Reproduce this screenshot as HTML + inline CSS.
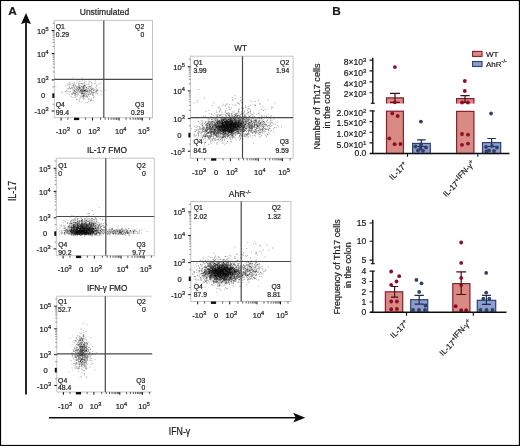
<!DOCTYPE html><html><head><meta charset="utf-8"><style>html,body{margin:0;padding:0;background:#fff}svg{display:block}text{stroke:#1a1a1a;stroke-width:.2px}</style></head><body>
<svg width="520" height="446" viewBox="0 0 520 446" font-family='"Liberation Sans", sans-serif' fill="#1a1a1a">
<defs><filter id="b" x="0" y="0" width="520" height="446" filterUnits="userSpaceOnUse"><feGaussianBlur stdDeviation="0.3"/></filter></defs>
<rect x="0" y="0" width="520" height="446" fill="#000"/><rect x="1.1" y="1.05" width="517.75" height="443.85" fill="#fff"/>
<g filter="url(#b)">
<path d="M83.5 87.1h.9M84.0 85.3h.9M84.4 91.6h.9M67.1 83.8h.9M84.8 97.2h.9M70.3 88.8h.9M83.2 86.8h.9M73.0 85.1h.9M78.0 87.0h.9M81.9 93.5h.9M85.2 89.8h.9M91.2 85.1h.9M79.5 89.9h.9M81.3 91.1h.9M81.8 93.2h.9M83.3 87.8h.9M72.4 92.7h.9M84.9 90.2h.9M82.0 96.5h.9M83.8 89.7h.9M84.3 95.4h.9M65.2 91.6h.9M84.6 90.6h.9M82.1 80.4h.9M78.1 94.0h.9M77.5 95.7h.9M71.6 94.3h.9M95.6 91.3h.9M83.3 95.6h.9M74.0 95.0h.9M79.7 95.6h.9M93.6 92.5h.9M91.8 89.2h.9M79.6 97.6h.9M99.7 84.1h.9M83.4 93.6h.9M81.4 95.9h.9M69.4 82.7h.9M74.9 93.6h.9M100.9 94.8h.9M79.5 81.3h.9M83.3 83.1h.9M95.0 80.8h.9M83.9 82.6h.9M74.5 91.9h.9M83.4 88.3h.9M86.8 97.0h.9M81.2 89.3h.9M78.7 101.0h.9M89.3 90.2h.9M96.5 91.9h.9M87.9 94.1h.9M80.1 87.6h.9M76.2 87.4h.9M78.3 87.1h.9M81.3 93.9h.9M94.5 97.0h.9M100.3 90.5h.9M91.8 83.4h.9M85.3 93.4h.9M87.8 88.9h.9M66.8 85.4h.9M80.3 91.3h.9M73.4 89.9h.9M93.1 97.9h.9M80.2 89.9h.9M85.4 96.4h.9M80.3 96.7h.9M87.5 94.6h.9M81.0 92.8h.9M84.9 90.3h.9M86.4 94.0h.9M76.4 99.7h.9M70.3 84.1h.9M96.4 92.8h.9M82.2 94.8h.9M91.7 88.0h.9M68.0 84.9h.9M73.8 95.7h.9" stroke="#000" stroke-width=".9" stroke-opacity="0.33" fill="none"/>
<path d="M86.1 87.6h.9M95.0 83.0h.9M75.5 90.6h.9M72.4 93.6h.9M81.9 77.8h.9M79.4 83.7h.9M91.1 82.5h.9M84.2 90.5h.9M100.7 91.4h.9M89.4 90.6h.9M79.5 88.1h.9M93.3 88.5h.9M82.7 88.8h.9M96.6 86.0h.9M73.9 82.7h.9M89.2 89.9h.9M86.5 96.3h.9M102.8 80.2h.9M81.7 89.0h.9M74.4 84.5h.9M78.4 87.0h.9M90.8 89.8h.9M70.3 91.5h.9M75.1 88.8h.9M72.5 77.6h.9M80.7 92.1h.9M76.6 99.4h.9M71.0 96.9h.9M84.1 83.9h.9M73.0 92.5h.9M79.1 86.4h.9M89.4 86.9h.9M82.3 96.3h.9M96.5 90.9h.9M96.3 84.9h.9M90.7 89.7h.9M83.8 90.7h.9M87.8 86.3h.9M75.9 99.8h.9M71.5 87.8h.9M89.9 94.1h.9M64.6 91.5h.9M83.9 96.4h.9M83.0 86.7h.9M87.9 84.1h.9M72.1 87.4h.9M61.0 92.8h.9M82.0 91.1h.9M80.2 90.3h.9M84.4 95.1h.9M88.3 88.7h.9M84.1 93.6h.9M81.5 93.2h.9M91.1 92.9h.9M85.1 86.7h.9M81.8 90.2h.9M75.7 92.3h.9M81.8 91.7h.9M75.4 89.1h.9M86.1 87.6h.9M99.6 87.8h.9M71.4 85.8h.9M77.7 89.6h.9M83.0 86.7h.9M92.6 92.3h.9M80.6 102.0h.9M92.1 89.0h.9M92.4 92.7h.9M67.2 91.1h.9M73.8 93.7h.9M69.1 84.8h.9M74.5 85.4h.9M80.9 89.7h.9M83.5 95.6h.9M76.8 93.8h.9M88.7 94.3h.9M75.7 89.5h.9M83.0 96.5h.9M86.8 89.0h.9" stroke="#000" stroke-width=".9" stroke-opacity="0.33" fill="none"/>
<path d="M81.1 93.3h.9M79.3 99.1h.9M83.2 99.5h.9M67.7 93.7h.9M61.9 92.1h.9M75.1 85.9h.9M78.5 88.7h.9M95.2 91.2h.9M90.1 88.4h.9M82.9 91.9h.9M84.6 91.9h.9M72.1 88.8h.9M94.3 89.7h.9M79.8 91.7h.9M83.4 92.9h.9M80.6 93.6h.9M69.0 94.6h.9M76.3 92.1h.9M89.5 92.4h.9M85.7 87.7h.9M82.5 90.5h.9M68.5 91.7h.9M94.2 83.6h.9M92.9 95.4h.9M94.3 90.8h.9M78.7 91.9h.9M97.7 90.8h.9M81.7 86.3h.9M77.0 86.3h.9M95.0 93.7h.9M88.9 87.2h.9M86.8 91.3h.9M88.2 101.3h.9M72.8 85.8h.9M73.7 93.3h.9M69.4 92.3h.9M76.1 87.0h.9M83.0 89.0h.9M85.2 89.8h.9M91.1 100.0h.9M82.8 89.9h.9M77.5 87.1h.9M73.4 91.4h.9M83.8 85.3h.9M77.6 91.8h.9M98.3 83.9h.9M85.7 87.8h.9M93.7 89.4h.9M67.9 88.9h.9M85.4 92.1h.9M83.0 97.6h.9M80.5 97.0h.9M81.6 86.5h.9M76.9 91.9h.9M83.5 85.2h.9M74.5 92.0h.9M92.8 93.1h.9M78.4 84.3h.9M76.1 90.0h.9M80.9 90.5h.9M88.6 94.7h.9M90.8 89.0h.9M89.0 83.0h.9M82.0 93.6h.9M92.8 96.6h.9M72.3 93.7h.9M68.6 82.0h.9M85.3 94.6h.9M95.1 92.1h.9M105.3 90.0h.9M80.2 90.5h.9M79.2 91.4h.9M74.7 93.7h.9M77.9 90.3h.9M86.8 91.1h.9M83.1 91.5h.9M83.2 96.2h.9M93.0 90.9h.9" stroke="#000" stroke-width=".9" stroke-opacity="0.33" fill="none"/>
<path d="M75.8 86.9h.9M78.2 89.0h.9M89.5 86.4h.9M81.5 86.3h.9M78.9 85.6h.9M76.5 96.8h.9M82.5 90.6h.9M70.2 96.0h.9M73.2 86.9h.9M89.2 90.3h.9M73.3 90.2h.9M76.7 80.9h.9M89.4 86.6h.9M80.9 91.3h.9M79.7 91.7h.9M92.5 93.3h.9M66.0 90.9h.9M78.1 83.7h.9M88.0 99.0h.9M76.1 92.4h.9M66.3 93.2h.9M90.0 86.6h.9M95.9 89.8h.9M78.8 92.3h.9M82.2 93.2h.9M83.6 94.4h.9M77.7 90.3h.9M78.1 89.7h.9M87.4 92.6h.9M79.1 88.4h.9M80.9 91.6h.9M78.7 88.9h.9M90.2 100.3h.9M90.9 91.7h.9M69.0 86.6h.9M65.4 85.8h.9M70.5 88.5h.9M87.0 102.6h.9M76.8 88.8h.9M82.7 98.6h.9M84.2 92.8h.9M66.6 88.4h.9M75.4 95.5h.9M90.4 88.9h.9M92.9 90.8h.9M96.1 91.3h.9M83.0 97.4h.9M86.4 90.6h.9M97.0 94.0h.9M81.3 91.2h.9M78.5 81.6h.9M74.0 83.1h.9M84.4 81.3h.9M88.5 98.3h.9M75.0 92.3h.9M86.2 91.4h.9M96.6 93.4h.9M71.9 97.7h.9M79.2 87.3h.9M83.2 95.3h.9M84.0 85.6h.9M89.6 81.5h.9M102.9 89.7h.9M73.6 87.6h.9M79.4 88.4h.9M71.1 87.8h.9M76.8 89.2h.9M73.1 85.2h.9M88.6 99.3h.9M82.0 92.1h.9M92.0 95.3h.9M79.6 85.7h.9M72.4 90.8h.9M75.1 96.8h.9M81.5 92.9h.9M74.2 90.6h.9M68.7 83.7h.9M70.4 84.1h.9" stroke="#000" stroke-width=".9" stroke-opacity="0.33" fill="none"/>
<path d="M79.6 92.6h.9M87.7 92.1h.9M71.9 83.1h.9M72.6 83.9h.9M83.1 95.5h.9M92.6 95.0h.9M84.4 90.5h.9M90.9 99.7h.9M84.1 90.6h.9M95.9 88.1h.9M78.5 84.3h.9M89.1 91.5h.9M80.7 89.4h.9M86.5 90.3h.9M93.5 92.6h.9M83.5 91.7h.9M80.9 83.5h.9M85.3 85.0h.9M74.6 97.6h.9M91.9 93.1h.9M73.8 93.0h.9M76.2 82.9h.9M82.9 88.0h.9M83.1 88.0h.9M91.8 94.4h.9M80.3 88.2h.9M74.4 91.2h.9M68.4 89.1h.9M78.9 87.5h.9M86.0 95.6h.9M82.2 87.5h.9M71.6 94.4h.9M90.6 91.5h.9M87.7 93.1h.9M90.5 90.5h.9M85.7 89.3h.9M82.1 89.7h.9M75.0 94.7h.9M86.6 96.5h.9M83.4 93.4h.9M81.0 93.8h.9M55.5 86.5h.9M93.2 100.4h.9M88.3 91.4h.9M72.6 88.8h.9M79.5 99.0h.9M84.2 90.6h.9M83.5 85.8h.9M91.8 94.5h.9M81.7 97.8h.9M78.0 87.4h.9M82.9 94.2h.9M69.8 88.4h.9M96.6 90.6h.9M87.5 88.1h.9M72.8 93.1h.9M85.7 84.3h.9M83.9 91.3h.9M86.0 91.4h.9M85.3 102.7h.9M69.0 87.8h.9M82.2 84.1h.9M85.4 94.6h.9M84.5 85.5h.9M87.9 95.3h.9M90.3 90.8h.9M85.0 91.0h.9M75.5 94.3h.9M95.1 87.2h.9M97.2 90.3h.9M72.7 85.8h.9M83.1 96.0h.9M83.1 91.2h.9M90.8 92.0h.9M77.0 88.1h.9M82.6 95.5h.9M89.1 96.6h.9M74.1 88.7h.9" stroke="#000" stroke-width=".9" stroke-opacity="0.33" fill="none"/>
<path d="M75.0 85.9h.9M86.6 90.8h.9M79.6 86.0h.9M85.8 89.3h.9M84.5 85.9h.9M76.6 88.6h.9M84.0 90.4h.9M84.5 90.2h.9M88.5 86.3h.9M77.7 86.2h.9M81.8 91.0h.9M66.4 90.6h.9M80.3 88.1h.9M82.5 88.7h.9M89.1 92.9h.9M88.5 84.1h.9M75.8 94.7h.9M87.7 88.1h.9M82.8 90.3h.9M85.2 91.4h.9M86.6 95.9h.9M90.2 93.8h.9M81.1 86.7h.9M76.7 90.4h.9M83.6 98.6h.9M80.9 90.5h.9M86.4 97.1h.9M89.8 94.7h.9M82.3 83.8h.9M83.2 89.7h.9M83.7 93.9h.9M91.7 88.3h.9M91.4 92.2h.9M91.0 87.4h.9M74.8 91.3h.9M83.9 86.1h.9M75.1 93.6h.9M77.8 90.0h.9M86.4 93.2h.9M71.0 93.3h.9M93.4 89.8h.9M78.9 89.0h.9M84.9 91.0h.9M85.4 81.7h.9M82.3 90.4h.9M90.1 100.2h.9M74.2 90.0h.9M96.6 89.8h.9M91.4 86.1h.9M84.0 87.7h.9M97.3 89.1h.9M91.0 89.9h.9M81.5 83.8h.9M80.8 83.6h.9M100.8 82.7h.9M74.0 90.5h.9M88.3 90.3h.9M96.2 85.9h.9M81.7 87.8h.9M82.8 86.1h.9M86.8 90.8h.9M68.8 88.1h.9M76.8 93.0h.9M73.6 86.6h.9M82.4 88.0h.9M81.9 92.2h.9M86.9 91.5h.9M90.4 100.8h.9M80.2 90.1h.9M77.9 91.1h.9M92.7 90.2h.9M78.9 101.1h.9M91.1 98.3h.9M79.0 87.5h.9M88.6 81.3h.9M83.9 88.7h.9M74.2 87.4h.9M77.1 94.7h.9" stroke="#000" stroke-width=".9" stroke-opacity="0.33" fill="none"/>
<rect x="54.3" y="20.4" width="98.2" height="97.3" fill="none" stroke="#c4c4c4" stroke-width="1"/>
<path d="M103.8 20.4V117.7M54.3 79.4H152.5" stroke="#4a4a4a" stroke-width="1.2" fill="none"/>
<path d="M51.7 111.0H54.3M61.1 117.7V120.5M51.7 79.9H54.3M92.5 117.7V120.5M51.7 53.5H54.3M119.1 117.7V120.5M51.7 30.5H54.3M142.3 117.7V120.5" stroke="#111" stroke-width="1" fill="none"/>
<path d="M52.7 104.2H54.3M52.7 86.8H54.3M52.7 71.9H54.3M52.7 67.3H54.3M52.7 64.0H54.3M52.7 61.4H54.3M52.7 59.3H54.3M52.7 57.6H54.3M52.7 56.0H54.3M52.7 54.7H54.3M52.7 46.6H54.3M52.7 42.5H54.3M52.7 39.7H54.3M52.7 37.4H54.3M52.7 35.6H54.3M52.7 34.1H54.3M52.7 32.7H54.3M52.7 31.6H54.3M52.7 23.2H54.3" stroke="#777" stroke-width=".8" fill="none"/>
<path d="M67.9 117.7V119.8M85.5 117.7V119.8M100.5 117.7V119.8M105.2 117.7V119.8M108.5 117.7V119.8M111.1 117.7V119.8M113.2 117.7V119.8M115.0 117.7V119.8M116.5 117.7V119.8M117.9 117.7V119.8M126.1 117.7V119.8M130.2 117.7V119.8M133.1 117.7V119.8M135.3 117.7V119.8M137.2 117.7V119.8M138.7 117.7V119.8M140.1 117.7V119.8M141.2 117.7V119.8M149.6 117.7V119.8" stroke="#333" stroke-width=".8" fill="none"/>
<rect x="52.3" y="93.3" width="2" height="4.6" fill="#111"/>
<rect x="74.0" y="117.7" width="5.2" height="2.4" fill="#111"/>
<text x="48.70" y="33.81" font-size="7.6" text-anchor="end">10<tspan font-size="5.60" dy="-2.8">5</tspan></text>
<text x="48.70" y="56.79" font-size="7.6" text-anchor="end">10<tspan font-size="5.60" dy="-2.8">4</tspan></text>
<text x="48.70" y="83.15" font-size="7.6" text-anchor="end">10<tspan font-size="5.60" dy="-2.8">3</tspan></text>
<text x="48.70" y="114.26" font-size="7.6" text-anchor="end">-10<tspan font-size="5.60" dy="-2.8">3</tspan></text>
<text x="45.3" y="98.3" font-size="7.6" text-anchor="end">0</text>
<text x="62.70" y="134.20" font-size="7.6" text-anchor="middle">-10<tspan font-size="5.60" dy="-2.8">3</tspan></text>
<text x="79.10" y="134.20" font-size="7.6" text-anchor="middle">0</text>
<text x="94.10" y="134.20" font-size="7.6" text-anchor="middle">10<tspan font-size="5.60" dy="-2.8">3</tspan></text>
<text x="120.70" y="134.20" font-size="7.6" text-anchor="middle">10<tspan font-size="5.60" dy="-2.8">4</tspan></text>
<text x="143.90" y="134.20" font-size="7.6" text-anchor="middle">10<tspan font-size="5.60" dy="-2.8">5</tspan></text>
<text x="104.5" y="15.3" font-size="8.5" text-anchor="middle" textLength="49.4" lengthAdjust="spacingAndGlyphs">Unstimulated</text>
<text x="55.8" y="28.7" font-size="6.8">Q1</text><text x="55.8" y="36.8" font-size="6.8">0.29</text>
<text x="144.2" y="28.7" font-size="6.8" text-anchor="end">Q2</text><text x="144.2" y="36.8" font-size="6.8" text-anchor="end">0</text>
<text x="144.2" y="107.4" font-size="6.8" text-anchor="end">Q3</text><text x="144.2" y="115.0" font-size="6.8" text-anchor="end">0.29</text>
<text x="55.8" y="107.4" font-size="6.8">Q4</text><text x="55.8" y="115.0" font-size="6.8">99.4</text>
<path d="M86.5 234.1h.9M78.8 234.3h.9M84.8 231.9h.9M89.9 234.4h.9M88.6 232.8h.9M82.3 230.8h.9M81.1 223.2h.9M82.8 229.8h.9M82.2 231.4h.9M83.7 217.0h.9M86.0 234.4h.9M91.2 231.8h.9M80.6 231.0h.9M76.9 231.2h.9M65.6 232.2h.9M85.5 224.0h.9M84.1 227.0h.9M97.8 222.4h.9M80.7 225.5h.9M75.6 230.5h.9M90.3 227.7h.9M89.4 222.9h.9M90.4 223.1h.9M95.5 231.8h.9M85.3 226.7h.9M84.1 229.8h.9M77.2 231.6h.9M89.7 233.6h.9M89.3 233.2h.9M81.5 234.4h.9M81.9 230.2h.9M76.6 233.4h.9M76.4 232.4h.9M88.5 223.6h.9M92.0 218.4h.9M77.8 230.6h.9M102.9 226.9h.9M78.8 230.6h.9M74.4 233.9h.9M67.5 231.8h.9M79.8 229.2h.9M81.7 234.9h.9M78.8 233.4h.9M81.5 221.0h.9M68.2 230.5h.9M81.4 231.8h.9M82.7 232.7h.9M84.9 234.3h.9M80.1 228.0h.9M94.6 228.1h.9M90.7 227.2h.9M90.9 220.5h.9M74.6 232.9h.9M79.2 228.7h.9M78.9 232.2h.9M82.2 234.8h.9M89.1 222.8h.9M87.3 230.2h.9M84.4 226.8h.9M93.5 228.5h.9M83.7 234.1h.9M85.2 232.2h.9M69.5 229.5h.9M76.6 232.4h.9M95.2 234.4h.9M106.0 224.7h.9M72.5 229.0h.9M76.5 230.8h.9M78.8 233.5h.9M100.1 227.6h.9M97.5 226.3h.9M71.3 231.2h.9M87.9 234.4h.9M80.6 231.0h.9M91.1 218.4h.9M76.9 229.7h.9M95.5 230.5h.9M64.3 230.8h.9M99.4 234.4h.9M90.7 229.8h.9M76.6 227.7h.9M103.1 225.4h.9M85.5 231.2h.9M79.2 230.9h.9M70.9 230.0h.9M80.0 225.0h.9M105.5 223.4h.9M70.4 223.4h.9M103.0 223.5h.9M75.0 232.5h.9M78.9 230.4h.9M82.1 226.9h.9M75.7 234.6h.9M79.6 234.9h.9M89.8 225.6h.9M93.0 229.8h.9M86.5 232.4h.9M86.9 228.5h.9M82.2 227.7h.9M66.9 232.2h.9M84.4 229.4h.9M96.5 229.5h.9M60.4 232.7h.9M73.7 227.7h.9M82.4 228.2h.9M77.9 231.1h.9M88.6 215.7h.9M90.0 229.5h.9M101.6 229.6h.9M83.6 228.1h.9M68.6 230.4h.9M72.4 233.4h.9M79.6 232.3h.9M74.2 234.3h.9M84.1 234.0h.9M77.4 229.8h.9M81.2 234.2h.9M78.6 230.9h.9M88.6 229.1h.9M88.1 227.3h.9M90.5 225.3h.9M72.2 233.8h.9M75.9 229.2h.9M79.1 230.7h.9M80.2 235.4h.9M77.4 223.8h.9M88.0 229.0h.9M65.7 233.9h.9M85.9 232.4h.9M95.2 223.2h.9M71.8 229.4h.9M88.5 227.9h.9M90.4 228.9h.9M77.7 228.1h.9M93.1 229.6h.9M90.0 231.9h.9M91.3 218.2h.9M98.3 228.5h.9M76.4 233.9h.9M85.5 229.6h.9M90.6 230.3h.9M73.9 231.2h.9M71.7 228.0h.9M73.0 230.6h.9M75.7 230.9h.9M76.7 233.1h.9M83.9 228.4h.9M92.6 232.7h.9M74.7 234.3h.9M85.6 232.3h.9M72.9 230.0h.9M96.3 218.8h.9M83.1 223.9h.9M85.0 233.6h.9M91.4 220.9h.9M76.9 232.8h.9M86.0 220.5h.9M74.3 226.8h.9M79.3 233.8h.9M78.6 230.0h.9M92.5 230.5h.9M78.7 232.0h.9M94.3 231.3h.9M85.6 230.6h.9M88.9 225.4h.9M93.7 221.6h.9M80.0 231.8h.9M66.6 230.5h.9M74.2 227.6h.9M69.8 230.3h.9M73.7 236.2h.9M77.6 227.5h.9M90.8 228.3h.9M83.4 231.7h.9M89.1 223.7h.9M72.1 233.3h.9M77.3 224.0h.9M81.6 227.3h.9M76.3 228.7h.9M85.0 228.6h.9M74.1 231.9h.9M81.4 231.9h.9M73.2 228.2h.9M84.3 230.3h.9M74.2 224.3h.9M90.3 226.5h.9M98.8 225.7h.9M95.3 230.5h.9M83.5 231.5h.9M71.2 226.0h.9M73.2 231.6h.9M85.9 231.1h.9M76.8 225.5h.9M82.9 233.4h.9M80.5 234.5h.9M93.0 228.3h.9M89.3 230.6h.9M89.5 225.6h.9M83.3 232.5h.9M80.9 232.1h.9M75.1 232.4h.9M79.1 229.0h.9M87.7 233.3h.9M98.2 226.8h.9M67.1 233.0h.9M85.3 232.1h.9M83.1 232.3h.9M98.8 228.6h.9M89.2 229.6h.9M77.2 229.5h.9M71.2 234.1h.9M85.1 232.7h.9M66.8 230.9h.9M84.3 230.8h.9M91.3 228.4h.9M91.2 231.0h.9M77.0 221.5h.9M93.2 231.6h.9M75.3 227.7h.9M96.2 234.1h.9M81.2 231.6h.9M88.5 229.3h.9M74.6 233.3h.9M91.7 225.3h.9M79.6 232.9h.9M79.5 225.3h.9M73.1 235.0h.9M92.6 226.8h.9M84.5 221.7h.9M92.6 227.4h.9M78.0 232.7h.9M83.6 231.1h.9M76.4 231.8h.9M87.5 228.2h.9M71.0 232.2h.9M70.7 231.2h.9M90.5 234.4h.9M88.2 226.8h.9M79.1 231.0h.9M84.5 230.0h.9M90.3 231.1h.9M80.7 226.5h.9M88.8 219.2h.9M73.0 226.7h.9M76.6 231.4h.9M84.4 231.5h.9M80.4 235.0h.9M94.8 223.1h.9M82.6 225.9h.9M85.3 233.0h.9M85.2 233.7h.9M77.3 226.7h.9M90.4 226.2h.9M86.7 228.3h.9M76.6 226.0h.9M86.3 231.9h.9M90.9 224.2h.9M92.5 225.3h.9M91.0 229.5h.9M65.4 230.8h.9M100.9 229.6h.9M74.1 228.9h.9M86.6 229.3h.9M86.7 233.1h.9M78.7 231.8h.9M69.7 231.0h.9M79.0 229.7h.9M92.0 226.2h.9M89.0 227.4h.9M92.9 230.9h.9M81.6 223.1h.9M86.2 232.5h.9M94.1 233.6h.9M89.8 231.6h.9M80.0 235.2h.9M76.0 232.6h.9M70.1 227.1h.9M84.2 228.8h.9M86.1 217.1h.9M84.0 225.3h.9M86.4 219.1h.9M72.8 232.1h.9M75.6 230.2h.9M89.1 233.9h.9M71.2 223.2h.9M77.2 226.2h.9M87.3 225.3h.9M81.9 230.5h.9M72.9 233.2h.9M89.6 224.7h.9M73.7 216.1h.9M86.9 233.1h.9M70.8 227.4h.9M67.1 233.0h.9M74.2 231.1h.9M99.2 233.3h.9M71.6 232.5h.9M84.1 232.8h.9M79.4 233.0h.9M73.4 228.3h.9M86.9 231.2h.9M81.1 229.9h.9M64.7 221.3h.9M73.6 227.4h.9M74.3 229.3h.9M95.7 233.5h.9M88.1 235.1h.9M89.7 231.3h.9M98.0 230.9h.9M92.6 222.2h.9M76.3 230.0h.9M96.3 231.2h.9M88.2 229.3h.9M77.5 231.6h.9M69.0 233.0h.9M71.6 227.7h.9M92.0 228.8h.9M94.9 231.0h.9M91.3 223.3h.9M75.9 229.8h.9M82.3 232.7h.9M66.9 229.9h.9M88.2 226.7h.9M84.3 224.0h.9M78.7 230.3h.9M60.0 225.7h.9M95.2 225.6h.9M89.9 233.3h.9M84.4 231.9h.9M76.4 228.4h.9M91.3 224.2h.9M87.9 229.9h.9M86.3 226.9h.9M94.6 226.2h.9M79.1 235.1h.9M89.2 228.3h.9M85.6 222.8h.9M84.2 234.2h.9M87.4 218.6h.9M85.1 227.5h.9M69.4 225.7h.9M65.1 231.7h.9M80.7 232.5h.9M85.3 231.6h.9M73.4 225.4h.9M90.9 225.2h.9M71.2 234.8h.9M61.5 233.4h.9M98.5 232.2h.9M88.6 223.0h.9M81.8 232.9h.9M76.6 229.9h.9M83.3 231.1h.9M71.4 228.6h.9M87.0 232.0h.9M94.5 233.2h.9M79.8 233.0h.9M100.6 233.5h.9M59.0 231.2h.9M80.9 223.9h.9M83.8 233.5h.9M92.4 229.5h.9M83.9 231.7h.9M101.4 224.0h.9M89.4 225.3h.9M86.2 232.2h.9M71.2 234.0h.9M119.2 232.5h.9M111.9 232.0h.9M118.7 231.5h.9M124.0 231.8h.9M123.6 234.7h.9M120.0 232.5h.9M112.0 229.5h.9M124.2 232.8h.9M136.5 229.0h.9M123.2 232.3h.9M96.3 233.2h.9M102.7 233.4h.9M125.2 228.2h.9M120.6 233.7h.9M135.4 233.3h.9M121.4 232.4h.9M111.6 230.5h.9M127.9 233.4h.9M112.9 230.8h.9M108.6 229.9h.9M125.6 231.3h.9M118.0 233.3h.9M133.2 232.7h.9M127.2 231.8h.9M118.9 232.1h.9M133.6 229.5h.9M113.9 233.1h.9M125.4 229.6h.9M115.5 232.2h.9M125.4 232.6h.9M121.5 232.4h.9M104.6 232.1h.9M137.6 232.1h.9M108.4 229.9h.9M107.2 234.0h.9M125.3 233.8h.9M122.3 234.1h.9M110.4 232.2h.9M111.2 228.6h.9M123.9 232.8h.9M109.7 231.0h.9M118.1 233.0h.9M110.1 231.6h.9" stroke="#000" stroke-width=".9" stroke-opacity="0.36" fill="none"/>
<path d="M89.1 232.7h.9M83.6 233.1h.9M90.5 224.9h.9M80.3 228.1h.9M89.7 226.9h.9M91.7 232.8h.9M75.4 229.9h.9M87.2 228.1h.9M87.9 231.4h.9M75.3 232.7h.9M86.3 230.7h.9M77.4 233.1h.9M67.6 225.5h.9M81.1 233.4h.9M74.8 220.2h.9M80.3 230.3h.9M74.7 233.3h.9M66.1 232.9h.9M71.3 228.6h.9M79.6 225.1h.9M79.8 225.4h.9M77.6 230.6h.9M92.8 229.6h.9M62.6 230.2h.9M81.2 226.2h.9M84.9 227.1h.9M100.3 233.2h.9M84.9 230.8h.9M79.6 229.5h.9M91.9 233.7h.9M80.4 233.4h.9M78.8 233.5h.9M63.7 228.4h.9M71.6 233.6h.9M103.8 226.6h.9M74.0 219.0h.9M75.8 230.6h.9M76.0 233.5h.9M79.8 230.0h.9M73.2 226.4h.9M76.1 228.7h.9M75.7 227.4h.9M90.9 226.4h.9M90.0 226.9h.9M75.4 223.1h.9M75.9 233.2h.9M70.3 230.8h.9M70.1 231.1h.9M85.4 230.5h.9M88.6 226.6h.9M79.9 233.0h.9M92.0 229.3h.9M84.7 233.7h.9M72.5 232.5h.9M75.2 231.8h.9M107.0 231.7h.9M90.6 232.0h.9M87.9 230.4h.9M70.4 222.7h.9M88.0 232.2h.9M84.5 233.2h.9M75.3 220.3h.9M92.4 228.8h.9M84.9 220.2h.9M98.4 232.4h.9M89.1 229.6h.9M81.2 226.9h.9M72.0 232.2h.9M67.3 233.2h.9M70.3 230.9h.9M80.1 231.9h.9M74.6 224.4h.9M67.8 231.9h.9M89.4 233.5h.9M93.5 230.9h.9M61.6 233.8h.9M96.5 232.1h.9M68.5 231.1h.9M94.0 225.9h.9M72.4 230.2h.9M84.9 230.3h.9M87.1 226.5h.9M85.4 224.6h.9M70.9 230.2h.9M76.1 217.0h.9M95.5 229.0h.9M96.4 228.2h.9M77.2 224.9h.9M76.9 230.9h.9M87.5 230.7h.9M89.4 234.4h.9M91.7 229.9h.9M75.3 227.2h.9M81.3 228.8h.9M95.7 233.6h.9M97.4 230.2h.9M75.5 232.8h.9M70.7 227.5h.9M87.8 224.8h.9M91.7 219.5h.9M95.8 226.4h.9M75.1 229.0h.9M82.9 227.3h.9M95.6 231.4h.9M93.7 226.4h.9M99.9 233.4h.9M81.8 229.9h.9M78.8 230.2h.9M88.8 222.9h.9M81.6 228.4h.9M79.9 225.4h.9M81.0 233.6h.9M80.4 230.2h.9M73.5 230.8h.9M86.5 229.5h.9M82.4 234.0h.9M92.7 223.6h.9M101.5 235.2h.9M84.6 227.6h.9M70.7 231.5h.9M79.7 231.0h.9M75.1 230.6h.9M82.5 226.4h.9M89.7 221.9h.9M78.6 226.5h.9M79.5 226.7h.9M87.8 233.6h.9M93.5 232.8h.9M91.9 231.7h.9M84.4 232.1h.9M88.5 229.2h.9M76.5 232.1h.9M67.3 222.9h.9M102.1 220.2h.9M97.7 229.5h.9M92.8 233.5h.9M77.3 228.7h.9M87.1 227.2h.9M91.6 230.8h.9M83.9 230.5h.9M86.9 231.2h.9M64.6 225.9h.9M73.2 224.8h.9M73.9 234.8h.9M85.1 226.8h.9M92.5 230.0h.9M102.1 230.9h.9M93.3 231.3h.9M87.8 228.3h.9M72.6 232.5h.9M86.1 226.1h.9M80.5 230.8h.9M93.2 226.8h.9M84.9 233.5h.9M82.2 226.1h.9M80.3 226.4h.9M88.7 233.5h.9M82.8 224.5h.9M71.6 227.3h.9M89.9 230.1h.9M84.1 229.4h.9M82.6 228.3h.9M86.8 225.7h.9M85.6 228.9h.9M74.5 222.5h.9M73.5 230.8h.9M77.2 234.3h.9M82.0 227.6h.9M88.9 231.4h.9M88.1 225.7h.9M76.4 234.1h.9M78.8 221.2h.9M77.2 234.6h.9M76.0 225.9h.9M87.1 229.4h.9M85.1 232.8h.9M84.0 229.6h.9M75.4 233.5h.9M88.5 232.5h.9M73.5 226.9h.9M91.3 232.7h.9M83.0 233.0h.9M71.5 215.6h.9M78.9 221.9h.9M76.5 227.6h.9M89.8 227.1h.9M74.9 231.9h.9M77.4 234.6h.9M68.3 231.2h.9M98.9 235.3h.9M91.9 223.3h.9M100.0 228.7h.9M64.2 234.6h.9M88.0 232.6h.9M83.7 232.3h.9M91.1 231.9h.9M85.4 233.8h.9M84.3 228.6h.9M70.6 231.4h.9M86.0 225.1h.9M85.4 229.9h.9M82.6 224.9h.9M87.0 230.2h.9M66.9 231.8h.9M79.8 233.4h.9M80.9 221.3h.9M81.5 227.2h.9M88.3 232.1h.9M76.5 229.5h.9M80.1 227.8h.9M71.0 230.6h.9M73.6 227.2h.9M86.2 230.9h.9M86.5 230.9h.9M91.6 229.6h.9M76.2 231.8h.9M76.9 229.9h.9M100.9 231.6h.9M95.4 233.3h.9M74.1 226.6h.9M74.6 226.2h.9M93.1 223.3h.9M83.8 234.9h.9M83.0 232.0h.9M89.4 234.8h.9M84.5 232.3h.9M94.3 223.1h.9M81.1 230.5h.9M83.3 231.3h.9M85.3 218.4h.9M75.1 222.7h.9M81.6 226.3h.9M97.1 224.6h.9M79.6 228.9h.9M71.7 231.4h.9M80.2 229.1h.9M78.0 228.2h.9M88.0 229.6h.9M71.2 223.8h.9M81.0 223.9h.9M85.1 230.7h.9M85.5 223.0h.9M86.6 228.3h.9M89.3 228.2h.9M82.8 230.6h.9M85.9 231.7h.9M85.9 222.6h.9M80.8 224.5h.9M71.5 232.2h.9M93.1 232.6h.9M84.5 223.5h.9M65.8 231.8h.9M83.8 234.1h.9M86.6 228.0h.9M82.2 227.6h.9M66.9 230.3h.9M82.5 233.1h.9M86.9 223.3h.9M86.2 231.2h.9M94.4 227.6h.9M87.2 224.9h.9M63.9 232.6h.9M97.2 230.4h.9M81.4 230.4h.9M67.8 226.5h.9M71.5 220.1h.9M87.2 228.4h.9M86.9 229.8h.9M82.0 228.5h.9M80.5 232.2h.9M96.0 230.8h.9M90.5 219.2h.9M79.5 230.7h.9M91.3 224.8h.9M92.0 228.2h.9M86.7 227.3h.9M84.9 225.4h.9M89.8 230.4h.9M77.8 230.4h.9M81.6 231.4h.9M70.9 226.3h.9M70.2 221.4h.9M89.9 231.1h.9M87.8 234.4h.9M95.1 228.7h.9M96.1 219.8h.9M89.3 233.7h.9M90.6 226.1h.9M76.0 231.2h.9M89.1 230.8h.9M77.4 232.3h.9M83.5 231.0h.9M102.4 229.9h.9M76.4 229.0h.9M85.4 233.5h.9M78.0 232.7h.9M84.4 234.4h.9M86.2 227.9h.9M74.3 234.1h.9M78.5 228.6h.9M83.4 231.3h.9M86.0 230.5h.9M78.6 220.5h.9M82.1 224.9h.9M83.3 230.7h.9M76.0 230.5h.9M83.4 229.3h.9M89.0 228.1h.9M72.4 230.6h.9M79.0 233.0h.9M82.5 231.8h.9M73.2 232.1h.9M81.8 232.9h.9M105.8 224.3h.9M76.8 234.1h.9M73.0 226.8h.9M85.2 227.9h.9M84.8 233.1h.9M85.9 226.4h.9M97.6 227.6h.9M87.6 223.8h.9M88.8 231.6h.9M98.1 230.2h.9M79.1 228.5h.9M76.7 229.9h.9M77.1 219.3h.9M96.2 229.3h.9M73.5 225.0h.9M71.6 230.4h.9M77.4 234.6h.9M82.6 228.2h.9M91.0 231.9h.9M82.8 230.1h.9M85.6 225.8h.9M66.3 230.2h.9M82.4 229.9h.9M86.1 232.9h.9M81.4 228.8h.9M91.2 224.3h.9M71.0 229.4h.9M85.3 232.1h.9M80.4 231.5h.9M70.6 220.5h.9M88.1 230.1h.9M77.8 223.8h.9M83.7 231.5h.9M80.4 235.0h.9M90.5 227.8h.9M72.9 235.2h.9M79.4 233.1h.9M73.0 234.1h.9M87.3 214.0h.9M100.3 235.0h.9M101.4 232.5h.9M88.4 221.7h.9M89.9 233.7h.9M74.9 232.4h.9M82.4 231.2h.9M81.7 234.2h.9M89.2 222.4h.9M73.3 222.8h.9M82.8 232.4h.9M79.3 231.3h.9M84.9 229.7h.9M81.1 223.3h.9M104.0 229.5h.9M74.9 222.7h.9M113.6 231.0h.9M127.0 230.5h.9M114.4 229.8h.9M114.8 231.1h.9M120.3 232.1h.9M118.9 234.1h.9M125.1 232.5h.9M113.0 231.0h.9M121.6 229.3h.9M114.6 230.8h.9M115.0 232.8h.9M138.6 233.7h.9M120.2 230.6h.9M110.4 232.6h.9M121.6 231.4h.9M102.8 231.1h.9M120.4 230.3h.9M119.1 230.2h.9M132.7 231.6h.9M132.9 231.5h.9M121.6 228.4h.9M116.2 230.3h.9M114.7 229.8h.9M119.9 230.9h.9M113.4 233.1h.9M126.8 233.0h.9M117.3 234.4h.9M104.7 232.7h.9M102.5 232.8h.9M134.2 230.9h.9M141.4 230.0h.9M127.1 230.7h.9M115.8 230.9h.9M118.6 231.6h.9M110.7 229.5h.9M112.8 232.0h.9M119.7 231.2h.9M130.0 230.9h.9M116.9 230.6h.9M133.3 232.9h.9M120.9 229.2h.9M95.0 233.2h.9M119.5 231.3h.9" stroke="#000" stroke-width=".9" stroke-opacity="0.36" fill="none"/>
<path d="M77.5 233.5h.9M83.3 230.7h.9M93.2 228.6h.9M98.8 225.0h.9M89.3 231.2h.9M63.8 232.8h.9M86.2 229.2h.9M91.7 235.5h.9M92.0 230.3h.9M91.7 233.5h.9M79.4 223.0h.9M79.8 232.8h.9M81.1 226.8h.9M85.3 228.4h.9M96.5 235.3h.9M82.5 225.1h.9M88.0 226.7h.9M80.5 229.8h.9M84.0 225.7h.9M91.5 231.8h.9M73.5 232.5h.9M87.1 230.0h.9M76.7 229.9h.9M73.6 224.8h.9M92.7 231.3h.9M75.2 235.1h.9M102.6 219.6h.9M81.2 233.0h.9M79.3 231.5h.9M86.1 233.5h.9M89.5 234.7h.9M77.2 235.8h.9M76.8 227.9h.9M76.5 234.0h.9M94.0 235.0h.9M83.4 229.2h.9M82.0 234.1h.9M69.1 228.2h.9M83.3 222.3h.9M96.8 230.5h.9M82.5 229.0h.9M78.3 228.0h.9M93.0 223.1h.9M71.4 223.1h.9M82.8 231.7h.9M86.4 230.2h.9M75.7 229.1h.9M88.6 221.2h.9M88.4 232.2h.9M70.0 232.1h.9M75.1 230.1h.9M85.9 224.3h.9M93.1 229.3h.9M85.0 232.7h.9M84.5 227.6h.9M77.0 227.7h.9M93.8 228.9h.9M94.9 231.0h.9M73.0 229.5h.9M97.6 231.8h.9M78.5 233.8h.9M84.6 233.7h.9M77.9 232.7h.9M96.2 234.5h.9M83.2 229.1h.9M93.7 224.6h.9M85.4 235.0h.9M83.5 227.2h.9M71.5 230.9h.9M77.2 233.5h.9M73.2 225.3h.9M87.5 232.1h.9M80.3 230.4h.9M96.4 230.3h.9M91.4 225.8h.9M107.0 231.7h.9M96.2 233.5h.9M83.8 232.5h.9M82.6 233.6h.9M80.6 217.2h.9M75.4 233.7h.9M76.9 226.2h.9M88.2 230.9h.9M81.8 228.1h.9M75.0 229.9h.9M70.1 230.7h.9M74.2 219.2h.9M87.0 226.1h.9M85.2 227.8h.9M82.5 232.2h.9M88.5 218.6h.9M105.6 220.6h.9M74.5 233.4h.9M72.6 229.7h.9M80.9 229.4h.9M86.6 230.2h.9M77.1 227.9h.9M100.2 231.0h.9M86.6 231.5h.9M86.2 232.4h.9M81.3 233.9h.9M90.6 221.4h.9M73.7 231.7h.9M84.0 233.2h.9M91.2 231.2h.9M83.1 232.8h.9M77.2 234.2h.9M86.3 231.1h.9M79.9 230.2h.9M65.8 229.8h.9M82.7 234.1h.9M94.4 229.9h.9M84.9 223.7h.9M75.5 234.7h.9M76.6 227.9h.9M75.0 219.2h.9M78.7 234.0h.9M79.5 230.8h.9M100.5 223.5h.9M81.9 232.5h.9M79.3 234.3h.9M85.5 232.0h.9M93.0 232.8h.9M70.5 232.7h.9M83.8 230.8h.9M73.2 224.6h.9M74.5 224.7h.9M78.9 226.8h.9M84.1 229.2h.9M83.7 225.2h.9M86.0 225.0h.9M83.8 226.1h.9M88.9 221.0h.9M75.9 232.6h.9M77.0 233.7h.9M75.6 235.2h.9M102.4 229.5h.9M72.7 232.8h.9M84.2 223.9h.9M92.8 228.6h.9M91.8 228.2h.9M91.7 232.4h.9M79.9 232.9h.9M88.8 229.7h.9M84.7 235.0h.9M76.5 232.1h.9M86.1 234.3h.9M78.1 232.2h.9M65.6 229.1h.9M88.0 229.6h.9M74.8 233.2h.9M73.8 231.5h.9M90.2 229.5h.9M91.4 233.2h.9M80.9 218.5h.9M101.3 231.4h.9M98.3 229.9h.9M80.8 225.9h.9M95.6 230.7h.9M81.0 222.9h.9M81.7 232.6h.9M78.2 229.6h.9M82.5 225.8h.9M95.0 228.7h.9M98.4 232.3h.9M80.1 226.3h.9M79.7 231.8h.9M79.4 231.0h.9M83.8 233.8h.9M85.5 220.8h.9M96.2 232.9h.9M69.5 217.7h.9M82.4 228.1h.9M97.9 225.4h.9M98.5 232.2h.9M84.3 232.7h.9M72.3 231.0h.9M89.7 231.2h.9M69.2 226.7h.9M94.1 230.2h.9M97.6 232.2h.9M86.6 231.0h.9M86.0 231.6h.9M101.0 229.3h.9M86.3 224.6h.9M87.5 234.0h.9M80.8 233.8h.9M83.0 224.8h.9M83.9 233.4h.9M71.6 233.0h.9M97.7 235.5h.9M78.2 227.9h.9M81.9 223.0h.9M96.5 230.6h.9M83.2 232.8h.9M82.2 225.7h.9M91.4 228.7h.9M79.5 232.5h.9M92.1 234.2h.9M88.5 227.0h.9M92.8 231.3h.9M92.7 223.6h.9M95.9 233.3h.9M93.9 231.7h.9M77.2 227.0h.9M77.0 229.3h.9M71.0 229.4h.9M80.3 231.4h.9M83.5 224.3h.9M76.1 233.7h.9M87.0 232.9h.9M80.6 225.7h.9M85.8 231.7h.9M88.9 223.2h.9M71.0 220.6h.9M81.9 223.7h.9M99.0 224.8h.9M85.8 233.2h.9M95.0 231.0h.9M93.0 219.7h.9M69.4 227.0h.9M78.6 233.7h.9M80.3 228.8h.9M80.4 229.2h.9M88.5 229.2h.9M79.2 231.1h.9M91.5 228.6h.9M76.2 227.1h.9M78.3 224.0h.9M79.7 228.7h.9M93.1 224.3h.9M86.9 230.0h.9M80.6 231.4h.9M103.0 233.7h.9M86.5 230.7h.9M70.6 225.3h.9M75.6 233.9h.9M84.8 229.8h.9M96.8 229.9h.9M83.7 225.5h.9M80.5 231.6h.9M79.7 228.5h.9M68.9 223.2h.9M81.0 231.3h.9M87.9 227.1h.9M80.8 234.6h.9M86.2 224.4h.9M76.4 231.0h.9M81.1 230.8h.9M91.7 230.6h.9M85.6 230.0h.9M83.6 229.3h.9M97.2 228.3h.9M90.9 222.3h.9M70.7 230.6h.9M76.3 232.0h.9M83.1 224.9h.9M84.3 224.4h.9M90.5 232.8h.9M83.9 228.5h.9M69.7 225.0h.9M83.6 225.5h.9M66.8 229.6h.9M92.4 229.9h.9M100.3 226.2h.9M78.8 226.9h.9M88.1 230.3h.9M83.1 230.4h.9M76.1 223.9h.9M80.4 227.1h.9M95.7 227.8h.9M85.5 221.3h.9M80.4 234.2h.9M97.4 232.3h.9M86.3 228.7h.9M79.6 227.2h.9M88.2 226.3h.9M77.5 229.9h.9M86.5 233.0h.9M73.6 229.0h.9M82.5 232.9h.9M85.0 233.7h.9M75.8 233.7h.9M98.4 227.6h.9M95.5 225.7h.9M88.6 233.1h.9M73.1 231.1h.9M91.1 223.1h.9M87.7 234.0h.9M75.4 228.0h.9M81.2 231.8h.9M91.7 229.4h.9M93.2 214.5h.9M89.4 230.9h.9M78.8 222.4h.9M99.9 227.1h.9M88.8 232.7h.9M88.1 226.0h.9M68.6 234.0h.9M96.3 221.6h.9M77.8 227.5h.9M87.7 227.9h.9M74.9 223.5h.9M84.0 233.4h.9M99.0 233.6h.9M100.1 230.5h.9M81.5 229.5h.9M92.3 233.2h.9M84.9 230.5h.9M76.9 227.2h.9M91.8 230.4h.9M60.9 233.4h.9M77.0 233.4h.9M89.9 232.7h.9M76.7 232.5h.9M82.4 228.5h.9M83.0 232.3h.9M89.5 228.5h.9M81.0 231.7h.9M85.2 232.3h.9M73.9 227.8h.9M75.9 232.4h.9M86.0 231.0h.9M82.2 231.7h.9M89.4 232.0h.9M88.8 228.8h.9M90.8 232.8h.9M80.7 231.3h.9M92.9 224.9h.9M83.7 232.2h.9M90.3 219.3h.9M101.0 228.6h.9M95.4 226.7h.9M81.0 224.7h.9M90.3 224.0h.9M83.1 228.6h.9M82.9 233.1h.9M91.2 232.7h.9M87.0 225.7h.9M86.0 228.6h.9M82.6 228.3h.9M76.0 233.8h.9M78.9 231.2h.9M86.9 232.7h.9M82.1 232.1h.9M90.6 234.2h.9M82.2 223.3h.9M102.5 233.4h.9M83.7 229.5h.9M83.4 229.1h.9M96.3 221.1h.9M82.9 231.2h.9M64.0 227.0h.9M79.8 228.5h.9M93.0 228.6h.9M74.5 230.7h.9M80.8 218.2h.9M110.1 232.9h.9M84.5 232.0h.9M61.4 226.4h.9M91.0 228.7h.9M71.5 231.1h.9M83.3 225.8h.9M77.9 231.7h.9M83.4 224.1h.9M76.6 218.5h.9M117.4 232.4h.9M112.1 228.3h.9M121.6 231.3h.9M111.8 229.0h.9M130.7 232.0h.9M117.9 234.2h.9M115.4 233.3h.9M115.6 233.9h.9M117.6 227.8h.9M115.5 233.3h.9M122.6 231.2h.9M129.8 230.4h.9M121.8 228.2h.9M109.0 231.5h.9M103.1 229.4h.9M117.9 233.2h.9M139.5 230.1h.9M123.7 234.8h.9M141.0 233.2h.9M121.2 230.9h.9M126.4 231.1h.9M137.3 233.5h.9M106.0 232.5h.9M119.5 233.8h.9M132.5 233.4h.9M132.8 232.2h.9M113.5 231.8h.9M104.4 230.9h.9M128.7 231.9h.9M133.1 233.9h.9M108.0 233.0h.9M118.8 232.3h.9M122.3 234.7h.9M125.0 230.3h.9M119.2 230.7h.9M126.1 231.9h.9M114.0 230.9h.9M130.6 232.0h.9M128.7 230.7h.9M127.3 232.0h.9M146.9 231.6h.9M120.9 232.4h.9M129.4 234.3h.9M130.0 231.1h.9" stroke="#000" stroke-width=".9" stroke-opacity="0.36" fill="none"/>
<path d="M86.0 227.5h.9M78.2 228.0h.9M88.0 229.8h.9M97.5 227.1h.9M82.4 227.2h.9M88.4 229.8h.9M75.3 233.1h.9M81.8 223.8h.9M80.1 229.1h.9M79.6 230.1h.9M100.2 218.1h.9M86.7 233.1h.9M64.1 233.0h.9M70.8 232.6h.9M74.0 229.9h.9M87.8 228.3h.9M80.9 229.0h.9M90.5 234.1h.9M103.7 227.3h.9M76.0 231.2h.9M69.8 234.6h.9M98.9 224.8h.9M74.9 234.3h.9M80.7 234.6h.9M64.8 228.7h.9M77.6 228.2h.9M70.6 229.3h.9M78.4 224.6h.9M72.8 233.6h.9M87.3 233.0h.9M73.8 233.2h.9M84.4 229.2h.9M65.9 233.0h.9M98.1 228.1h.9M84.2 230.4h.9M74.9 232.7h.9M81.6 230.1h.9M75.1 232.8h.9M87.3 221.2h.9M64.4 232.9h.9M83.0 230.5h.9M84.9 230.4h.9M92.7 233.1h.9M84.8 223.4h.9M90.6 230.0h.9M80.9 232.4h.9M70.6 223.4h.9M93.7 219.7h.9M93.0 224.5h.9M81.9 219.7h.9M95.3 231.6h.9M62.1 232.2h.9M78.9 232.4h.9M86.6 225.4h.9M89.6 230.1h.9M94.8 231.9h.9M85.8 229.5h.9M86.6 228.6h.9M70.8 233.0h.9M91.5 230.2h.9M82.7 229.0h.9M90.1 230.5h.9M88.3 227.7h.9M85.4 232.1h.9M81.1 231.8h.9M87.6 226.5h.9M90.5 234.1h.9M77.0 220.2h.9M69.1 230.6h.9M90.8 227.6h.9M71.8 233.4h.9M87.9 228.1h.9M86.5 232.7h.9M64.4 228.3h.9M84.3 236.3h.9M89.0 213.5h.9M82.8 230.2h.9M74.6 222.7h.9M93.3 232.3h.9M71.8 231.8h.9M73.2 229.2h.9M89.0 227.1h.9M78.1 234.4h.9M74.9 228.1h.9M89.3 230.7h.9M95.7 224.4h.9M84.4 233.2h.9M84.9 232.9h.9M66.7 219.9h.9M74.1 230.2h.9M78.1 231.2h.9M90.2 224.4h.9M79.6 230.8h.9M97.0 227.1h.9M89.1 222.6h.9M89.5 223.9h.9M77.6 234.9h.9M93.1 225.5h.9M68.4 227.7h.9M82.0 231.6h.9M79.4 230.0h.9M72.1 223.1h.9M79.1 226.4h.9M96.5 223.9h.9M83.0 231.1h.9M73.1 231.9h.9M83.2 226.6h.9M93.6 229.7h.9M89.4 228.8h.9M81.5 233.4h.9M83.9 219.7h.9M77.0 231.8h.9M92.2 228.5h.9M75.7 226.6h.9M84.1 229.1h.9M85.4 234.3h.9M84.6 226.3h.9M78.5 233.1h.9M84.8 228.9h.9M82.4 226.5h.9M80.8 231.6h.9M84.2 233.6h.9M74.0 231.4h.9M68.3 227.0h.9M64.9 230.7h.9M71.3 227.0h.9M76.3 230.3h.9M76.3 231.9h.9M93.5 232.6h.9M75.2 231.7h.9M85.4 225.4h.9M62.8 225.1h.9M81.0 233.9h.9M77.0 219.3h.9M68.3 227.1h.9M81.6 223.9h.9M83.6 227.2h.9M86.2 232.1h.9M73.6 227.4h.9M89.0 227.9h.9M78.3 232.2h.9M76.8 228.0h.9M86.1 226.1h.9M82.4 227.6h.9M95.0 223.1h.9M79.9 233.9h.9M76.1 232.1h.9M77.7 227.6h.9M79.3 230.8h.9M81.5 231.5h.9M83.5 231.7h.9M91.7 231.4h.9M89.1 230.6h.9M78.6 228.5h.9M100.3 224.6h.9M84.8 232.4h.9M77.1 225.6h.9M63.2 220.6h.9M85.3 232.9h.9M82.5 226.3h.9M80.6 222.2h.9M82.0 227.4h.9M101.6 230.3h.9M82.8 232.7h.9M80.2 224.4h.9M71.1 223.2h.9M76.7 224.8h.9M87.2 230.5h.9M81.6 224.5h.9M81.7 220.9h.9M95.1 230.2h.9M83.3 231.6h.9M88.3 224.7h.9M88.5 231.3h.9M94.7 216.9h.9M106.0 224.7h.9M75.6 232.3h.9M78.4 231.3h.9M82.4 221.6h.9M92.4 233.1h.9M85.5 220.0h.9M70.0 231.2h.9M77.4 222.2h.9M84.2 231.3h.9M78.3 227.4h.9M87.1 232.3h.9M71.3 227.8h.9M79.9 229.2h.9M83.2 233.3h.9M96.2 230.7h.9M75.1 229.3h.9M87.6 229.0h.9M81.8 231.1h.9M82.5 232.8h.9M75.2 231.4h.9M76.5 235.1h.9M78.3 231.6h.9M92.9 226.2h.9M104.2 232.3h.9M93.9 224.1h.9M89.1 228.6h.9M72.0 226.9h.9M87.1 230.6h.9M80.8 233.9h.9M87.2 220.0h.9M76.3 224.3h.9M80.7 225.1h.9M69.2 225.4h.9M77.7 232.8h.9M90.4 227.5h.9M104.8 222.3h.9M81.0 231.8h.9M78.1 233.6h.9M65.7 228.9h.9M82.0 232.3h.9M66.8 223.4h.9M72.7 222.3h.9M76.9 221.6h.9M83.6 220.9h.9M79.8 227.9h.9M75.0 234.7h.9M82.3 225.0h.9M74.0 224.4h.9M84.1 232.6h.9M93.9 221.9h.9M78.6 230.7h.9M78.1 225.7h.9M79.8 228.4h.9M83.8 233.8h.9M81.5 230.1h.9M82.9 230.8h.9M90.0 233.8h.9M80.5 229.9h.9M86.3 228.1h.9M86.3 228.3h.9M90.6 220.8h.9M77.9 222.3h.9M88.6 234.6h.9M94.0 230.6h.9M81.4 231.6h.9M82.0 221.7h.9M70.4 231.9h.9M75.0 224.7h.9M86.3 234.4h.9M83.4 234.4h.9M76.5 231.2h.9M61.2 232.0h.9M81.1 227.0h.9M89.6 226.8h.9M97.1 231.1h.9M84.7 229.1h.9M83.0 230.3h.9M98.9 207.4h.9M76.9 228.2h.9M74.1 229.4h.9M78.3 233.1h.9M83.1 227.2h.9M83.4 230.5h.9M84.0 218.8h.9M73.0 226.6h.9M87.6 229.3h.9M80.0 228.9h.9M93.0 232.5h.9M87.5 225.5h.9M80.0 229.6h.9M78.6 231.2h.9M73.8 230.2h.9M71.6 234.7h.9M90.9 229.0h.9M84.1 231.0h.9M80.8 233.3h.9M103.5 227.4h.9M57.6 229.3h.9M82.6 225.8h.9M71.7 229.5h.9M69.7 232.0h.9M88.4 228.6h.9M73.1 232.6h.9M83.9 232.1h.9M84.8 232.8h.9M86.7 231.8h.9M86.9 233.1h.9M70.4 229.6h.9M85.4 232.9h.9M87.3 233.8h.9M87.3 233.1h.9M87.3 231.2h.9M88.3 230.5h.9M80.5 229.5h.9M77.5 231.0h.9M74.5 228.1h.9M91.9 230.2h.9M81.2 227.3h.9M83.6 232.1h.9M75.8 232.0h.9M73.7 230.3h.9M72.2 230.7h.9M67.7 226.6h.9M71.4 234.5h.9M80.2 228.4h.9M69.8 233.6h.9M84.9 228.5h.9M77.5 232.7h.9M77.4 222.9h.9M77.3 222.9h.9M84.0 229.8h.9M93.9 233.0h.9M73.9 230.9h.9M80.6 230.9h.9M90.4 231.5h.9M77.4 232.7h.9M70.7 231.1h.9M84.3 232.0h.9M75.9 227.6h.9M90.5 233.9h.9M81.2 221.6h.9M65.9 229.8h.9M79.5 227.0h.9M80.2 227.7h.9M83.1 227.5h.9M77.6 231.3h.9M74.7 234.0h.9M90.5 222.6h.9M82.5 234.2h.9M68.6 233.0h.9M69.0 230.2h.9M81.1 227.7h.9M91.5 227.1h.9M85.9 224.1h.9M77.0 232.3h.9M78.4 228.3h.9M94.0 219.8h.9M91.0 229.6h.9M93.1 229.2h.9M72.7 230.8h.9M68.7 229.7h.9M100.4 225.3h.9M92.4 223.9h.9M72.4 232.3h.9M79.9 231.9h.9M80.9 225.9h.9M72.5 228.1h.9M100.1 226.8h.9M73.5 227.8h.9M89.1 229.8h.9M71.1 230.7h.9M78.9 233.4h.9M83.2 228.3h.9M81.4 229.8h.9M77.3 233.1h.9M81.9 230.5h.9M85.1 225.1h.9M83.6 231.6h.9M100.7 230.4h.9M86.7 231.9h.9M77.6 230.4h.9M86.6 226.6h.9M91.5 229.0h.9M99.3 234.2h.9M84.2 227.7h.9M88.9 229.7h.9M71.2 227.1h.9M83.2 227.0h.9M71.9 226.0h.9M80.4 231.2h.9M81.8 220.2h.9M121.5 231.3h.9M122.8 230.4h.9M125.5 235.7h.9M138.7 232.0h.9M120.8 233.3h.9M118.7 232.1h.9M126.9 231.0h.9M120.4 233.0h.9M118.9 233.3h.9M115.3 233.0h.9M122.4 230.3h.9M122.0 234.6h.9M108.8 233.3h.9M126.2 231.0h.9M135.1 230.1h.9M119.2 229.2h.9M128.2 232.4h.9M122.2 231.6h.9M112.5 233.1h.9M111.7 232.9h.9M117.4 231.5h.9M134.0 230.7h.9M128.4 233.6h.9M122.6 233.6h.9M113.0 233.7h.9M127.0 233.5h.9M106.4 229.9h.9M134.0 233.2h.9M128.8 232.9h.9M120.5 232.0h.9M114.6 233.7h.9M115.9 233.8h.9M115.2 231.7h.9M136.5 231.7h.9M116.0 229.6h.9M115.2 235.3h.9M126.3 231.7h.9M111.7 233.6h.9M107.4 231.1h.9M125.6 233.7h.9M121.8 231.7h.9M108.2 231.3h.9M120.3 229.7h.9M130.4 231.2h.9" stroke="#000" stroke-width=".9" stroke-opacity="0.36" fill="none"/>
<path d="M82.7 228.2h.9M79.4 233.1h.9M102.3 232.2h.9M66.4 231.4h.9M86.9 232.7h.9M74.2 232.3h.9M75.2 225.9h.9M91.9 228.6h.9M80.9 231.4h.9M86.9 224.3h.9M86.2 228.2h.9M83.5 223.4h.9M86.2 233.1h.9M68.1 226.9h.9M88.5 233.7h.9M97.9 232.8h.9M90.1 229.3h.9M80.0 230.7h.9M92.7 230.8h.9M77.1 227.9h.9M77.1 233.4h.9M93.0 225.7h.9M82.1 224.1h.9M81.1 228.3h.9M83.0 226.5h.9M89.7 224.4h.9M85.6 227.8h.9M81.2 225.7h.9M82.6 222.8h.9M86.0 232.8h.9M94.4 234.2h.9M76.9 228.9h.9M82.7 231.4h.9M85.7 233.8h.9M86.0 227.6h.9M82.5 230.5h.9M86.7 228.3h.9M87.6 234.9h.9M78.0 231.7h.9M80.1 232.4h.9M82.3 233.5h.9M88.4 233.6h.9M94.8 224.8h.9M78.5 225.4h.9M91.4 231.2h.9M88.2 221.2h.9M72.8 227.0h.9M79.9 233.0h.9M93.3 228.7h.9M85.7 224.5h.9M88.7 223.3h.9M77.3 225.0h.9M73.4 231.3h.9M77.0 230.3h.9M77.6 223.9h.9M82.6 233.7h.9M77.9 225.6h.9M92.0 230.5h.9M96.5 227.9h.9M82.1 231.5h.9M96.7 222.8h.9M82.5 221.1h.9M84.6 229.4h.9M85.2 234.1h.9M69.2 227.8h.9M74.6 231.4h.9M86.5 228.1h.9M71.9 232.1h.9M84.5 235.0h.9M81.2 225.7h.9M85.9 232.4h.9M77.5 227.7h.9M78.1 230.7h.9M105.2 220.0h.9M73.1 225.4h.9M98.5 232.8h.9M72.8 235.0h.9M81.6 230.3h.9M76.4 226.6h.9M84.0 223.4h.9M72.5 220.6h.9M80.2 232.7h.9M79.6 231.4h.9M83.9 228.9h.9M97.5 233.6h.9M77.4 230.1h.9M81.2 228.3h.9M93.2 223.6h.9M72.3 224.6h.9M80.0 233.0h.9M75.3 231.2h.9M82.7 231.4h.9M79.4 228.7h.9M87.3 226.8h.9M106.0 229.8h.9M93.9 223.9h.9M81.8 234.3h.9M89.3 225.7h.9M89.5 229.1h.9M95.0 228.0h.9M84.0 221.1h.9M88.8 230.8h.9M96.4 216.8h.9M85.8 221.1h.9M83.4 231.5h.9M78.8 226.6h.9M68.4 233.7h.9M88.7 230.0h.9M86.6 233.2h.9M80.5 227.0h.9M73.1 224.9h.9M78.5 224.6h.9M63.8 233.2h.9M85.6 231.2h.9M97.3 233.2h.9M90.5 228.4h.9M74.1 220.6h.9M78.2 228.9h.9M95.3 223.6h.9M80.9 226.7h.9M81.1 226.0h.9M79.8 229.5h.9M95.9 232.6h.9M72.0 231.8h.9M87.2 228.9h.9M74.4 233.1h.9M75.2 226.4h.9M85.9 226.1h.9M93.6 225.7h.9M80.5 227.2h.9M64.2 233.0h.9M88.7 228.4h.9M89.9 233.0h.9M80.6 232.1h.9M93.0 234.7h.9M71.2 232.1h.9M77.6 221.4h.9M94.7 227.3h.9M79.8 233.0h.9M69.7 231.4h.9M74.9 217.9h.9M80.4 226.3h.9M63.5 228.0h.9M69.9 227.8h.9M79.1 234.5h.9M99.1 224.0h.9M89.2 224.0h.9M84.5 225.1h.9M79.6 232.6h.9M77.5 230.8h.9M92.0 232.6h.9M85.6 226.7h.9M87.3 234.1h.9M97.8 232.9h.9M80.4 231.7h.9M90.9 229.0h.9M88.1 229.6h.9M88.1 230.8h.9M91.6 227.3h.9M82.3 225.9h.9M85.9 224.6h.9M77.8 231.2h.9M85.7 233.4h.9M100.8 227.1h.9M82.5 232.1h.9M84.2 228.7h.9M87.5 224.2h.9M74.9 233.1h.9M86.1 232.9h.9M91.4 224.7h.9M76.7 229.2h.9M72.1 225.5h.9M89.9 229.1h.9M73.6 225.4h.9M78.4 226.5h.9M83.8 228.6h.9M79.9 228.7h.9M78.8 231.3h.9M89.1 223.8h.9M85.0 232.6h.9M93.6 231.2h.9M91.0 226.5h.9M62.8 222.5h.9M76.6 228.5h.9M79.2 229.8h.9M95.4 228.2h.9M80.1 233.1h.9M76.7 228.9h.9M77.4 225.5h.9M88.1 233.3h.9M80.5 232.0h.9M72.4 230.8h.9M99.3 231.1h.9M91.8 230.6h.9M93.3 231.9h.9M81.1 232.5h.9M85.0 234.2h.9M88.9 231.1h.9M78.6 232.1h.9M74.6 228.3h.9M75.0 225.8h.9M87.0 226.3h.9M90.3 233.8h.9M80.6 231.9h.9M70.5 228.5h.9M73.4 228.2h.9M75.4 230.6h.9M71.0 229.1h.9M83.8 226.7h.9M74.3 233.8h.9M74.5 232.6h.9M77.1 229.7h.9M84.3 225.1h.9M95.6 234.4h.9M76.1 231.7h.9M81.7 231.6h.9M74.1 226.6h.9M79.4 231.6h.9M88.5 228.8h.9M76.5 229.8h.9M95.3 219.8h.9M85.4 228.6h.9M86.3 229.9h.9M81.5 228.6h.9M68.6 234.2h.9M89.7 230.9h.9M90.1 235.5h.9M76.5 232.5h.9M66.9 222.9h.9M81.9 219.7h.9M91.1 232.3h.9M85.0 233.0h.9M95.5 229.7h.9M87.6 232.8h.9M81.0 228.6h.9M92.8 231.3h.9M81.5 232.6h.9M95.3 218.2h.9M89.4 233.1h.9M87.4 233.6h.9M79.3 233.5h.9M90.7 230.9h.9M78.6 231.4h.9M79.3 221.2h.9M79.1 231.9h.9M87.6 228.7h.9M84.1 223.1h.9M84.4 228.6h.9M99.7 232.1h.9M92.2 225.7h.9M76.3 229.1h.9M68.8 232.2h.9M72.7 228.7h.9M78.0 232.5h.9M87.9 224.6h.9M83.3 230.5h.9M89.0 230.5h.9M87.4 232.8h.9M93.6 231.4h.9M81.3 232.5h.9M79.6 226.9h.9M79.5 220.5h.9M78.2 225.6h.9M78.0 225.8h.9M77.8 231.4h.9M83.6 228.9h.9M84.9 233.3h.9M84.0 232.5h.9M89.1 231.4h.9M76.6 231.6h.9M96.7 228.3h.9M85.1 231.6h.9M91.5 224.4h.9M91.0 231.8h.9M86.1 221.0h.9M73.6 221.6h.9M72.6 230.4h.9M91.5 222.1h.9M90.1 233.2h.9M83.3 228.2h.9M85.4 227.9h.9M101.0 226.4h.9M105.2 230.7h.9M93.4 228.7h.9M84.9 228.8h.9M86.2 234.7h.9M101.6 226.0h.9M69.3 226.9h.9M89.9 227.3h.9M74.0 228.0h.9M70.9 230.4h.9M80.1 232.5h.9M73.1 229.3h.9M78.8 233.9h.9M86.9 221.6h.9M88.2 233.3h.9M93.1 231.5h.9M96.8 233.0h.9M87.6 228.9h.9M78.0 227.9h.9M73.1 220.1h.9M84.9 222.4h.9M80.7 230.3h.9M87.2 233.0h.9M92.9 232.6h.9M80.8 225.8h.9M76.9 227.0h.9M92.2 228.3h.9M69.5 223.7h.9M91.4 226.1h.9M76.6 232.6h.9M74.4 222.9h.9M74.8 229.2h.9M74.5 222.3h.9M79.4 223.7h.9M92.6 229.6h.9M72.0 219.8h.9M79.8 229.6h.9M87.7 232.6h.9M95.6 229.7h.9M63.8 230.7h.9M81.3 233.6h.9M77.9 233.2h.9M84.6 228.3h.9M77.7 231.7h.9M105.1 226.4h.9M86.0 229.4h.9M73.5 229.7h.9M70.1 231.8h.9M91.2 234.2h.9M78.7 231.2h.9M85.1 230.9h.9M75.9 230.3h.9M79.7 228.2h.9M78.2 234.1h.9M82.3 231.6h.9M87.5 229.2h.9M71.9 230.7h.9M73.0 227.4h.9M67.3 231.2h.9M85.4 223.2h.9M78.3 230.9h.9M74.0 230.2h.9M91.5 232.6h.9M88.3 228.6h.9M69.6 229.9h.9M79.1 224.0h.9M82.8 233.2h.9M87.8 213.6h.9M77.4 225.6h.9M71.2 233.0h.9M84.5 228.0h.9M86.7 230.3h.9M87.6 232.4h.9M84.2 229.2h.9M85.8 228.3h.9M91.5 233.4h.9M87.2 225.6h.9M71.3 228.9h.9M80.1 224.4h.9M88.1 232.6h.9M94.5 226.9h.9M80.1 232.5h.9M76.8 228.7h.9M73.6 225.9h.9M90.5 226.0h.9M110.7 230.4h.9M128.2 228.7h.9M130.9 233.6h.9M128.8 235.5h.9M118.3 229.4h.9M124.8 234.0h.9M107.9 233.1h.9M123.6 229.7h.9M127.5 233.1h.9M126.1 232.5h.9M120.3 232.1h.9M99.4 229.9h.9M127.5 233.6h.9M107.5 233.8h.9M133.6 231.0h.9M117.5 226.8h.9M109.8 234.8h.9M114.4 232.7h.9M127.4 232.5h.9M117.0 230.7h.9M132.7 231.9h.9M111.3 231.3h.9M120.8 234.3h.9M115.9 233.0h.9M121.9 230.0h.9M124.8 233.4h.9M119.7 232.8h.9M109.3 232.4h.9M117.1 231.7h.9M113.1 233.3h.9M103.4 231.6h.9M113.3 231.0h.9M111.5 231.7h.9M114.1 230.5h.9M113.0 234.4h.9M111.9 228.4h.9M123.5 230.2h.9M128.4 234.9h.9M138.9 230.8h.9M119.1 230.9h.9M95.4 234.7h.9M108.9 234.7h.9M119.9 234.2h.9" stroke="#000" stroke-width=".9" stroke-opacity="0.36" fill="none"/>
<path d="M78.4 233.3h.9M92.5 231.6h.9M76.0 222.5h.9M74.8 233.8h.9M88.6 220.2h.9M91.1 236.0h.9M69.7 233.5h.9M83.2 228.3h.9M81.6 231.1h.9M76.0 227.2h.9M98.1 227.1h.9M83.4 231.1h.9M76.8 223.3h.9M73.9 234.7h.9M71.3 227.7h.9M84.7 226.2h.9M82.6 231.8h.9M76.3 228.7h.9M73.6 226.7h.9M90.5 229.3h.9M64.0 232.9h.9M73.2 231.0h.9M69.4 225.1h.9M84.4 231.2h.9M76.9 225.8h.9M86.0 232.5h.9M104.3 230.7h.9M78.3 228.2h.9M75.4 221.9h.9M83.5 228.0h.9M83.3 228.5h.9M92.7 228.3h.9M92.0 222.8h.9M83.0 231.1h.9M88.2 233.5h.9M83.8 234.2h.9M91.9 227.8h.9M83.4 230.8h.9M80.9 231.7h.9M84.9 232.4h.9M67.0 227.9h.9M90.6 233.7h.9M81.8 226.8h.9M79.9 232.2h.9M82.3 228.0h.9M97.9 232.4h.9M94.1 228.1h.9M77.3 230.4h.9M93.1 224.1h.9M79.7 233.0h.9M84.9 225.2h.9M79.1 233.2h.9M100.2 232.7h.9M89.7 233.7h.9M85.8 224.9h.9M81.9 224.9h.9M78.4 227.6h.9M95.9 221.9h.9M75.8 230.0h.9M81.3 229.8h.9M68.5 233.0h.9M89.6 232.6h.9M61.0 225.0h.9M71.0 228.1h.9M90.5 228.9h.9M94.4 230.0h.9M86.3 233.8h.9M72.2 233.5h.9M86.5 234.7h.9M80.2 231.7h.9M85.6 225.6h.9M88.3 232.5h.9M64.8 234.8h.9M73.4 233.4h.9M88.3 233.2h.9M75.3 229.5h.9M81.5 225.4h.9M82.1 231.1h.9M80.1 229.9h.9M96.9 231.2h.9M95.4 228.3h.9M89.8 232.1h.9M68.4 231.9h.9M86.9 231.3h.9M90.2 232.1h.9M59.4 228.0h.9M83.9 227.9h.9M83.7 231.3h.9M94.3 229.9h.9M78.6 218.8h.9M85.4 229.1h.9M81.5 227.8h.9M89.3 228.9h.9M98.2 228.4h.9M72.6 229.6h.9M77.3 218.7h.9M84.3 227.8h.9M79.9 228.8h.9M108.4 233.1h.9M72.7 231.4h.9M79.1 224.6h.9M82.1 229.9h.9M73.2 234.3h.9M75.3 226.9h.9M82.0 226.5h.9M89.3 230.2h.9M71.6 233.0h.9M83.2 230.3h.9M75.5 230.9h.9M79.2 223.3h.9M88.5 233.8h.9M92.4 226.4h.9M75.8 222.6h.9M75.2 225.6h.9M85.8 229.4h.9M75.9 231.8h.9M75.9 227.5h.9M81.6 229.8h.9M85.4 226.4h.9M64.7 230.3h.9M86.5 230.0h.9M78.1 223.0h.9M90.2 233.2h.9M79.5 221.7h.9M70.9 233.8h.9M82.9 231.0h.9M86.8 216.8h.9M91.8 228.2h.9M82.2 227.3h.9M89.6 228.3h.9M82.1 232.9h.9M77.4 226.6h.9M75.1 230.7h.9M74.3 232.0h.9M92.4 233.2h.9M70.9 231.9h.9M89.8 227.9h.9M78.8 234.0h.9M76.6 224.8h.9M86.5 232.4h.9M90.9 223.9h.9M71.1 229.8h.9M89.4 233.6h.9M98.7 226.2h.9M91.6 232.8h.9M85.7 234.0h.9M73.0 223.6h.9M83.1 230.3h.9M80.7 231.4h.9M71.4 232.8h.9M91.8 232.2h.9M92.6 232.8h.9M86.4 228.9h.9M82.1 229.6h.9M72.1 227.4h.9M74.5 225.2h.9M85.6 233.8h.9M87.6 230.3h.9M95.0 218.1h.9M83.0 231.2h.9M75.4 230.2h.9M100.0 230.9h.9M82.3 227.6h.9M75.5 233.7h.9M90.9 230.6h.9M82.1 232.0h.9M95.9 233.8h.9M81.8 229.6h.9M80.9 229.8h.9M93.4 232.2h.9M73.0 225.4h.9M72.7 231.1h.9M80.1 228.7h.9M83.0 231.4h.9M82.2 229.0h.9M65.2 230.2h.9M85.9 231.8h.9M71.3 224.4h.9M79.8 221.2h.9M68.1 228.8h.9M77.8 226.8h.9M94.2 233.9h.9M89.9 228.1h.9M83.9 228.6h.9M97.2 224.8h.9M82.8 228.2h.9M87.4 221.4h.9M72.9 227.0h.9M74.4 229.1h.9M79.9 229.9h.9M91.9 227.3h.9M100.8 231.8h.9M80.1 232.3h.9M87.4 228.3h.9M71.2 226.7h.9M87.0 227.0h.9M69.7 223.3h.9M59.1 234.2h.9M83.6 224.0h.9M96.4 231.7h.9M77.0 224.6h.9M88.2 232.3h.9M87.8 226.0h.9M74.8 227.2h.9M95.2 228.1h.9M78.4 232.3h.9M84.4 229.7h.9M68.7 234.1h.9M94.9 235.4h.9M73.4 225.2h.9M91.1 231.6h.9M99.4 233.8h.9M90.5 226.0h.9M102.4 225.7h.9M78.0 232.7h.9M83.8 227.3h.9M76.1 233.4h.9M92.1 235.0h.9M89.4 229.9h.9M83.9 230.1h.9M99.7 230.3h.9M73.8 233.3h.9M80.8 225.1h.9M77.3 234.4h.9M79.7 225.9h.9M84.5 219.1h.9M76.8 224.7h.9M84.6 233.5h.9M85.1 230.6h.9M78.3 231.9h.9M80.9 219.6h.9M77.3 228.1h.9M92.2 216.4h.9M81.5 220.5h.9M73.0 222.7h.9M107.0 234.4h.9M91.2 225.2h.9M73.9 234.0h.9M72.8 231.6h.9M79.6 225.3h.9M89.9 232.5h.9M74.0 228.7h.9M76.0 230.8h.9M85.6 226.6h.9M73.8 229.9h.9M104.1 227.6h.9M77.0 231.6h.9M78.2 228.2h.9M89.0 228.0h.9M82.0 225.7h.9M65.1 227.6h.9M88.8 231.5h.9M91.8 236.1h.9M76.0 225.3h.9M82.4 224.1h.9M78.0 233.5h.9M79.0 231.8h.9M91.6 227.5h.9M82.8 233.9h.9M75.5 224.2h.9M99.3 232.4h.9M64.8 221.1h.9M103.0 230.3h.9M89.0 228.9h.9M85.9 226.6h.9M92.5 225.1h.9M75.0 232.7h.9M76.5 223.7h.9M78.0 232.4h.9M79.2 233.2h.9M82.6 233.6h.9M72.8 229.0h.9M90.0 226.1h.9M76.7 228.8h.9M81.4 221.7h.9M98.0 226.1h.9M80.3 231.5h.9M92.4 231.7h.9M72.4 228.6h.9M79.5 225.3h.9M92.1 234.1h.9M88.2 228.9h.9M85.8 223.3h.9M74.3 227.9h.9M84.4 229.0h.9M91.9 210.5h.9M78.6 227.2h.9M87.3 224.5h.9M109.8 229.2h.9M78.5 231.4h.9M71.4 235.3h.9M88.7 231.2h.9M86.2 233.4h.9M91.1 223.3h.9M74.6 232.9h.9M72.8 227.3h.9M76.2 232.0h.9M87.8 234.4h.9M80.1 229.1h.9M94.5 234.1h.9M78.9 229.9h.9M74.4 231.7h.9M72.4 227.9h.9M81.1 220.6h.9M94.7 225.6h.9M81.0 227.8h.9M74.1 232.5h.9M87.1 231.0h.9M76.9 232.5h.9M91.4 230.5h.9M90.0 231.8h.9M81.8 230.3h.9M82.6 229.8h.9M79.3 231.7h.9M76.3 231.6h.9M77.7 228.3h.9M89.3 231.8h.9M77.4 225.9h.9M85.7 224.3h.9M91.7 231.3h.9M93.4 228.8h.9M85.3 222.1h.9M89.1 224.2h.9M86.4 228.1h.9M96.2 225.8h.9M61.0 230.7h.9M75.4 232.7h.9M79.9 226.8h.9M82.6 232.9h.9M77.0 221.2h.9M73.2 230.6h.9M81.2 220.6h.9M77.2 223.4h.9M80.6 224.8h.9M76.7 232.9h.9M70.5 221.6h.9M88.1 230.7h.9M92.0 220.9h.9M98.5 223.9h.9M63.5 226.2h.9M88.1 225.0h.9M82.0 226.5h.9M68.7 230.8h.9M76.3 233.8h.9M82.8 231.1h.9M89.6 232.6h.9M94.8 226.1h.9M89.2 228.0h.9M84.4 233.4h.9M81.8 223.5h.9M92.4 231.5h.9M78.1 232.0h.9M74.1 225.7h.9M83.6 233.1h.9M84.5 227.3h.9M77.7 227.6h.9M83.1 229.0h.9M78.8 234.5h.9M99.2 230.4h.9M88.8 229.8h.9M91.6 231.7h.9M89.0 224.6h.9M77.1 232.9h.9M89.1 224.2h.9M94.1 234.0h.9M80.9 228.1h.9M121.7 233.7h.9M123.1 233.6h.9M111.5 229.6h.9M103.4 234.1h.9M121.3 228.8h.9M109.4 230.7h.9M116.6 230.7h.9M105.1 233.1h.9M126.9 232.5h.9M135.0 231.3h.9M113.1 231.0h.9M120.0 232.4h.9M112.7 234.0h.9M132.5 230.6h.9M108.3 231.9h.9M133.4 231.2h.9M116.7 231.5h.9M112.5 233.7h.9M120.5 233.3h.9M129.5 232.3h.9M136.3 231.4h.9M118.1 230.4h.9M120.9 233.6h.9M119.0 233.0h.9M106.6 233.2h.9M137.3 233.1h.9M116.7 229.5h.9M113.7 232.8h.9M109.8 233.5h.9M111.4 232.1h.9M126.4 233.0h.9M128.1 228.9h.9M130.0 230.8h.9M117.6 233.8h.9M105.0 228.5h.9M126.2 229.6h.9M112.1 231.9h.9M124.1 230.8h.9M109.1 229.0h.9M133.0 231.5h.9M115.7 231.2h.9M117.5 231.2h.9M122.9 231.8h.9" stroke="#000" stroke-width=".9" stroke-opacity="0.36" fill="none"/>
<rect x="56.3" y="158.2" width="98.0" height="97.5" fill="none" stroke="#c4c4c4" stroke-width="1"/>
<path d="M105.8 158.2V255.7M56.3 216.5H154.3" stroke="#4a4a4a" stroke-width="1.2" fill="none"/>
<path d="M53.7 248.9H56.3M63.1 255.7V258.5M53.7 217.8H56.3M94.4 255.7V258.5M53.7 191.4H56.3M121.0 255.7V258.5M53.7 168.3H56.3M144.1 255.7V258.5" stroke="#111" stroke-width="1" fill="none"/>
<path d="M54.7 242.2H56.3M54.7 224.7H56.3M54.7 209.8H56.3M54.7 205.2H56.3M54.7 201.9H56.3M54.7 199.3H56.3M54.7 197.2H56.3M54.7 195.5H56.3M54.7 193.9H56.3M54.7 192.6H56.3M54.7 184.4H56.3M54.7 180.4H56.3M54.7 177.5H56.3M54.7 175.3H56.3M54.7 173.4H56.3M54.7 171.9H56.3M54.7 170.6H56.3M54.7 169.4H56.3M54.7 161.0H56.3" stroke="#777" stroke-width=".8" fill="none"/>
<path d="M69.9 255.7V257.8M87.4 255.7V257.8M102.4 255.7V257.8M107.1 255.7V257.8M110.4 255.7V257.8M113.0 255.7V257.8M115.1 255.7V257.8M116.9 255.7V257.8M118.4 255.7V257.8M119.8 255.7V257.8M127.9 255.7V257.8M132.0 255.7V257.8M134.9 255.7V257.8M137.2 255.7V257.8M139.0 255.7V257.8M140.5 255.7V257.8M141.9 255.7V257.8M143.1 255.7V257.8M151.4 255.7V257.8" stroke="#333" stroke-width=".8" fill="none"/>
<rect x="54.3" y="231.3" width="2" height="4.6" fill="#111"/>
<rect x="76.0" y="255.7" width="5.2" height="2.4" fill="#111"/>
<text x="50.70" y="171.63" font-size="7.6" text-anchor="end">10<tspan font-size="5.60" dy="-2.8">5</tspan></text>
<text x="50.70" y="194.66" font-size="7.6" text-anchor="end">10<tspan font-size="5.60" dy="-2.8">4</tspan></text>
<text x="50.70" y="221.07" font-size="7.6" text-anchor="end">10<tspan font-size="5.60" dy="-2.8">3</tspan></text>
<text x="50.70" y="252.25" font-size="7.6" text-anchor="end">-10<tspan font-size="5.60" dy="-2.8">3</tspan></text>
<text x="47.3" y="236.3" font-size="7.6" text-anchor="end">0</text>
<text x="64.69" y="272.20" font-size="7.6" text-anchor="middle">-10<tspan font-size="5.60" dy="-2.8">3</tspan></text>
<text x="81.05" y="272.20" font-size="7.6" text-anchor="middle">0</text>
<text x="96.02" y="272.20" font-size="7.6" text-anchor="middle">10<tspan font-size="5.60" dy="-2.8">3</tspan></text>
<text x="122.57" y="272.20" font-size="7.6" text-anchor="middle">10<tspan font-size="5.60" dy="-2.8">4</tspan></text>
<text x="145.72" y="272.20" font-size="7.6" text-anchor="middle">10<tspan font-size="5.60" dy="-2.8">5</tspan></text>
<text x="106.9" y="153.1" font-size="8.5" text-anchor="middle" textLength="40" lengthAdjust="spacingAndGlyphs">IL-17 FMO</text>
<text x="58.2" y="167.7" font-size="6.8">Q1</text><text x="58.2" y="175.7" font-size="6.8">0</text>
<text x="145.7" y="167.7" font-size="6.8" text-anchor="end">Q2</text><text x="145.7" y="175.7" font-size="6.8" text-anchor="end">0</text>
<text x="145.5" y="246.9" font-size="6.8" text-anchor="end">Q3</text><text x="145.5" y="254.8" font-size="6.8" text-anchor="end">9.77</text>
<text x="58.2" y="246.9" font-size="6.8">Q4</text><text x="58.2" y="254.8" font-size="6.8">90.2</text>
<path d="M72.3 335.8h.9M83.2 344.4h.9M80.7 328.9h.9M80.0 349.8h.9M83.3 349.6h.9M82.1 350.0h.9M85.4 365.0h.9M85.8 376.6h.9M86.6 349.4h.9M92.1 353.6h.9M78.5 353.7h.9M80.4 356.0h.9M76.9 336.1h.9M78.3 342.0h.9M83.3 323.6h.9M80.5 358.4h.9M84.3 351.5h.9M75.8 350.8h.9M84.4 364.0h.9M80.3 341.1h.9M79.1 365.7h.9M81.4 354.8h.9M84.1 353.3h.9M79.1 347.1h.9M80.2 353.6h.9M84.5 359.3h.9M85.4 351.7h.9M90.2 349.3h.9M81.9 340.3h.9M81.2 344.4h.9M78.8 338.6h.9M74.4 351.5h.9M79.1 353.7h.9M86.2 362.2h.9M86.6 377.6h.9M87.5 355.0h.9M77.7 348.9h.9M84.1 359.6h.9M79.9 353.5h.9M84.8 349.7h.9M77.2 350.3h.9M80.1 340.2h.9M77.1 345.1h.9M77.3 360.1h.9M79.0 362.8h.9M79.3 348.4h.9M84.4 360.8h.9M81.4 372.8h.9M81.2 347.7h.9M81.9 354.6h.9M78.4 343.8h.9M81.5 356.4h.9M79.8 342.3h.9M85.6 349.9h.9M86.1 350.7h.9M78.1 353.3h.9M78.3 368.7h.9M81.6 363.7h.9M82.4 361.5h.9M75.3 357.2h.9M84.9 343.7h.9M86.6 348.5h.9M88.7 354.3h.9M80.8 346.8h.9M80.2 339.4h.9M84.1 342.5h.9M82.3 349.7h.9M84.8 357.3h.9M76.1 349.3h.9M76.0 347.3h.9M85.7 357.8h.9M79.7 376.9h.9M81.1 354.9h.9M83.1 359.8h.9M71.7 344.8h.9M82.5 354.7h.9M80.9 346.6h.9M79.8 347.4h.9M79.5 352.0h.9M89.1 352.8h.9M83.6 349.8h.9M79.4 353.4h.9M85.2 347.5h.9M80.8 360.5h.9M71.8 353.2h.9M86.0 342.7h.9M90.5 344.1h.9M79.9 360.9h.9M78.8 353.2h.9M76.6 350.4h.9M79.7 345.3h.9M69.7 360.2h.9M89.5 357.5h.9M86.7 357.6h.9M77.5 366.2h.9M81.9 353.1h.9M86.0 363.8h.9M81.9 361.6h.9M76.7 356.5h.9M79.6 361.3h.9M82.9 357.1h.9M84.5 336.6h.9M82.7 350.7h.9M77.8 352.6h.9M78.9 346.8h.9M82.8 334.9h.9M85.4 360.0h.9M80.1 362.1h.9M83.7 348.2h.9M80.1 342.9h.9M82.3 359.3h.9M83.3 350.7h.9M80.7 363.4h.9M85.7 355.5h.9M77.6 352.5h.9M78.3 354.8h.9M78.4 367.3h.9M91.7 361.1h.9M76.7 350.3h.9M85.6 347.1h.9M81.1 350.7h.9M79.7 355.1h.9M81.5 351.5h.9M81.1 365.0h.9M79.6 347.3h.9M80.8 362.5h.9M82.6 361.9h.9M81.1 353.2h.9M86.2 343.2h.9M72.8 349.6h.9M80.9 343.2h.9M86.2 350.9h.9M80.0 361.5h.9M84.1 348.0h.9" stroke="#000" stroke-width=".9" stroke-opacity="0.33" fill="none"/>
<path d="M83.7 345.9h.9M80.1 361.2h.9M84.6 350.9h.9M81.5 356.0h.9M80.9 359.0h.9M80.8 351.0h.9M82.9 363.0h.9M80.1 350.2h.9M84.2 344.1h.9M82.8 352.6h.9M81.7 350.6h.9M81.1 355.3h.9M83.7 362.5h.9M78.9 340.3h.9M85.8 339.7h.9M82.2 359.6h.9M82.3 342.1h.9M80.0 352.4h.9M81.7 348.1h.9M83.7 353.0h.9M84.2 348.7h.9M81.2 348.4h.9M85.5 350.5h.9M85.7 350.3h.9M80.4 355.5h.9M79.5 361.4h.9M81.9 339.4h.9M84.4 355.7h.9M85.9 350.1h.9M78.9 359.5h.9M82.6 357.7h.9M84.4 360.8h.9M83.0 354.0h.9M79.6 346.8h.9M84.7 344.1h.9M90.6 360.5h.9M83.1 348.6h.9M85.3 352.0h.9M85.5 350.9h.9M85.7 357.4h.9M80.3 349.7h.9M79.0 351.2h.9M83.1 344.8h.9M79.0 350.9h.9M82.8 337.2h.9M80.7 334.0h.9M83.0 346.5h.9M81.2 359.7h.9M84.0 347.4h.9M82.2 348.0h.9M82.9 341.3h.9M81.0 352.4h.9M85.3 353.3h.9M80.2 360.1h.9M82.3 353.6h.9M82.0 350.2h.9M87.0 356.1h.9M74.9 357.4h.9M86.7 346.6h.9M86.1 346.7h.9M77.8 358.9h.9M74.6 348.9h.9M83.9 359.9h.9M76.1 366.6h.9M80.4 358.4h.9M85.3 347.7h.9M76.3 337.9h.9M82.2 359.2h.9M81.9 359.8h.9M82.1 346.2h.9M82.2 353.5h.9M78.4 361.5h.9M81.4 354.9h.9M80.1 352.8h.9M82.2 358.2h.9M78.2 358.1h.9M71.6 368.0h.9M77.2 356.7h.9M79.8 349.4h.9M85.6 345.9h.9M80.0 361.0h.9M83.7 344.2h.9M83.2 335.7h.9M87.9 356.4h.9M74.9 364.8h.9M84.2 359.6h.9M84.7 354.4h.9M81.0 360.0h.9M81.0 349.0h.9M79.8 338.2h.9M80.2 360.5h.9M82.5 360.8h.9M79.6 350.9h.9M80.8 352.4h.9M75.2 352.1h.9M83.5 348.0h.9M92.0 351.4h.9M86.4 358.2h.9M82.6 350.2h.9M83.8 345.0h.9M83.9 356.6h.9M77.9 349.4h.9M81.5 366.2h.9M83.4 344.9h.9M88.0 347.2h.9M72.9 363.8h.9M85.4 354.8h.9M85.3 347.9h.9M74.3 357.8h.9M85.6 366.7h.9M83.9 355.3h.9M84.2 373.5h.9M84.8 342.8h.9M71.1 353.7h.9M79.5 348.9h.9M84.3 345.4h.9M82.4 346.4h.9M74.6 350.1h.9M80.4 355.6h.9M79.1 364.0h.9M85.5 345.8h.9M79.9 338.2h.9M75.5 356.3h.9M67.8 372.0h.9M78.6 353.4h.9M82.1 364.5h.9M86.8 355.5h.9M83.0 344.1h.9M79.4 362.5h.9M86.8 343.1h.9M80.9 368.9h.9M77.3 368.1h.9M83.5 352.2h.9M76.5 349.2h.9" stroke="#000" stroke-width=".9" stroke-opacity="0.33" fill="none"/>
<path d="M81.9 364.8h.9M88.5 354.4h.9M84.0 350.5h.9M78.8 364.7h.9M77.9 345.2h.9M78.2 356.0h.9M80.6 359.3h.9M84.0 357.1h.9M87.9 342.2h.9M82.1 338.3h.9M80.1 347.7h.9M79.6 354.7h.9M76.5 354.7h.9M89.8 352.2h.9M76.8 354.0h.9M85.5 367.7h.9M79.5 363.8h.9M88.2 354.6h.9M79.6 347.4h.9M77.2 359.5h.9M75.0 363.9h.9M79.2 346.4h.9M86.3 351.1h.9M84.6 358.2h.9M85.2 356.4h.9M77.9 362.8h.9M80.7 345.7h.9M85.3 355.0h.9M75.3 350.5h.9M83.3 338.5h.9M83.8 346.9h.9M83.4 355.6h.9M86.3 351.5h.9M78.7 353.8h.9M87.2 344.8h.9M76.1 341.5h.9M78.5 340.4h.9M82.3 363.5h.9M84.1 351.7h.9M77.0 355.1h.9M78.5 353.3h.9M71.4 364.1h.9M75.7 348.4h.9M80.6 346.4h.9M84.1 357.0h.9M75.1 350.7h.9M83.4 354.6h.9M76.4 355.3h.9M85.1 361.7h.9M82.4 350.2h.9M79.3 344.9h.9M83.3 354.4h.9M88.7 350.2h.9M77.2 347.4h.9M92.1 346.6h.9M81.7 339.1h.9M86.0 360.8h.9M85.0 356.6h.9M72.8 342.2h.9M82.5 355.4h.9M85.0 368.9h.9M77.0 343.6h.9M84.2 354.6h.9M77.8 356.1h.9M82.6 350.8h.9M82.9 359.8h.9M77.4 350.9h.9M75.7 357.0h.9M80.8 346.7h.9M84.3 357.9h.9M80.8 376.8h.9M80.0 346.8h.9M82.1 352.4h.9M81.1 355.1h.9M86.1 348.4h.9M80.5 350.4h.9M84.0 346.1h.9M79.7 355.4h.9M82.7 359.3h.9M75.2 363.2h.9M75.0 340.4h.9M81.2 354.7h.9M77.4 360.5h.9M75.2 366.4h.9M79.2 356.8h.9M84.3 347.1h.9M84.3 374.9h.9M90.1 337.5h.9M80.0 358.3h.9M75.8 363.9h.9M86.1 368.8h.9M79.8 340.4h.9M89.2 353.2h.9M82.0 355.1h.9M80.2 355.1h.9M86.9 343.8h.9M78.8 336.1h.9M81.7 347.6h.9M76.2 367.8h.9M86.9 359.6h.9M83.9 366.4h.9M78.9 357.9h.9M79.6 355.5h.9M83.0 355.3h.9M77.9 341.0h.9M69.8 338.3h.9M72.8 359.0h.9M80.3 346.2h.9M85.5 353.8h.9M86.0 356.4h.9M79.8 351.4h.9M78.4 337.2h.9M76.2 344.5h.9M80.3 356.7h.9M82.3 355.4h.9M95.8 352.8h.9M87.6 357.4h.9M83.8 345.8h.9M81.8 354.0h.9M78.5 368.1h.9M90.8 362.9h.9M76.4 355.6h.9M74.3 354.6h.9M79.3 343.7h.9M92.5 363.5h.9M79.7 340.2h.9M82.3 359.1h.9M85.8 349.8h.9M82.7 371.0h.9M84.0 343.1h.9M85.8 362.6h.9M82.8 362.4h.9M75.6 354.4h.9" stroke="#000" stroke-width=".9" stroke-opacity="0.33" fill="none"/>
<path d="M77.8 344.5h.9M78.5 355.6h.9M78.7 358.0h.9M78.7 345.0h.9M79.2 343.0h.9M87.3 349.7h.9M82.0 350.5h.9M90.6 364.6h.9M82.5 348.0h.9M87.1 358.7h.9M83.8 344.2h.9M85.3 351.1h.9M82.3 352.9h.9M80.6 338.3h.9M77.3 353.6h.9M76.9 352.0h.9M78.2 371.5h.9M80.0 361.3h.9M86.9 364.7h.9M84.7 365.2h.9M80.0 354.1h.9M79.9 351.0h.9M74.5 349.7h.9M81.2 350.6h.9M83.5 338.8h.9M81.6 353.5h.9M85.9 347.8h.9M83.5 346.0h.9M80.6 350.7h.9M85.0 353.2h.9M87.1 359.4h.9M83.6 344.7h.9M81.2 351.2h.9M79.9 339.6h.9M87.4 360.8h.9M76.0 357.4h.9M72.7 370.0h.9M80.7 349.9h.9M89.6 367.1h.9M75.3 359.4h.9M77.0 335.4h.9M88.4 349.7h.9M81.9 363.1h.9M89.8 356.7h.9M82.1 339.7h.9M80.2 351.8h.9M85.9 343.2h.9M83.7 364.2h.9M88.7 355.0h.9M79.6 336.3h.9M80.6 363.8h.9M82.3 358.6h.9M79.1 353.0h.9M86.7 342.7h.9M88.2 351.5h.9M84.4 355.3h.9M80.9 343.2h.9M78.9 364.4h.9M87.4 356.7h.9M83.8 362.0h.9M75.0 340.7h.9M84.1 346.5h.9M74.3 342.3h.9M78.2 353.4h.9M78.8 344.7h.9M83.4 367.5h.9M84.3 339.9h.9M78.7 355.4h.9M73.8 348.4h.9M80.3 354.9h.9M83.5 364.1h.9M79.2 355.2h.9M87.6 349.5h.9M80.5 333.3h.9M77.9 349.1h.9M81.0 354.6h.9M81.3 363.0h.9M79.7 350.8h.9M83.6 352.3h.9M74.4 355.5h.9M82.3 356.0h.9M76.9 342.4h.9M82.2 346.6h.9M80.7 351.8h.9M81.9 354.3h.9M77.5 355.5h.9M85.3 355.1h.9M73.0 353.8h.9M82.1 357.0h.9M84.0 365.9h.9M81.8 359.7h.9M75.7 338.8h.9M87.0 352.6h.9M80.3 349.1h.9M88.6 347.3h.9M82.7 353.4h.9M73.0 350.9h.9M76.0 347.1h.9M79.9 344.0h.9M80.6 349.2h.9M87.3 360.4h.9M81.0 341.7h.9M74.8 356.7h.9M81.7 361.6h.9M80.0 353.8h.9M84.1 356.0h.9M80.7 353.4h.9M76.5 350.5h.9M74.7 355.4h.9M86.7 357.4h.9M85.9 339.8h.9M79.7 353.4h.9M94.7 359.7h.9M87.4 351.5h.9M73.7 340.5h.9M82.8 344.5h.9M82.2 351.1h.9M83.6 370.8h.9M76.4 362.8h.9M78.4 352.2h.9M86.2 358.0h.9M79.7 352.6h.9M79.4 341.2h.9M78.3 344.8h.9M84.2 342.6h.9M81.3 339.6h.9M77.3 355.6h.9M79.0 340.1h.9M87.0 357.0h.9M81.9 351.2h.9M76.4 360.2h.9M86.4 346.3h.9M75.4 354.3h.9" stroke="#000" stroke-width=".9" stroke-opacity="0.33" fill="none"/>
<path d="M81.4 352.1h.9M81.0 338.0h.9M81.1 364.6h.9M81.8 357.5h.9M79.7 357.6h.9M85.2 359.0h.9M92.2 354.3h.9M83.3 341.0h.9M83.6 363.3h.9M79.7 355.6h.9M81.1 346.5h.9M84.3 349.1h.9M81.8 348.0h.9M80.8 359.2h.9M94.8 354.6h.9M82.7 359.6h.9M72.0 355.8h.9M84.0 360.6h.9M80.6 350.0h.9M84.6 351.2h.9M82.0 354.3h.9M82.8 347.0h.9M79.5 366.7h.9M82.1 351.1h.9M87.2 343.9h.9M71.2 360.9h.9M81.4 360.0h.9M82.6 338.0h.9M84.2 351.2h.9M87.3 356.1h.9M73.2 357.9h.9M85.1 354.0h.9M81.7 344.5h.9M78.2 353.3h.9M78.1 361.4h.9M83.4 348.1h.9M81.5 348.5h.9M79.0 354.9h.9M81.0 346.5h.9M82.2 341.2h.9M76.4 354.0h.9M77.9 356.8h.9M80.8 359.0h.9M75.8 344.1h.9M82.6 352.1h.9M78.5 344.5h.9M72.2 354.5h.9M86.0 344.5h.9M86.3 363.8h.9M84.5 360.4h.9M73.4 350.7h.9M78.8 354.8h.9M81.9 352.1h.9M85.1 357.7h.9M79.3 361.3h.9M81.8 356.3h.9M81.0 362.3h.9M82.1 347.1h.9M83.4 353.7h.9M80.4 349.5h.9M77.9 358.5h.9M82.4 354.1h.9M78.0 364.1h.9M85.7 368.8h.9M80.5 364.9h.9M82.9 336.5h.9M85.7 348.8h.9M74.4 360.0h.9M84.4 362.9h.9M84.8 347.6h.9M84.6 359.8h.9M82.3 353.5h.9M86.2 360.1h.9M79.0 366.4h.9M83.4 334.7h.9M72.0 355.5h.9M82.2 353.5h.9M90.2 356.3h.9M78.7 341.1h.9M78.1 359.5h.9M83.8 353.8h.9M81.8 342.4h.9M86.4 324.4h.9M75.7 357.2h.9M82.9 336.7h.9M80.7 344.5h.9M79.8 345.5h.9M82.8 335.5h.9M78.3 342.8h.9M76.2 362.7h.9M73.7 365.4h.9M81.7 347.0h.9M78.9 353.4h.9M76.5 359.0h.9M88.0 350.7h.9M79.4 354.0h.9M84.7 337.9h.9M73.4 351.4h.9M75.4 360.7h.9M77.9 345.7h.9M85.5 331.4h.9M81.8 343.1h.9M84.8 367.9h.9M73.9 363.6h.9M76.9 363.9h.9M81.5 342.5h.9M85.9 358.2h.9M78.6 350.8h.9M81.6 353.1h.9M81.0 358.2h.9M82.7 355.0h.9M76.1 362.7h.9M80.9 350.6h.9M71.5 353.1h.9M82.2 340.7h.9M83.7 370.5h.9M85.0 350.4h.9M82.5 365.1h.9M77.0 344.7h.9M91.5 358.8h.9M75.5 350.9h.9M76.9 368.6h.9M84.0 354.5h.9M80.0 346.0h.9M80.5 340.3h.9M85.6 354.8h.9M74.1 347.9h.9M78.0 353.1h.9M82.7 343.7h.9M79.4 351.6h.9M87.3 348.4h.9M81.8 349.5h.9M82.3 346.9h.9" stroke="#000" stroke-width=".9" stroke-opacity="0.33" fill="none"/>
<path d="M90.9 355.2h.9M79.4 337.2h.9M82.0 350.1h.9M77.5 349.7h.9M81.0 351.9h.9M82.1 355.7h.9M85.6 347.6h.9M85.9 345.7h.9M79.1 358.1h.9M81.6 343.2h.9M79.2 344.1h.9M82.2 369.5h.9M79.3 350.2h.9M85.4 362.0h.9M81.4 355.8h.9M81.5 338.7h.9M85.5 341.8h.9M80.8 330.0h.9M76.3 340.3h.9M90.0 349.2h.9M83.2 350.5h.9M83.8 355.1h.9M81.0 352.2h.9M86.6 350.7h.9M83.1 330.4h.9M83.2 352.2h.9M85.5 366.6h.9M82.7 346.1h.9M78.3 356.0h.9M83.6 345.9h.9M83.1 352.4h.9M83.1 357.1h.9M76.9 339.8h.9M80.6 345.3h.9M83.5 334.9h.9M80.3 343.8h.9M82.1 346.1h.9M75.1 352.4h.9M74.6 347.0h.9M84.4 354.7h.9M82.1 353.5h.9M81.0 350.3h.9M85.2 346.8h.9M82.7 339.3h.9M82.6 350.7h.9M80.5 351.6h.9M83.2 357.8h.9M85.6 361.6h.9M82.1 340.4h.9M78.8 353.8h.9M84.6 349.9h.9M89.4 360.4h.9M78.3 346.8h.9M78.0 360.1h.9M80.5 358.9h.9M75.8 360.5h.9M80.8 359.5h.9M71.6 356.8h.9M78.6 357.2h.9M78.4 349.9h.9M75.8 359.4h.9M90.1 358.8h.9M80.2 362.2h.9M83.2 332.4h.9M74.7 356.0h.9M89.5 355.6h.9M84.5 366.3h.9M80.0 343.1h.9M84.5 365.6h.9M82.2 357.8h.9M82.5 361.3h.9M82.1 348.3h.9M79.2 339.5h.9M76.1 338.1h.9M79.9 349.1h.9M82.3 347.4h.9M82.8 365.1h.9M88.7 347.3h.9M77.4 349.4h.9M82.3 346.7h.9M81.4 348.8h.9M76.2 363.9h.9M72.8 351.5h.9M81.1 344.5h.9M83.1 349.9h.9M94.1 369.7h.9M89.2 358.8h.9M74.5 367.9h.9M81.0 366.3h.9M84.2 357.7h.9M83.4 346.7h.9M80.1 353.5h.9M78.1 357.4h.9M79.9 348.6h.9M81.1 354.3h.9M79.8 357.3h.9M81.1 342.2h.9M81.2 338.3h.9M79.9 347.1h.9M89.4 352.5h.9M84.2 349.9h.9M81.5 354.2h.9M83.8 349.0h.9M76.5 352.2h.9M79.4 332.9h.9M78.9 359.3h.9M78.7 368.0h.9M76.0 353.1h.9M75.4 357.6h.9M81.8 362.2h.9M86.1 351.0h.9M80.2 361.0h.9M86.5 368.0h.9M84.5 347.8h.9M78.7 356.8h.9M81.2 340.1h.9M80.5 361.0h.9M76.8 353.9h.9M83.7 353.6h.9M83.4 365.2h.9M81.0 365.5h.9M82.7 353.3h.9M83.4 350.7h.9M76.3 347.2h.9M81.1 337.8h.9M84.8 362.8h.9M78.5 369.0h.9M84.5 362.8h.9M81.1 346.1h.9M76.2 357.8h.9M81.5 367.9h.9M75.3 368.4h.9M77.4 351.2h.9" stroke="#000" stroke-width=".9" stroke-opacity="0.33" fill="none"/>
<path d="M152.3 296.2H56.8V392.0H152.3" fill="none" stroke="#c4c4c4" stroke-width="1"/>
<path d="M105.3 296.2V392.0M56.8 353.8H152.3" stroke="#4a4a4a" stroke-width="1.2" fill="none"/>
<path d="M54.2 385.4H56.8M63.4 392.0V394.8M54.2 354.7H56.8M93.9 392.0V394.8M54.2 328.8H56.8M119.8 392.0V394.8M54.2 306.2H56.8M142.4 392.0V394.8" stroke="#111" stroke-width="1" fill="none"/>
<path d="M55.2 378.7H56.8M55.2 361.6H56.8M55.2 346.9H56.8M55.2 342.4H56.8M55.2 339.1H56.8M55.2 336.6H56.8M55.2 334.5H56.8M55.2 332.8H56.8M55.2 331.3H56.8M55.2 330.0H56.8M55.2 322.0H56.8M55.2 318.0H56.8M55.2 315.2H56.8M55.2 313.0H56.8M55.2 311.2H56.8M55.2 309.7H56.8M55.2 308.3H56.8M55.2 307.2H56.8M55.2 299.0H56.8" stroke="#777" stroke-width=".8" fill="none"/>
<path d="M70.0 392.0V394.1M87.1 392.0V394.1M101.7 392.0V394.1M106.3 392.0V394.1M109.5 392.0V394.1M112.0 392.0V394.1M114.1 392.0V394.1M115.8 392.0V394.1M117.3 392.0V394.1M118.6 392.0V394.1M126.6 392.0V394.1M130.6 392.0V394.1M133.4 392.0V394.1M135.6 392.0V394.1M137.4 392.0V394.1M138.9 392.0V394.1M140.2 392.0V394.1M141.3 392.0V394.1M149.5 392.0V394.1" stroke="#333" stroke-width=".8" fill="none"/>
<rect x="54.8" y="367.9" width="2" height="4.6" fill="#111"/>
<rect x="75.9" y="392.0" width="5.2" height="2.4" fill="#111"/>
<text x="51.20" y="309.45" font-size="7.6" text-anchor="end">10<tspan font-size="5.60" dy="-2.8">5</tspan></text>
<text x="51.20" y="332.08" font-size="7.6" text-anchor="end">10<tspan font-size="5.60" dy="-2.8">4</tspan></text>
<text x="51.20" y="358.03" font-size="7.6" text-anchor="end">10<tspan font-size="5.60" dy="-2.8">3</tspan></text>
<text x="51.20" y="388.67" font-size="7.6" text-anchor="end">-10<tspan font-size="5.60" dy="-2.8">3</tspan></text>
<text x="47.8" y="372.9" font-size="7.6" text-anchor="end">0</text>
<text x="65.01" y="408.50" font-size="7.6" text-anchor="middle">-10<tspan font-size="5.60" dy="-2.8">3</tspan></text>
<text x="80.99" y="408.50" font-size="7.6" text-anchor="middle">0</text>
<text x="95.55" y="408.50" font-size="7.6" text-anchor="middle">10<tspan font-size="5.60" dy="-2.8">3</tspan></text>
<text x="121.42" y="408.50" font-size="7.6" text-anchor="middle">10<tspan font-size="5.60" dy="-2.8">4</tspan></text>
<text x="143.98" y="408.50" font-size="7.6" text-anchor="middle">10<tspan font-size="5.60" dy="-2.8">5</tspan></text>
<text x="107.1" y="291.0" font-size="8.5" text-anchor="middle" textLength="40.4" lengthAdjust="spacingAndGlyphs">IFN-γ FMO</text>
<text x="58.1" y="303.6" font-size="6.8">Q1</text><text x="58.1" y="311.7" font-size="6.8">52.7</text>
<text x="145.8" y="303.6" font-size="6.8" text-anchor="end">Q2</text><text x="145.8" y="311.7" font-size="6.8" text-anchor="end">0</text>
<text x="145.4" y="382.6" font-size="6.8" text-anchor="end">Q3</text><text x="145.4" y="390.1" font-size="6.8" text-anchor="end">0</text>
<text x="58.1" y="382.6" font-size="6.8">Q4</text><text x="58.1" y="390.1" font-size="6.8">48.4</text>
<path d="M235.0 122.9h.9M243.9 134.6h.9M226.8 124.1h.9M222.9 132.4h.9M207.7 120.8h.9M214.7 124.1h.9M236.2 124.5h.9M220.2 139.3h.9M217.0 125.2h.9M235.3 121.3h.9M250.3 110.9h.9M228.3 127.0h.9M246.5 127.1h.9M214.3 132.1h.9M225.2 133.5h.9M238.7 122.1h.9M230.0 118.9h.9M232.2 138.8h.9M219.2 128.1h.9M212.5 118.9h.9M239.7 119.8h.9M247.5 126.8h.9M245.0 119.1h.9M214.7 130.0h.9M238.6 126.3h.9M223.5 129.5h.9M217.4 130.2h.9M219.9 126.8h.9M245.7 122.2h.9M227.0 129.4h.9M215.2 128.6h.9M218.9 128.5h.9M235.3 124.4h.9M221.8 132.0h.9M236.5 129.4h.9M238.8 113.0h.9M198.7 123.2h.9M231.2 129.6h.9M230.1 125.2h.9M228.5 130.9h.9M203.9 142.5h.9M229.8 129.6h.9M213.9 134.2h.9M240.4 129.5h.9M229.1 121.2h.9M250.7 125.4h.9M226.3 127.8h.9M216.5 130.4h.9M233.6 112.9h.9M207.3 125.1h.9M225.0 121.5h.9M216.2 128.0h.9M221.0 122.2h.9M228.1 126.4h.9M227.3 129.0h.9M243.5 123.7h.9M221.7 126.8h.9M220.2 118.0h.9M236.5 121.3h.9M240.9 124.6h.9M234.3 118.9h.9M222.6 130.6h.9M214.0 124.5h.9M256.4 132.1h.9M221.6 126.4h.9M242.9 128.7h.9M234.4 120.0h.9M222.5 134.5h.9M219.8 122.9h.9M231.3 115.8h.9M231.9 131.7h.9M221.2 126.9h.9M238.6 123.2h.9M230.2 123.5h.9M208.3 123.4h.9M230.8 123.6h.9M224.2 122.3h.9M223.9 135.8h.9M252.8 130.2h.9M247.1 126.2h.9M237.1 124.7h.9M212.6 133.7h.9M220.6 130.9h.9M222.3 126.0h.9M212.4 122.1h.9M227.8 129.7h.9M231.8 121.0h.9M230.3 134.0h.9M219.1 122.7h.9M215.1 135.3h.9M205.2 134.3h.9M229.4 124.3h.9M233.4 126.7h.9M225.7 123.0h.9M221.5 120.9h.9M235.4 125.5h.9M224.1 128.2h.9M211.7 114.4h.9M226.8 130.3h.9M248.2 130.9h.9M226.1 125.0h.9M234.5 125.1h.9M230.6 128.6h.9M217.6 124.0h.9M223.2 120.7h.9M212.7 126.6h.9M234.7 121.6h.9M248.9 126.0h.9M227.9 121.2h.9M223.7 126.0h.9M229.9 127.6h.9M216.8 120.8h.9M222.3 132.2h.9M240.3 120.0h.9M229.0 125.9h.9M236.9 115.8h.9M243.9 131.0h.9M232.4 136.2h.9M209.6 130.9h.9M250.4 121.8h.9M231.2 135.5h.9M232.1 125.2h.9M249.1 130.1h.9M232.2 118.5h.9M212.0 131.3h.9M224.4 130.6h.9M245.9 136.1h.9M209.6 129.9h.9M231.9 129.1h.9M209.3 122.7h.9M243.7 130.4h.9M226.2 126.8h.9M242.2 128.9h.9M245.4 117.0h.9M225.5 128.2h.9M238.0 127.1h.9M239.1 132.8h.9M249.7 126.1h.9M210.4 130.4h.9M240.9 124.6h.9M249.9 122.3h.9M230.6 133.0h.9M232.8 129.0h.9M225.7 135.7h.9M227.4 124.2h.9M240.1 125.3h.9M221.7 119.3h.9M227.5 135.7h.9M248.9 119.3h.9M244.9 129.0h.9M232.7 130.5h.9M216.6 127.9h.9M252.8 122.3h.9M239.8 125.4h.9M221.0 129.6h.9M243.3 126.2h.9M221.6 120.2h.9M246.7 121.5h.9M215.1 131.0h.9M217.0 122.5h.9M245.7 124.7h.9M222.1 129.2h.9M214.6 119.2h.9M213.9 130.0h.9M218.6 125.8h.9M236.3 123.9h.9M225.5 123.2h.9M243.1 133.3h.9M258.6 120.9h.9M224.1 122.6h.9M238.3 118.9h.9M217.0 116.2h.9M232.5 115.4h.9M220.1 127.2h.9M230.6 132.3h.9M240.6 123.4h.9M216.7 135.5h.9M245.1 124.3h.9M222.6 130.5h.9M227.7 124.9h.9M244.9 121.7h.9M233.8 123.1h.9M224.9 126.5h.9M228.9 125.3h.9M218.9 123.7h.9M222.0 125.5h.9M240.7 130.1h.9M208.4 121.7h.9M225.4 131.5h.9M223.6 124.8h.9M226.1 122.7h.9M227.1 117.8h.9M238.8 128.5h.9M239.5 133.0h.9M216.6 129.5h.9M228.8 121.5h.9M220.6 124.0h.9M222.5 114.1h.9M245.5 116.2h.9M243.4 123.5h.9M243.7 127.0h.9M226.4 131.2h.9M247.8 129.8h.9M247.3 120.0h.9M248.1 112.3h.9M230.5 120.6h.9M213.9 113.3h.9M238.5 125.9h.9M232.3 130.4h.9M241.4 135.2h.9M240.5 123.7h.9M232.0 120.6h.9M230.3 123.3h.9M226.0 127.7h.9M230.4 125.8h.9M245.6 123.5h.9M204.4 135.2h.9M216.3 116.3h.9M231.5 127.0h.9M220.0 128.6h.9M216.0 125.0h.9M224.4 131.8h.9M236.0 121.9h.9M234.5 128.6h.9M225.0 128.0h.9M205.2 138.2h.9M219.3 129.0h.9M216.2 129.2h.9M237.4 127.1h.9M218.3 122.1h.9M238.7 125.1h.9M208.8 127.8h.9M221.6 123.5h.9M232.0 128.6h.9M242.0 121.4h.9M206.7 123.9h.9M220.6 123.6h.9M235.1 117.1h.9M245.5 120.9h.9M220.9 120.3h.9M214.7 125.0h.9M222.4 124.9h.9M232.1 122.8h.9M220.8 126.6h.9M221.8 123.9h.9M197.4 133.1h.9M226.1 113.5h.9M237.2 133.3h.9M229.2 125.5h.9M198.3 134.2h.9M235.3 113.6h.9M238.7 118.6h.9M223.1 132.2h.9M229.8 116.1h.9M211.9 126.1h.9M261.5 129.2h.9M220.4 141.5h.9M245.4 116.6h.9M221.8 121.8h.9M223.6 123.6h.9M238.1 125.1h.9M236.0 126.1h.9M255.9 121.2h.9M218.8 131.5h.9M233.6 120.9h.9M231.1 117.8h.9M235.2 132.2h.9M212.1 119.3h.9M225.1 127.5h.9M230.9 127.4h.9M212.1 132.3h.9M237.0 124.6h.9M235.0 120.5h.9M228.3 132.8h.9M207.1 125.7h.9M228.8 135.7h.9M221.4 126.5h.9M255.1 135.9h.9M255.1 120.7h.9M237.5 123.9h.9M218.6 126.8h.9M223.1 122.7h.9M229.6 125.6h.9M231.4 123.7h.9M223.8 131.7h.9M207.1 126.0h.9M221.4 130.3h.9M210.8 124.9h.9M228.6 116.9h.9M236.9 123.9h.9M214.9 130.4h.9M221.6 123.2h.9M242.5 116.2h.9M217.8 121.4h.9M237.7 122.6h.9M225.5 124.7h.9M221.6 124.4h.9M234.8 124.1h.9M245.7 134.1h.9M218.0 121.7h.9M231.5 134.6h.9M209.2 137.1h.9M226.8 124.6h.9M223.7 124.9h.9M224.5 121.8h.9M223.4 124.9h.9M231.0 122.4h.9M227.3 134.0h.9M215.7 126.1h.9M238.6 131.5h.9M235.4 105.2h.9M229.6 127.1h.9M260.4 122.7h.9M230.7 122.7h.9M226.0 121.3h.9M225.1 129.5h.9M207.7 132.5h.9M231.2 120.1h.9M234.0 121.8h.9M207.8 132.4h.9M216.2 120.3h.9M225.4 128.1h.9M208.0 132.1h.9M233.0 134.7h.9M249.1 126.2h.9M210.5 131.7h.9M236.9 117.1h.9M226.9 127.7h.9M219.7 125.0h.9M257.0 126.7h.9M214.7 133.4h.9M240.7 130.0h.9M222.9 130.5h.9M232.8 123.4h.9M236.4 120.2h.9M201.1 120.7h.9M224.9 115.0h.9M237.2 124.4h.9M235.9 124.4h.9M221.5 138.0h.9M227.9 133.3h.9M209.4 128.4h.9M209.6 124.8h.9M228.9 114.9h.9M215.9 135.5h.9M215.9 122.4h.9M225.7 128.2h.9M223.9 118.3h.9M223.3 131.4h.9M212.5 121.5h.9M226.0 127.5h.9M223.2 125.9h.9M225.0 130.8h.9M225.3 128.1h.9M210.0 136.3h.9M216.1 136.9h.9M238.0 120.4h.9M198.3 121.4h.9M240.9 125.4h.9M222.8 120.1h.9M247.5 120.4h.9M230.7 127.6h.9M238.0 126.2h.9M254.8 117.6h.9M225.6 116.8h.9M230.5 120.6h.9M237.1 130.0h.9M219.0 130.0h.9M225.5 124.9h.9M211.5 128.5h.9M232.3 123.8h.9M220.5 125.1h.9M203.3 134.8h.9M237.5 126.9h.9M239.2 120.5h.9M225.0 124.6h.9M238.8 122.6h.9M219.3 123.1h.9M214.4 129.2h.9M238.9 117.1h.9M241.6 120.1h.9M241.2 113.7h.9M238.3 129.0h.9M235.5 127.5h.9M228.1 124.5h.9M235.0 123.2h.9M220.4 130.5h.9M220.7 125.8h.9M237.7 122.7h.9M218.4 132.6h.9M228.4 129.6h.9M236.6 129.0h.9M230.3 127.0h.9M230.7 125.2h.9M232.9 126.5h.9M222.8 128.7h.9M221.0 123.3h.9M228.3 123.3h.9M228.4 124.9h.9M229.0 123.8h.9M225.0 122.0h.9M222.0 125.1h.9M229.2 125.3h.9M228.8 124.0h.9M230.7 118.0h.9M229.6 123.6h.9M228.4 129.8h.9M230.2 129.0h.9M226.4 127.4h.9M231.2 131.9h.9M228.9 124.1h.9M220.2 127.1h.9M224.3 121.5h.9M230.9 123.7h.9M229.4 127.3h.9M239.2 126.5h.9M216.7 126.5h.9M231.9 123.4h.9M225.0 129.7h.9M223.8 126.2h.9M211.7 127.8h.9M231.3 124.3h.9M238.8 126.3h.9M227.7 131.6h.9M221.8 123.5h.9M230.6 127.4h.9M224.7 125.0h.9M230.2 131.9h.9M221.8 121.6h.9M224.7 130.1h.9M234.0 123.2h.9M226.1 127.2h.9M225.0 131.9h.9M232.9 126.6h.9M212.2 126.5h.9M230.7 125.5h.9M234.0 124.3h.9M234.7 123.6h.9M217.1 127.1h.9M234.2 127.4h.9M219.0 125.2h.9M212.1 127.7h.9M231.2 121.6h.9M232.3 132.7h.9M223.3 123.2h.9M226.7 124.0h.9M229.9 127.4h.9M240.6 134.0h.9M231.6 125.5h.9M222.2 121.4h.9M216.2 122.4h.9M237.3 124.3h.9M221.9 126.0h.9M227.8 124.3h.9M232.4 122.5h.9M235.2 123.1h.9M237.7 129.5h.9M232.7 128.7h.9M229.0 119.6h.9M227.4 121.5h.9M241.0 123.3h.9M235.3 122.5h.9M243.4 128.7h.9M222.9 125.9h.9M230.2 125.5h.9M236.9 125.2h.9M225.7 128.1h.9M227.2 126.8h.9M233.2 131.6h.9M218.8 131.4h.9M223.9 125.4h.9M235.0 127.5h.9M223.6 122.4h.9M220.4 127.1h.9M230.7 130.7h.9M236.1 119.8h.9M223.4 126.2h.9M227.0 125.5h.9M235.0 126.5h.9M222.1 124.9h.9M227.3 123.8h.9M240.0 120.0h.9M228.0 127.7h.9M232.4 127.4h.9M226.3 127.6h.9M230.9 129.1h.9M236.3 122.0h.9M218.1 126.4h.9M232.2 129.1h.9M226.8 127.1h.9M230.7 122.2h.9M235.8 121.8h.9M230.9 124.6h.9M237.0 126.6h.9M221.9 126.2h.9M230.7 128.9h.9M227.3 132.2h.9M234.0 125.2h.9M227.0 129.1h.9M227.8 129.5h.9M209.1 136.7h.9M204.0 133.8h.9M209.0 135.8h.9M195.2 135.9h.9M203.0 128.9h.9M206.7 135.5h.9M218.5 135.3h.9M213.7 129.9h.9M218.0 125.7h.9M211.7 139.9h.9M210.6 143.3h.9M204.0 136.9h.9M225.4 128.3h.9M210.8 134.2h.9M211.7 128.7h.9M215.1 131.3h.9M221.9 137.4h.9M198.5 129.5h.9M209.9 137.3h.9M207.7 136.9h.9M213.6 134.6h.9M209.2 130.0h.9M216.5 136.9h.9M203.0 135.9h.9M212.8 136.5h.9M202.5 131.4h.9M221.3 136.9h.9M233.0 127.7h.9M197.9 131.1h.9M202.4 126.3h.9M205.1 142.6h.9M205.1 135.9h.9M197.8 133.0h.9M198.6 130.1h.9M217.4 128.5h.9M213.3 132.8h.9M215.9 139.6h.9M199.2 128.5h.9M218.2 136.5h.9M205.7 129.8h.9M208.2 138.2h.9M205.3 130.6h.9M197.2 126.4h.9M221.7 136.7h.9M218.1 139.0h.9M226.4 130.6h.9M222.1 137.2h.9M211.5 134.0h.9M216.7 132.5h.9M265.6 125.1h.9M255.9 126.0h.9M251.6 124.4h.9M238.9 118.1h.9M245.5 134.1h.9M269.5 124.5h.9M269.5 128.6h.9M247.7 122.9h.9M264.0 130.6h.9M260.2 123.2h.9M248.1 126.6h.9M261.0 121.2h.9M263.7 115.9h.9M267.9 118.1h.9M238.2 132.1h.9M248.1 131.6h.9M239.6 119.3h.9M254.7 129.4h.9M267.8 114.8h.9M272.8 117.2h.9M269.9 124.3h.9M262.5 128.8h.9M264.6 124.7h.9M247.1 128.2h.9M258.9 120.8h.9M255.2 133.1h.9M248.3 120.5h.9M262.8 127.3h.9M249.1 122.7h.9M267.8 129.3h.9M256.1 122.3h.9M270.0 120.9h.9M263.0 126.2h.9M257.1 125.1h.9M259.0 130.1h.9M252.2 114.7h.9M258.0 126.7h.9M258.0 113.5h.9M261.9 128.6h.9M253.0 131.6h.9M267.4 134.2h.9M258.7 126.0h.9M248.5 124.1h.9M252.4 135.7h.9M269.2 126.9h.9M265.9 124.7h.9M253.9 124.7h.9M245.9 129.1h.9M247.3 124.1h.9M256.9 119.0h.9M269.9 126.6h.9M258.8 113.0h.9M255.7 120.6h.9M262.6 124.0h.9M255.7 120.2h.9M254.7 119.2h.9M244.7 124.3h.9M249.6 123.2h.9M255.2 122.3h.9M257.6 131.1h.9M252.1 128.7h.9M247.7 119.5h.9M254.9 129.3h.9M263.3 123.8h.9M265.3 109.6h.9M248.4 116.7h.9M267.4 100.2h.9M218.6 108.9h.9M255.2 105.2h.9M247.3 108.8h.9M208.6 110.1h.9M226.3 104.5h.9M245.2 107.5h.9M258.9 103.9h.9M247.1 110.4h.9M235.3 98.4h.9M262.8 110.4h.9" stroke="#000" stroke-width=".9" stroke-opacity="0.4" fill="none"/>
<path d="M218.6 129.5h.9M236.8 112.9h.9M238.2 111.5h.9M234.2 132.1h.9M226.1 124.3h.9M233.2 124.5h.9M248.5 134.0h.9M226.6 122.4h.9M221.3 128.5h.9M204.8 116.0h.9M211.3 136.4h.9M223.6 126.2h.9M208.2 129.5h.9M231.4 125.8h.9M232.6 125.0h.9M213.8 131.3h.9M228.9 131.5h.9M221.5 123.9h.9M225.2 136.5h.9M227.7 128.9h.9M214.8 127.1h.9M239.2 133.4h.9M209.5 131.9h.9M229.8 124.7h.9M240.4 126.9h.9M243.1 122.1h.9M230.3 121.3h.9M223.9 134.8h.9M221.9 122.3h.9M243.0 118.4h.9M239.1 139.9h.9M255.1 129.5h.9M209.9 123.7h.9M222.2 121.3h.9M234.3 118.5h.9M225.4 120.9h.9M224.6 132.9h.9M237.9 121.8h.9M206.1 133.9h.9M241.1 108.0h.9M242.8 123.2h.9M228.1 119.9h.9M219.2 128.2h.9M230.7 121.4h.9M251.7 132.6h.9M225.5 123.6h.9M228.4 121.9h.9M220.7 133.1h.9M203.2 116.4h.9M231.4 123.5h.9M217.5 122.9h.9M238.5 119.8h.9M237.7 132.9h.9M206.1 124.3h.9M231.7 119.2h.9M239.8 126.0h.9M231.0 131.6h.9M254.3 131.4h.9M222.7 129.6h.9M235.8 124.7h.9M219.3 123.2h.9M233.6 124.3h.9M231.6 114.6h.9M226.2 123.8h.9M235.4 124.2h.9M221.9 127.3h.9M237.6 115.4h.9M252.7 132.5h.9M205.8 127.8h.9M236.4 129.2h.9M213.2 115.7h.9M243.6 127.5h.9M236.7 123.0h.9M221.3 118.9h.9M234.9 121.8h.9M244.1 126.6h.9M231.2 118.6h.9M241.6 126.4h.9M226.0 120.2h.9M249.7 128.4h.9M235.8 123.0h.9M209.8 125.9h.9M228.4 122.0h.9M228.9 116.2h.9M246.4 118.6h.9M233.4 117.7h.9M238.9 129.8h.9M242.7 121.8h.9M241.5 126.2h.9M233.8 127.8h.9M205.1 124.9h.9M231.5 125.7h.9M233.0 120.7h.9M223.4 129.9h.9M237.5 124.4h.9M206.2 131.6h.9M224.1 140.0h.9M244.6 119.6h.9M236.5 129.7h.9M220.3 129.4h.9M248.4 118.3h.9M216.8 128.9h.9M230.6 130.2h.9M249.4 126.3h.9M226.9 127.9h.9M223.4 117.3h.9M226.4 130.6h.9M228.3 115.2h.9M220.0 136.4h.9M223.2 137.5h.9M224.9 121.8h.9M247.3 114.0h.9M235.9 130.2h.9M228.0 120.1h.9M222.8 123.0h.9M213.3 128.3h.9M222.3 129.7h.9M220.8 128.9h.9M235.0 127.4h.9M211.4 131.1h.9M240.9 131.5h.9M243.9 116.9h.9M243.6 129.5h.9M225.6 123.9h.9M224.2 125.9h.9M221.6 131.6h.9M209.3 127.1h.9M234.6 115.7h.9M241.8 126.9h.9M229.2 127.1h.9M216.9 119.1h.9M214.2 130.4h.9M231.2 130.2h.9M228.2 127.7h.9M210.7 124.9h.9M224.2 136.2h.9M225.9 123.4h.9M240.1 123.6h.9M233.5 124.8h.9M222.4 127.6h.9M237.9 117.7h.9M226.9 127.1h.9M227.1 124.9h.9M241.9 117.4h.9M258.8 127.6h.9M221.6 128.8h.9M242.5 136.3h.9M225.5 123.1h.9M224.2 126.8h.9M209.6 126.5h.9M244.9 124.4h.9M208.2 132.8h.9M222.3 129.8h.9M220.2 129.9h.9M230.9 133.1h.9M220.6 124.4h.9M224.9 112.4h.9M235.9 116.6h.9M248.6 119.5h.9M226.4 120.7h.9M229.4 128.2h.9M216.7 122.4h.9M231.3 131.4h.9M238.9 120.3h.9M234.0 125.7h.9M235.3 126.0h.9M210.4 131.6h.9M226.6 121.3h.9M227.1 141.5h.9M228.7 123.5h.9M223.7 126.5h.9M232.0 122.9h.9M238.3 117.9h.9M238.7 126.6h.9M242.9 125.8h.9M231.6 115.9h.9M221.7 119.4h.9M223.5 114.9h.9M219.3 120.5h.9M234.8 124.9h.9M227.6 122.3h.9M225.8 122.3h.9M224.8 124.1h.9M223.2 125.6h.9M233.2 130.9h.9M237.2 126.6h.9M231.8 119.1h.9M206.0 126.2h.9M227.3 123.3h.9M219.8 123.8h.9M244.8 124.4h.9M252.6 121.6h.9M233.7 124.4h.9M220.2 120.2h.9M221.2 122.7h.9M214.0 128.1h.9M231.2 123.4h.9M231.3 124.5h.9M208.8 113.3h.9M215.9 134.0h.9M220.6 129.7h.9M233.1 136.9h.9M223.6 119.7h.9M220.1 126.2h.9M236.9 122.7h.9M223.4 126.2h.9M230.4 131.1h.9M249.7 130.4h.9M228.3 128.5h.9M228.9 126.9h.9M236.3 122.4h.9M238.6 120.8h.9M242.5 128.9h.9M203.6 127.5h.9M241.9 127.4h.9M212.5 130.9h.9M225.3 132.7h.9M232.6 122.3h.9M224.9 111.9h.9M230.7 136.8h.9M251.7 128.6h.9M222.9 119.9h.9M224.3 130.4h.9M225.5 126.7h.9M239.1 120.3h.9M230.0 125.7h.9M221.4 128.0h.9M214.7 132.0h.9M226.6 129.5h.9M228.5 126.8h.9M223.1 123.0h.9M228.4 132.3h.9M200.4 133.6h.9M235.2 138.0h.9M231.3 133.8h.9M230.3 139.3h.9M235.2 124.9h.9M245.1 121.4h.9M220.9 120.8h.9M246.2 121.5h.9M221.9 121.5h.9M238.6 117.4h.9M220.0 129.0h.9M242.2 110.0h.9M237.4 127.7h.9M230.5 128.0h.9M238.9 115.2h.9M220.4 115.8h.9M225.4 118.5h.9M203.9 127.4h.9M225.0 119.5h.9M220.6 122.4h.9M236.7 120.7h.9M239.6 133.5h.9M251.0 129.8h.9M215.6 127.3h.9M224.5 128.2h.9M238.8 127.7h.9M243.2 131.5h.9M222.7 124.8h.9M218.9 127.0h.9M222.8 131.5h.9M228.9 115.4h.9M233.2 126.4h.9M228.1 135.4h.9M237.3 132.3h.9M223.4 133.2h.9M230.8 124.7h.9M224.1 124.2h.9M223.7 130.6h.9M221.4 128.5h.9M227.3 136.8h.9M224.6 128.0h.9M226.4 128.8h.9M244.7 121.0h.9M241.5 117.7h.9M208.8 128.2h.9M248.2 123.8h.9M216.3 126.2h.9M223.9 131.8h.9M219.4 126.6h.9M234.0 124.7h.9M240.7 135.4h.9M223.9 117.1h.9M217.8 122.0h.9M242.8 119.1h.9M226.7 126.4h.9M249.4 116.5h.9M247.4 130.3h.9M226.0 131.1h.9M228.8 130.2h.9M233.7 124.0h.9M217.2 124.1h.9M220.1 137.2h.9M244.6 124.1h.9M238.3 110.1h.9M230.1 126.6h.9M229.5 127.2h.9M228.8 131.8h.9M236.0 126.8h.9M209.9 129.3h.9M231.3 118.3h.9M215.6 119.3h.9M228.8 126.6h.9M238.0 130.0h.9M220.2 118.1h.9M227.1 125.6h.9M229.6 125.1h.9M206.7 131.4h.9M225.0 127.6h.9M229.9 130.5h.9M245.6 117.3h.9M246.1 117.4h.9M232.1 122.4h.9M208.1 123.0h.9M225.7 120.6h.9M232.7 133.9h.9M211.3 124.7h.9M230.1 128.9h.9M226.7 129.2h.9M228.2 133.0h.9M237.0 123.8h.9M259.1 118.9h.9M222.5 130.5h.9M213.0 125.2h.9M229.8 132.4h.9M227.8 131.7h.9M231.0 141.7h.9M235.8 125.2h.9M218.8 128.4h.9M238.0 115.1h.9M221.2 119.2h.9M224.6 122.2h.9M210.9 114.0h.9M241.0 122.7h.9M218.8 124.3h.9M231.4 131.8h.9M231.1 120.1h.9M218.9 130.4h.9M236.3 113.7h.9M213.2 138.2h.9M221.5 131.4h.9M223.5 120.5h.9M240.0 121.4h.9M242.8 129.0h.9M248.4 127.7h.9M234.8 124.5h.9M234.0 129.1h.9M228.0 129.2h.9M231.1 116.9h.9M240.9 130.4h.9M218.0 129.4h.9M249.5 136.1h.9M229.7 127.2h.9M196.4 118.2h.9M240.4 139.1h.9M250.7 119.7h.9M242.3 129.0h.9M223.6 125.6h.9M225.9 125.2h.9M225.5 127.4h.9M225.5 124.9h.9M233.3 130.0h.9M229.0 126.5h.9M243.2 122.5h.9M220.6 129.4h.9M240.1 114.9h.9M207.1 133.0h.9M258.3 122.3h.9M216.5 133.3h.9M254.2 135.2h.9M217.0 121.7h.9M213.8 121.7h.9M229.7 126.6h.9M209.3 124.9h.9M229.2 123.0h.9M205.2 117.1h.9M212.6 123.1h.9M241.4 123.8h.9M228.2 135.3h.9M221.8 122.9h.9M234.8 125.3h.9M224.2 130.1h.9M251.5 123.2h.9M235.5 127.4h.9M223.7 127.8h.9M244.0 126.9h.9M227.0 125.9h.9M223.4 126.6h.9M234.5 127.1h.9M225.1 124.7h.9M227.1 128.3h.9M226.7 128.4h.9M236.3 124.0h.9M231.6 123.0h.9M221.4 126.0h.9M237.4 123.5h.9M235.4 129.0h.9M235.7 123.9h.9M233.5 126.4h.9M217.8 127.7h.9M235.0 127.4h.9M222.7 126.4h.9M231.0 124.6h.9M224.5 124.0h.9M234.9 125.4h.9M223.4 129.6h.9M223.6 129.8h.9M238.4 126.3h.9M230.5 122.8h.9M231.0 128.3h.9M237.7 126.3h.9M226.6 119.6h.9M220.7 129.3h.9M222.3 130.0h.9M238.5 125.0h.9M225.3 126.1h.9M228.6 128.8h.9M229.2 132.9h.9M210.7 127.9h.9M228.3 122.3h.9M221.7 135.2h.9M231.2 126.2h.9M231.5 124.0h.9M240.4 123.8h.9M235.1 129.5h.9M233.5 123.5h.9M231.8 122.3h.9M224.4 128.8h.9M226.3 128.3h.9M238.3 123.5h.9M230.7 121.5h.9M229.5 129.7h.9M220.7 127.4h.9M229.5 123.0h.9M227.5 126.7h.9M215.4 125.5h.9M222.8 125.9h.9M228.2 123.2h.9M237.5 125.9h.9M242.3 127.8h.9M242.4 119.2h.9M228.5 126.4h.9M231.2 118.9h.9M233.5 124.9h.9M229.3 131.2h.9M229.6 126.9h.9M224.6 126.2h.9M233.5 123.2h.9M225.2 121.9h.9M224.1 127.1h.9M236.0 131.8h.9M218.3 123.6h.9M225.2 127.4h.9M234.2 126.5h.9M231.5 126.5h.9M222.3 124.0h.9M230.9 127.1h.9M221.8 129.2h.9M231.3 123.9h.9M211.2 128.4h.9M223.1 129.5h.9M227.1 126.5h.9M231.7 126.6h.9M227.7 125.2h.9M228.5 123.1h.9M219.9 130.4h.9M231.8 127.2h.9M223.3 120.1h.9M223.8 122.4h.9M225.9 129.8h.9M237.2 125.4h.9M221.1 120.4h.9M224.8 124.8h.9M228.4 124.4h.9M224.7 124.9h.9M227.6 128.9h.9M238.4 127.1h.9M233.3 124.3h.9M228.8 121.7h.9M224.8 125.2h.9M225.9 130.3h.9M217.2 131.1h.9M236.5 128.6h.9M225.4 128.1h.9M227.8 125.5h.9M238.0 125.0h.9M231.1 120.4h.9M228.8 122.2h.9M229.3 124.6h.9M234.6 126.5h.9M231.5 126.7h.9M224.0 127.8h.9M218.1 129.6h.9M215.8 125.5h.9M231.7 127.7h.9M226.5 124.9h.9M229.4 120.5h.9M222.5 128.6h.9M225.5 121.7h.9M211.4 125.3h.9M210.3 140.7h.9M214.2 132.7h.9M224.4 132.1h.9M199.7 131.9h.9M209.0 125.0h.9M213.6 138.0h.9M213.2 135.2h.9M221.0 133.9h.9M235.0 126.2h.9M210.6 128.3h.9M218.2 131.4h.9M202.0 137.8h.9M231.2 132.4h.9M216.4 121.4h.9M240.7 127.7h.9M214.0 126.1h.9M218.6 132.2h.9M208.2 126.5h.9M217.5 136.1h.9M207.6 139.3h.9M214.6 131.2h.9M222.6 129.4h.9M204.9 142.2h.9M209.3 128.2h.9M210.1 136.9h.9M221.2 131.2h.9M214.6 140.1h.9M207.0 136.4h.9M221.4 131.7h.9M222.7 136.0h.9M210.5 128.4h.9M209.9 142.2h.9M216.1 132.3h.9M222.6 125.8h.9M216.0 143.0h.9M207.6 132.7h.9M210.7 132.8h.9M194.8 129.9h.9M203.6 127.1h.9M205.8 124.0h.9M210.8 136.4h.9M217.2 134.0h.9M206.4 126.9h.9M212.0 130.8h.9M205.3 130.8h.9M231.6 130.3h.9M218.6 125.7h.9M229.7 138.1h.9M267.2 122.7h.9M251.1 131.7h.9M240.8 125.1h.9M261.9 126.7h.9M243.1 125.5h.9M261.9 116.2h.9M267.3 119.8h.9M253.8 123.5h.9M268.5 130.7h.9M250.2 124.0h.9M233.1 122.3h.9M281.0 126.8h.9M251.0 117.6h.9M260.6 122.3h.9M271.2 115.3h.9M242.8 131.8h.9M254.3 121.0h.9M257.2 125.9h.9M276.7 122.2h.9M258.8 132.4h.9M273.1 128.6h.9M261.8 121.3h.9M271.5 120.9h.9M269.3 125.5h.9M263.9 122.2h.9M254.6 125.8h.9M259.8 137.1h.9M248.6 130.0h.9M264.7 131.6h.9M251.3 121.1h.9M243.2 125.8h.9M274.2 127.4h.9M250.9 124.0h.9M250.8 126.6h.9M260.0 132.4h.9M248.4 134.0h.9M258.4 124.9h.9M255.6 121.5h.9M237.8 124.3h.9M247.8 125.9h.9M256.9 126.9h.9M259.0 118.6h.9M249.1 125.9h.9M270.1 123.1h.9M259.2 125.6h.9M245.1 130.5h.9M262.5 122.8h.9M254.2 126.0h.9M266.7 134.9h.9M245.8 128.8h.9M264.5 128.6h.9M244.0 130.6h.9M247.6 127.6h.9M259.2 136.3h.9M251.7 127.4h.9M260.5 123.1h.9M251.8 116.9h.9M258.5 128.2h.9M239.6 117.9h.9M259.8 128.8h.9M252.3 116.8h.9M254.2 125.4h.9M256.1 130.0h.9M251.3 121.9h.9M251.5 114.2h.9M238.4 103.8h.9M226.8 103.8h.9M234.6 95.7h.9M232.4 99.7h.9M245.0 106.2h.9M229.2 107.1h.9M236.7 113.6h.9M217.7 107.4h.9M227.1 122.2h.9M198.5 89.5h.9M249.8 100.2h.9M228.1 112.6h.9" stroke="#000" stroke-width=".9" stroke-opacity="0.4" fill="none"/>
<path d="M238.0 122.3h.9M237.7 137.7h.9M229.0 126.2h.9M229.3 137.8h.9M215.8 126.6h.9M243.8 119.4h.9M236.7 128.0h.9M223.5 143.1h.9M230.0 119.5h.9M234.0 128.2h.9M222.4 123.4h.9M227.3 127.7h.9M225.3 130.1h.9M222.3 122.9h.9M230.2 122.6h.9M239.7 117.2h.9M232.1 135.4h.9M230.7 120.1h.9M226.8 113.4h.9M240.1 125.2h.9M236.2 123.9h.9M213.5 128.6h.9M233.2 117.3h.9M230.4 126.3h.9M236.4 128.1h.9M245.1 117.5h.9M215.0 129.4h.9M234.7 115.8h.9M241.2 121.9h.9M223.7 119.5h.9M194.4 131.5h.9M241.6 129.4h.9M236.3 129.3h.9M231.6 116.4h.9M242.9 125.2h.9M225.2 110.5h.9M218.8 124.5h.9M220.4 120.0h.9M238.7 124.4h.9M222.6 134.3h.9M215.7 125.9h.9M223.4 130.5h.9M230.6 137.2h.9M242.3 128.0h.9M215.0 127.7h.9M196.2 135.4h.9M201.7 124.9h.9M221.6 123.3h.9M249.2 127.7h.9M199.8 127.8h.9M240.2 119.8h.9M203.8 138.9h.9M237.9 133.4h.9M201.4 135.3h.9M226.1 123.7h.9M212.7 134.5h.9M242.8 130.8h.9M239.3 127.5h.9M223.7 118.4h.9M238.8 126.2h.9M234.9 123.6h.9M249.2 128.2h.9M225.2 122.0h.9M218.8 131.9h.9M229.6 120.7h.9M219.2 125.2h.9M228.9 121.0h.9M239.3 128.3h.9M238.3 121.0h.9M216.3 131.9h.9M221.4 129.7h.9M227.9 124.0h.9M212.9 127.1h.9M221.8 134.0h.9M222.4 117.3h.9M224.7 127.1h.9M223.7 121.5h.9M220.5 114.6h.9M206.3 131.1h.9M220.7 126.4h.9M213.9 126.5h.9M226.4 134.1h.9M235.3 128.9h.9M215.3 126.9h.9M238.8 130.2h.9M258.8 123.2h.9M234.9 125.3h.9M211.1 129.6h.9M253.9 131.5h.9M243.5 135.1h.9M227.3 131.2h.9M241.1 111.9h.9M213.5 118.2h.9M235.2 120.1h.9M213.5 122.0h.9M229.9 126.4h.9M214.9 134.8h.9M216.4 124.1h.9M228.5 127.8h.9M243.9 136.2h.9M222.7 129.3h.9M245.1 129.8h.9M237.0 130.0h.9M220.2 122.9h.9M222.7 127.5h.9M237.3 131.7h.9M226.8 129.4h.9M225.9 123.1h.9M217.6 130.1h.9M236.7 119.2h.9M234.5 130.4h.9M238.5 121.8h.9M244.4 136.8h.9M213.5 122.5h.9M231.8 125.4h.9M203.1 135.7h.9M242.7 123.5h.9M214.7 120.9h.9M196.6 138.1h.9M216.1 127.3h.9M244.1 115.8h.9M230.1 130.5h.9M232.4 130.7h.9M211.4 125.3h.9M208.8 121.4h.9M214.3 123.2h.9M233.6 126.8h.9M245.9 131.3h.9M226.4 108.8h.9M220.4 126.3h.9M223.7 132.8h.9M227.6 130.6h.9M206.7 129.7h.9M233.7 128.6h.9M229.6 125.6h.9M229.8 132.1h.9M221.0 124.1h.9M231.0 125.9h.9M235.1 126.2h.9M232.3 137.5h.9M236.8 129.3h.9M212.5 127.7h.9M216.6 112.6h.9M216.0 110.9h.9M246.0 118.2h.9M220.4 121.6h.9M227.0 127.0h.9M228.6 127.5h.9M207.4 123.6h.9M225.1 137.5h.9M248.4 115.3h.9M250.3 115.6h.9M242.9 131.0h.9M223.5 122.0h.9M232.3 119.7h.9M212.0 129.3h.9M230.9 113.7h.9M218.8 117.6h.9M229.5 129.1h.9M206.0 125.2h.9M221.2 123.8h.9M239.9 121.0h.9M208.0 122.4h.9M238.3 122.8h.9M206.9 130.4h.9M251.9 125.1h.9M226.9 129.8h.9M231.7 113.2h.9M216.6 124.0h.9M228.8 127.4h.9M243.4 118.0h.9M243.5 117.4h.9M198.8 127.0h.9M242.0 123.8h.9M246.7 125.0h.9M232.5 126.3h.9M230.4 120.0h.9M231.6 129.2h.9M239.0 124.2h.9M238.8 120.0h.9M234.8 126.1h.9M243.7 124.8h.9M224.7 127.8h.9M229.4 135.8h.9M237.0 129.3h.9M245.9 128.3h.9M234.1 116.5h.9M219.3 127.6h.9M226.2 122.7h.9M222.9 133.9h.9M215.1 126.1h.9M229.7 126.9h.9M209.9 126.3h.9M231.4 128.8h.9M214.2 139.3h.9M190.9 128.8h.9M224.4 122.3h.9M226.2 128.8h.9M227.9 129.0h.9M228.0 119.1h.9M223.3 126.8h.9M230.4 128.5h.9M236.4 130.0h.9M219.7 124.6h.9M231.7 122.3h.9M231.7 121.9h.9M246.5 119.8h.9M216.3 126.6h.9M220.9 126.2h.9M226.4 124.7h.9M226.7 125.4h.9M230.3 130.2h.9M228.8 132.4h.9M210.6 130.6h.9M216.8 132.8h.9M215.9 135.0h.9M227.7 123.7h.9M215.4 125.2h.9M222.2 143.0h.9M235.1 135.1h.9M241.9 117.7h.9M242.2 117.9h.9M250.0 125.3h.9M219.2 122.0h.9M223.6 125.0h.9M235.7 129.2h.9M248.1 125.0h.9M248.1 106.2h.9M237.8 122.6h.9M224.6 118.7h.9M229.8 120.4h.9M228.0 122.9h.9M215.9 133.1h.9M234.1 124.3h.9M225.1 131.3h.9M223.4 119.7h.9M211.5 121.4h.9M223.3 136.3h.9M232.9 128.2h.9M232.4 134.7h.9M223.1 134.9h.9M213.0 132.0h.9M224.0 126.6h.9M204.2 128.5h.9M205.1 125.2h.9M237.8 129.6h.9M219.1 126.7h.9M261.3 115.7h.9M211.8 129.0h.9M225.0 135.8h.9M222.7 127.1h.9M225.2 131.4h.9M233.4 126.5h.9M234.3 136.4h.9M233.0 127.6h.9M227.8 131.3h.9M222.9 125.1h.9M215.4 128.2h.9M223.8 124.2h.9M240.9 129.1h.9M224.0 124.9h.9M252.4 126.0h.9M226.3 125.0h.9M244.3 125.4h.9M234.8 125.6h.9M242.5 124.0h.9M231.2 123.7h.9M227.2 114.2h.9M212.4 124.6h.9M220.2 130.6h.9M249.2 124.4h.9M210.4 116.4h.9M227.0 125.8h.9M220.9 125.7h.9M238.4 108.7h.9M220.0 131.3h.9M209.7 135.1h.9M233.1 125.2h.9M223.8 136.5h.9M214.5 124.1h.9M239.6 121.9h.9M221.6 130.2h.9M209.2 132.3h.9M215.6 127.0h.9M218.4 121.0h.9M238.2 129.3h.9M232.1 135.7h.9M215.7 137.2h.9M225.4 125.9h.9M226.2 124.4h.9M242.6 119.3h.9M245.0 123.2h.9M230.8 127.0h.9M223.6 125.2h.9M223.6 128.8h.9M231.3 128.2h.9M216.8 133.5h.9M212.8 128.3h.9M219.9 115.3h.9M241.2 118.3h.9M206.6 133.4h.9M233.5 116.7h.9M224.6 134.2h.9M239.2 121.5h.9M218.7 114.9h.9M235.7 120.2h.9M223.6 125.0h.9M235.6 122.4h.9M229.8 134.5h.9M240.1 126.4h.9M216.7 126.7h.9M244.8 125.3h.9M258.9 125.5h.9M217.2 128.6h.9M234.3 122.4h.9M209.0 126.4h.9M251.3 118.5h.9M251.3 128.8h.9M224.9 129.8h.9M213.4 132.4h.9M219.1 122.2h.9M226.9 127.5h.9M220.6 131.2h.9M223.5 118.1h.9M216.0 135.9h.9M232.2 129.1h.9M236.9 123.4h.9M217.8 122.3h.9M234.6 129.7h.9M210.5 122.9h.9M238.1 128.3h.9M224.2 129.1h.9M228.6 114.8h.9M224.7 124.3h.9M251.2 119.1h.9M213.9 133.4h.9M226.3 125.8h.9M211.1 119.5h.9M224.3 131.5h.9M222.7 119.9h.9M243.7 120.3h.9M210.6 123.1h.9M215.9 133.1h.9M247.6 123.6h.9M232.6 126.3h.9M238.4 126.4h.9M224.3 122.0h.9M233.3 124.2h.9M219.4 126.6h.9M219.2 133.0h.9M239.6 117.3h.9M229.3 121.7h.9M219.7 127.0h.9M211.4 132.4h.9M241.4 124.4h.9M216.0 127.5h.9M225.1 127.2h.9M222.9 127.7h.9M223.4 130.6h.9M214.0 129.7h.9M210.2 121.2h.9M237.7 128.6h.9M200.8 124.4h.9M216.4 115.2h.9M221.7 140.8h.9M223.0 127.6h.9M230.6 139.8h.9M247.4 121.0h.9M228.5 124.2h.9M220.8 126.1h.9M219.9 139.4h.9M216.5 134.7h.9M210.7 129.9h.9M242.0 131.6h.9M238.7 123.8h.9M237.7 123.8h.9M206.5 127.7h.9M224.9 137.1h.9M202.3 130.4h.9M236.9 129.8h.9M208.4 118.9h.9M234.2 119.8h.9M226.5 124.3h.9M235.0 129.4h.9M226.0 121.3h.9M227.3 123.9h.9M225.1 126.8h.9M229.4 131.5h.9M234.9 118.7h.9M228.8 126.2h.9M229.4 124.5h.9M222.0 126.0h.9M228.2 115.4h.9M228.0 128.1h.9M221.1 128.0h.9M237.2 128.8h.9M240.8 129.3h.9M225.2 133.9h.9M233.9 121.7h.9M229.8 124.1h.9M232.4 123.4h.9M230.5 125.9h.9M221.7 125.9h.9M233.1 127.1h.9M222.9 122.7h.9M229.6 124.7h.9M226.9 125.9h.9M223.0 125.3h.9M235.0 122.9h.9M219.6 129.8h.9M223.8 125.7h.9M237.3 131.5h.9M217.9 127.1h.9M232.5 124.8h.9M228.4 130.6h.9M225.2 130.8h.9M239.8 122.5h.9M227.1 134.2h.9M233.7 130.0h.9M225.4 123.2h.9M237.3 125.8h.9M226.8 130.0h.9M225.0 122.9h.9M234.6 132.2h.9M224.7 122.7h.9M222.8 120.2h.9M232.6 126.1h.9M228.8 131.1h.9M235.2 122.2h.9M230.6 126.0h.9M213.6 124.9h.9M229.2 124.9h.9M225.5 131.7h.9M231.8 121.2h.9M226.5 122.1h.9M231.9 122.9h.9M229.1 117.9h.9M222.3 125.7h.9M235.8 124.8h.9M232.7 127.2h.9M230.1 126.2h.9M228.5 128.0h.9M232.7 126.8h.9M228.3 122.5h.9M219.3 135.8h.9M232.2 126.8h.9M235.6 122.1h.9M227.4 123.4h.9M224.3 131.1h.9M226.4 124.3h.9M230.5 121.7h.9M227.2 131.0h.9M226.8 128.2h.9M230.7 132.3h.9M217.3 130.3h.9M226.0 123.7h.9M233.9 123.0h.9M236.5 123.8h.9M232.4 126.4h.9M231.7 128.6h.9M234.7 125.5h.9M222.2 127.1h.9M238.3 125.5h.9M216.1 127.1h.9M226.3 130.4h.9M234.0 128.6h.9M221.3 121.8h.9M233.3 117.7h.9M229.7 127.6h.9M224.2 127.6h.9M232.6 127.4h.9M226.8 131.1h.9M230.6 128.9h.9M238.7 129.5h.9M221.9 122.8h.9M236.7 121.2h.9M223.9 129.4h.9M218.6 129.1h.9M231.8 128.3h.9M230.2 124.8h.9M226.1 126.5h.9M229.3 129.7h.9M227.4 124.5h.9M228.5 128.2h.9M235.1 125.3h.9M227.5 132.9h.9M228.2 125.3h.9M223.0 124.6h.9M237.3 118.6h.9M234.0 128.8h.9M229.8 121.6h.9M226.2 126.6h.9M222.4 126.0h.9M233.2 127.6h.9M240.2 127.5h.9M233.2 126.1h.9M229.5 130.9h.9M240.8 125.2h.9M229.8 119.7h.9M218.5 130.7h.9M211.1 131.4h.9M216.4 121.9h.9M209.1 128.4h.9M207.5 135.7h.9M207.5 132.2h.9M209.2 125.9h.9M224.4 139.8h.9M220.6 127.2h.9M213.2 129.8h.9M209.2 131.5h.9M218.7 134.3h.9M206.5 127.7h.9M201.5 132.6h.9M202.7 122.4h.9M203.9 136.3h.9M196.3 125.9h.9M199.2 139.5h.9M210.5 129.6h.9M236.5 134.2h.9M206.5 127.9h.9M210.3 138.7h.9M211.6 135.9h.9M206.0 131.3h.9M221.9 133.5h.9M214.3 133.5h.9M201.7 132.3h.9M218.5 126.9h.9M217.3 133.2h.9M207.8 136.2h.9M209.6 137.2h.9M207.4 129.3h.9M222.4 129.1h.9M216.8 137.0h.9M201.7 136.6h.9M220.9 123.9h.9M207.4 127.4h.9M196.7 139.1h.9M214.4 132.2h.9M197.7 121.5h.9M198.4 136.0h.9M222.5 133.9h.9M199.3 126.8h.9M220.4 135.0h.9M208.7 138.6h.9M206.7 129.1h.9M194.1 134.2h.9M214.5 132.5h.9M214.4 132.6h.9M204.0 143.9h.9M269.1 128.5h.9M270.4 131.1h.9M249.9 131.6h.9M271.5 122.6h.9M256.3 124.0h.9M255.4 122.1h.9M250.7 125.5h.9M253.1 122.3h.9M251.2 121.8h.9M259.0 134.2h.9M252.1 125.4h.9M251.5 124.4h.9M243.7 126.9h.9M250.2 130.9h.9M263.7 126.6h.9M275.1 124.3h.9M257.9 121.0h.9M249.9 109.2h.9M249.0 130.8h.9M270.6 122.8h.9M263.2 127.5h.9M250.8 121.9h.9M250.7 122.2h.9M258.5 126.0h.9M245.7 123.6h.9M261.2 117.3h.9M247.2 121.3h.9M241.5 113.4h.9M254.6 121.5h.9M254.6 131.1h.9M257.1 126.3h.9M261.1 117.1h.9M267.9 130.8h.9M258.8 124.1h.9M260.0 123.4h.9M251.0 127.5h.9M250.9 130.5h.9M263.0 121.4h.9M258.4 134.1h.9M252.1 127.3h.9M238.8 136.4h.9M248.7 131.0h.9M253.5 120.5h.9M265.3 129.3h.9M247.5 133.8h.9M254.1 124.0h.9M247.8 134.0h.9M261.2 119.0h.9M248.3 121.5h.9M262.4 128.9h.9M240.0 131.6h.9M254.7 123.0h.9M259.3 124.4h.9M266.2 121.3h.9M263.2 131.4h.9M248.1 132.9h.9M246.1 127.2h.9M262.6 119.4h.9M262.2 131.8h.9M265.1 129.5h.9M253.1 114.9h.9M266.6 120.6h.9M262.1 132.8h.9M262.5 107.0h.9M243.2 108.4h.9M197.3 100.6h.9M213.2 102.6h.9M231.0 107.8h.9M235.6 114.0h.9M271.1 108.8h.9M231.7 111.8h.9M237.7 103.4h.9M196.6 102.4h.9M242.1 107.7h.9M254.5 104.9h.9M242.8 112.9h.9M220.5 110.9h.9" stroke="#000" stroke-width=".9" stroke-opacity="0.4" fill="none"/>
<path d="M230.9 133.1h.9M227.5 127.6h.9M234.7 124.2h.9M240.3 123.4h.9M235.8 118.1h.9M233.1 133.5h.9M215.3 122.8h.9M221.5 126.3h.9M254.0 116.5h.9M219.7 125.5h.9M243.0 127.8h.9M238.3 130.4h.9M235.0 126.5h.9M238.7 119.5h.9M215.5 123.8h.9M254.0 124.6h.9M226.8 118.1h.9M241.1 124.8h.9M244.0 111.9h.9M237.6 126.4h.9M223.4 136.1h.9M233.2 131.8h.9M230.9 133.2h.9M204.0 130.2h.9M232.2 137.2h.9M255.5 120.4h.9M239.9 121.0h.9M222.8 129.2h.9M254.3 125.6h.9M233.8 118.2h.9M207.3 127.5h.9M242.5 127.1h.9M227.2 125.1h.9M237.0 117.1h.9M232.1 124.9h.9M225.9 121.3h.9M250.9 125.5h.9M226.6 121.4h.9M259.7 134.0h.9M226.1 128.4h.9M233.6 132.0h.9M229.8 126.5h.9M245.6 120.7h.9M230.7 129.6h.9M229.2 131.2h.9M236.5 126.2h.9M237.2 131.2h.9M234.8 127.2h.9M231.0 126.2h.9M216.9 139.6h.9M228.5 124.4h.9M246.5 117.6h.9M233.3 127.4h.9M201.4 123.6h.9M217.0 121.3h.9M225.6 125.3h.9M208.1 132.9h.9M231.2 128.6h.9M211.3 132.8h.9M221.8 126.5h.9M238.8 118.1h.9M230.6 131.3h.9M240.3 127.6h.9M234.3 117.1h.9M202.9 139.2h.9M242.5 121.5h.9M215.5 117.4h.9M216.1 130.1h.9M238.0 132.5h.9M224.8 125.7h.9M249.8 113.6h.9M223.5 126.1h.9M247.3 137.2h.9M221.1 125.9h.9M242.9 131.7h.9M216.8 133.5h.9M243.6 121.0h.9M223.7 119.8h.9M236.4 123.6h.9M222.9 124.0h.9M219.5 125.4h.9M233.6 118.7h.9M225.0 131.5h.9M241.0 126.5h.9M218.9 111.8h.9M212.3 131.9h.9M233.5 130.1h.9M222.7 122.6h.9M244.5 135.4h.9M235.4 118.0h.9M235.3 123.7h.9M227.7 118.9h.9M228.4 127.6h.9M245.5 126.1h.9M230.0 124.8h.9M218.9 133.1h.9M235.0 115.5h.9M242.2 120.5h.9M243.5 122.8h.9M229.3 123.6h.9M229.1 125.4h.9M248.1 124.0h.9M225.0 122.3h.9M220.8 127.4h.9M225.5 132.5h.9M220.8 114.8h.9M218.4 131.9h.9M237.8 122.9h.9M220.3 133.3h.9M251.8 126.7h.9M213.5 131.5h.9M242.2 123.5h.9M206.1 128.2h.9M226.2 134.2h.9M210.6 127.0h.9M218.3 120.8h.9M242.9 127.6h.9M227.1 121.5h.9M249.9 128.9h.9M254.9 127.5h.9M229.8 122.2h.9M249.9 123.1h.9M218.1 123.8h.9M219.8 129.3h.9M221.9 131.2h.9M206.6 133.6h.9M244.3 111.1h.9M228.5 134.3h.9M226.9 121.9h.9M234.3 127.6h.9M216.9 122.6h.9M223.4 129.8h.9M226.5 125.1h.9M211.5 131.8h.9M232.2 131.2h.9M235.6 140.2h.9M273.3 124.2h.9M236.8 126.6h.9M210.2 133.6h.9M220.8 126.7h.9M230.4 122.2h.9M225.1 128.9h.9M218.1 131.4h.9M204.7 136.7h.9M235.7 129.0h.9M223.3 127.5h.9M241.5 119.6h.9M230.7 131.3h.9M202.1 121.0h.9M207.2 123.5h.9M241.1 120.7h.9M226.7 121.8h.9M232.6 131.6h.9M231.6 124.5h.9M229.3 113.3h.9M228.5 132.8h.9M226.9 121.9h.9M245.2 115.1h.9M204.6 129.3h.9M235.9 121.0h.9M217.7 133.0h.9M229.7 130.9h.9M225.4 133.5h.9M227.5 121.9h.9M247.5 112.2h.9M221.7 137.8h.9M233.8 129.2h.9M240.2 129.5h.9M226.0 119.0h.9M235.3 122.8h.9M232.6 130.7h.9M254.0 132.3h.9M224.4 118.3h.9M229.8 130.0h.9M223.4 124.2h.9M234.7 124.3h.9M233.6 129.0h.9M225.2 133.6h.9M215.4 129.0h.9M209.4 122.7h.9M249.0 124.6h.9M238.6 131.3h.9M209.7 124.4h.9M231.6 128.5h.9M229.9 141.7h.9M221.3 120.7h.9M239.4 131.1h.9M211.0 129.4h.9M225.9 123.4h.9M238.2 126.5h.9M220.9 123.0h.9M232.3 126.8h.9M233.1 125.2h.9M239.1 127.6h.9M240.3 128.6h.9M242.8 116.8h.9M219.0 129.8h.9M220.1 125.8h.9M232.8 122.4h.9M230.5 125.4h.9M225.6 118.3h.9M234.3 119.6h.9M230.6 129.0h.9M241.0 125.9h.9M237.5 133.5h.9M212.0 139.0h.9M233.6 133.9h.9M229.2 109.4h.9M252.8 126.2h.9M239.6 116.8h.9M228.6 119.5h.9M224.3 128.6h.9M223.0 118.0h.9M215.1 118.7h.9M241.7 129.5h.9M226.3 121.7h.9M257.6 124.8h.9M231.0 127.2h.9M246.1 128.8h.9M238.4 125.3h.9M238.1 123.9h.9M215.3 124.8h.9M213.6 123.9h.9M231.1 122.9h.9M221.0 128.0h.9M212.5 125.1h.9M217.9 124.7h.9M242.4 128.0h.9M232.9 124.9h.9M220.2 126.6h.9M215.9 123.9h.9M238.0 124.0h.9M243.3 127.4h.9M208.9 135.8h.9M224.2 129.0h.9M226.1 116.0h.9M240.5 124.4h.9M217.3 126.2h.9M221.3 119.5h.9M205.5 121.6h.9M228.9 122.5h.9M235.6 122.8h.9M216.9 122.9h.9M218.4 133.9h.9M229.8 125.1h.9M243.6 119.3h.9M235.0 121.5h.9M230.2 120.2h.9M210.9 134.3h.9M227.7 129.7h.9M226.9 128.9h.9M215.1 127.0h.9M237.2 115.7h.9M237.0 127.9h.9M233.6 116.9h.9M227.9 123.2h.9M237.9 131.7h.9M194.5 126.2h.9M229.7 132.7h.9M231.0 114.3h.9M229.1 129.6h.9M220.3 126.6h.9M216.2 132.2h.9M236.4 127.8h.9M242.5 120.5h.9M226.6 136.9h.9M225.7 127.3h.9M241.5 128.1h.9M239.9 119.7h.9M231.4 125.4h.9M219.2 122.4h.9M223.8 130.8h.9M232.2 130.3h.9M213.4 133.7h.9M225.1 129.9h.9M224.2 125.6h.9M220.8 138.1h.9M250.1 124.8h.9M225.5 134.8h.9M231.3 126.3h.9M233.9 125.1h.9M213.2 133.1h.9M226.0 120.9h.9M241.5 117.5h.9M220.1 121.6h.9M244.5 124.4h.9M222.6 133.5h.9M231.6 133.9h.9M240.6 123.4h.9M239.7 129.8h.9M239.0 135.4h.9M229.2 132.2h.9M216.4 126.2h.9M211.6 139.6h.9M225.4 115.4h.9M227.7 130.1h.9M221.8 124.1h.9M202.2 125.2h.9M235.1 126.8h.9M222.6 120.6h.9M252.8 117.4h.9M229.6 125.4h.9M232.9 129.4h.9M231.4 120.8h.9M223.7 129.4h.9M241.2 131.2h.9M222.8 117.6h.9M228.0 133.5h.9M214.8 124.2h.9M227.5 120.4h.9M223.3 125.1h.9M236.3 125.9h.9M232.9 132.9h.9M239.3 121.3h.9M241.9 131.6h.9M248.7 125.3h.9M238.0 123.6h.9M235.1 119.8h.9M235.6 130.9h.9M219.2 121.8h.9M234.5 119.7h.9M228.3 130.4h.9M229.5 129.2h.9M212.5 129.5h.9M230.6 127.2h.9M212.1 126.9h.9M227.1 136.1h.9M221.4 128.6h.9M228.2 121.4h.9M219.3 127.4h.9M245.3 128.6h.9M214.7 129.5h.9M230.5 128.0h.9M207.6 135.8h.9M239.0 128.6h.9M228.1 119.2h.9M226.1 138.5h.9M225.0 130.6h.9M226.8 126.0h.9M230.3 128.4h.9M225.3 129.6h.9M233.7 126.5h.9M230.0 127.5h.9M222.0 130.9h.9M229.7 121.6h.9M231.1 130.6h.9M235.4 119.4h.9M224.2 123.0h.9M241.8 117.2h.9M229.0 117.5h.9M249.3 117.5h.9M214.7 115.0h.9M214.6 130.3h.9M219.3 120.3h.9M233.8 137.9h.9M250.0 120.3h.9M240.3 125.2h.9M232.4 122.3h.9M213.5 133.0h.9M244.2 129.6h.9M217.4 127.5h.9M243.1 122.1h.9M230.4 123.8h.9M235.0 120.6h.9M229.7 130.2h.9M225.8 128.6h.9M221.9 124.7h.9M206.9 129.1h.9M219.3 122.6h.9M228.8 122.1h.9M226.7 134.9h.9M241.0 125.6h.9M233.0 118.1h.9M217.8 130.5h.9M238.3 120.8h.9M218.9 126.3h.9M236.3 129.0h.9M219.8 131.5h.9M257.5 118.6h.9M227.0 121.5h.9M221.2 121.7h.9M204.8 121.8h.9M228.9 122.2h.9M237.6 125.4h.9M229.4 126.2h.9M232.2 123.9h.9M234.8 134.2h.9M232.4 122.7h.9M218.7 127.0h.9M234.9 126.2h.9M225.3 122.6h.9M233.1 123.9h.9M215.8 118.5h.9M227.4 119.7h.9M230.9 126.9h.9M241.6 121.3h.9M238.6 123.5h.9M229.1 130.6h.9M231.5 130.8h.9M230.8 126.0h.9M232.4 124.4h.9M230.9 129.7h.9M230.2 123.8h.9M239.3 122.8h.9M236.6 128.4h.9M238.6 127.9h.9M236.4 124.1h.9M231.2 124.6h.9M229.4 127.5h.9M218.9 125.9h.9M231.7 124.7h.9M225.6 125.7h.9M226.9 129.1h.9M218.7 121.1h.9M227.9 128.0h.9M224.5 130.7h.9M221.6 125.4h.9M219.9 122.0h.9M220.2 126.4h.9M235.7 130.9h.9M238.4 125.6h.9M219.0 123.5h.9M228.4 121.1h.9M217.0 120.4h.9M243.8 125.3h.9M224.2 133.3h.9M220.9 127.6h.9M229.1 130.4h.9M227.1 134.3h.9M237.0 126.0h.9M232.5 125.6h.9M227.5 125.2h.9M230.2 124.9h.9M230.7 123.8h.9M215.4 126.8h.9M229.5 119.8h.9M225.4 129.4h.9M233.9 119.5h.9M226.2 131.0h.9M236.2 123.0h.9M228.2 131.6h.9M229.3 122.1h.9M223.9 126.7h.9M223.0 131.5h.9M225.6 127.9h.9M228.5 130.4h.9M230.8 124.4h.9M224.1 129.7h.9M223.9 126.6h.9M224.8 125.6h.9M222.6 124.0h.9M229.7 129.1h.9M234.8 121.3h.9M222.4 123.0h.9M227.7 123.6h.9M230.7 125.0h.9M220.7 133.6h.9M225.3 128.6h.9M230.9 123.5h.9M233.1 120.5h.9M224.1 126.4h.9M233.8 124.4h.9M222.9 129.8h.9M230.0 124.8h.9M233.8 127.3h.9M226.5 124.1h.9M223.3 126.5h.9M237.3 131.1h.9M223.5 124.8h.9M229.5 127.9h.9M230.9 125.6h.9M224.7 119.6h.9M235.3 127.6h.9M230.0 128.1h.9M221.9 130.9h.9M233.1 125.2h.9M224.4 125.9h.9M221.5 123.6h.9M230.2 129.5h.9M227.6 128.2h.9M222.5 128.6h.9M227.5 123.8h.9M233.1 123.1h.9M231.7 126.3h.9M230.3 132.0h.9M227.6 130.0h.9M229.7 126.7h.9M228.6 122.9h.9M228.6 125.5h.9M228.3 131.1h.9M221.2 127.2h.9M223.1 124.4h.9M238.3 126.1h.9M229.4 127.4h.9M227.3 131.9h.9M238.4 127.8h.9M231.4 133.3h.9M231.0 134.5h.9M227.2 126.0h.9M228.0 126.9h.9M206.9 135.7h.9M212.0 140.4h.9M218.3 137.3h.9M203.0 129.5h.9M220.7 128.3h.9M213.5 131.1h.9M205.1 136.4h.9M209.1 139.2h.9M214.5 133.7h.9M197.8 134.4h.9M219.1 130.0h.9M218.4 140.8h.9M217.3 130.9h.9M209.6 128.1h.9M222.1 130.1h.9M214.6 131.9h.9M215.6 134.2h.9M223.6 136.6h.9M211.5 121.7h.9M204.8 131.8h.9M205.3 129.5h.9M197.9 132.9h.9M198.6 132.0h.9M209.7 131.1h.9M205.6 135.8h.9M218.7 131.3h.9M205.0 129.0h.9M200.9 132.1h.9M206.2 127.6h.9M224.3 133.7h.9M222.2 140.1h.9M211.9 131.7h.9M202.6 129.5h.9M205.2 134.0h.9M216.2 130.5h.9M203.1 131.5h.9M226.5 127.2h.9M205.2 135.7h.9M200.3 129.5h.9M203.6 134.7h.9M207.3 136.8h.9M209.9 132.9h.9M196.7 129.7h.9M208.6 124.6h.9M209.0 125.8h.9M206.1 133.1h.9M195.0 131.4h.9M210.4 132.5h.9M205.8 130.1h.9M260.2 124.3h.9M272.3 123.1h.9M251.3 128.2h.9M236.8 116.2h.9M253.9 124.9h.9M253.1 143.2h.9M263.0 129.8h.9M257.3 126.5h.9M243.0 126.5h.9M248.2 124.1h.9M251.8 130.5h.9M253.2 120.1h.9M249.0 117.6h.9M261.7 129.4h.9M260.4 132.8h.9M265.2 135.1h.9M267.3 134.6h.9M260.2 123.0h.9M267.3 129.2h.9M259.6 131.9h.9M252.0 133.3h.9M265.4 128.3h.9M248.2 132.0h.9M264.1 117.4h.9M260.3 129.6h.9M267.7 125.5h.9M259.2 121.3h.9M255.7 124.9h.9M264.1 117.8h.9M262.8 124.3h.9M245.6 122.2h.9M249.6 127.4h.9M263.6 121.1h.9M251.2 121.0h.9M244.4 121.3h.9M251.6 137.7h.9M276.8 125.3h.9M269.3 134.0h.9M255.3 124.2h.9M262.1 130.4h.9M247.5 118.0h.9M255.8 124.3h.9M254.5 120.5h.9M245.6 134.6h.9M236.8 120.1h.9M260.5 129.7h.9M261.1 125.3h.9M267.0 126.8h.9M262.2 126.0h.9M263.3 126.1h.9M275.6 127.7h.9M257.6 127.9h.9M261.8 129.2h.9M244.9 128.3h.9M252.0 132.5h.9M242.6 122.4h.9M263.7 133.0h.9M264.5 122.9h.9M259.4 124.0h.9M251.3 124.9h.9M242.7 117.5h.9M261.0 118.4h.9M256.7 124.9h.9M254.6 101.5h.9M232.2 99.9h.9M224.7 105.1h.9M248.1 108.8h.9M271.8 107.7h.9M239.2 104.1h.9M258.0 100.5h.9M212.2 105.4h.9M224.8 106.1h.9M219.4 107.1h.9M223.2 104.2h.9M204.1 98.0h.9M241.2 102.7h.9" stroke="#000" stroke-width=".9" stroke-opacity="0.4" fill="none"/>
<path d="M238.4 125.2h.9M236.2 123.3h.9M217.4 137.2h.9M225.2 130.4h.9M246.2 122.0h.9M233.3 135.8h.9M224.1 118.2h.9M237.6 123.8h.9M232.6 121.1h.9M213.9 125.2h.9M237.3 133.3h.9M222.9 129.6h.9M215.1 134.9h.9M241.4 123.9h.9M242.0 132.4h.9M236.7 124.9h.9M235.3 126.0h.9M223.8 138.0h.9M220.6 131.7h.9M217.8 121.9h.9M229.4 129.4h.9M230.1 125.5h.9M220.7 117.5h.9M212.8 126.8h.9M203.9 123.3h.9M237.7 131.4h.9M215.5 121.8h.9M232.0 135.0h.9M201.0 129.0h.9M220.9 118.5h.9M250.6 132.5h.9M224.4 124.1h.9M244.4 127.9h.9M224.5 122.4h.9M218.9 117.3h.9M210.8 121.6h.9M234.5 129.8h.9M225.1 123.3h.9M218.0 132.6h.9M214.7 129.2h.9M233.1 124.3h.9M229.8 132.3h.9M246.6 135.3h.9M233.9 120.5h.9M222.2 128.0h.9M236.5 126.5h.9M234.4 119.0h.9M217.4 128.3h.9M222.6 118.4h.9M245.3 119.9h.9M231.6 122.3h.9M210.3 129.3h.9M235.5 114.4h.9M228.4 132.0h.9M210.9 123.0h.9M234.2 114.5h.9M220.1 125.1h.9M217.4 124.4h.9M227.9 129.0h.9M223.2 125.6h.9M237.3 118.3h.9M220.8 130.9h.9M230.0 119.3h.9M227.7 119.7h.9M225.9 127.7h.9M221.5 116.7h.9M240.8 136.5h.9M223.0 122.0h.9M231.7 130.0h.9M222.1 118.9h.9M217.1 127.1h.9M214.7 140.6h.9M225.8 127.2h.9M227.6 121.3h.9M235.0 127.5h.9M232.7 130.2h.9M237.0 122.0h.9M237.5 117.3h.9M243.5 131.4h.9M213.7 120.1h.9M211.6 121.0h.9M236.0 117.4h.9M229.2 132.0h.9M210.0 135.4h.9M223.2 119.9h.9M243.2 127.9h.9M226.2 128.3h.9M213.7 125.6h.9M214.5 135.2h.9M238.8 133.6h.9M243.5 113.8h.9M215.6 122.6h.9M208.2 125.4h.9M228.1 126.4h.9M224.8 129.7h.9M229.9 128.4h.9M220.6 128.1h.9M223.2 127.0h.9M236.4 125.2h.9M211.0 135.5h.9M231.3 129.2h.9M228.4 122.7h.9M214.5 129.5h.9M227.9 135.9h.9M243.1 116.8h.9M229.5 121.0h.9M232.7 129.0h.9M227.5 122.8h.9M241.8 129.2h.9M217.6 126.7h.9M238.3 125.7h.9M211.4 141.5h.9M228.7 129.6h.9M216.3 128.4h.9M255.8 127.5h.9M225.8 124.6h.9M228.7 131.8h.9M240.2 124.2h.9M223.3 134.8h.9M225.2 127.6h.9M224.6 126.3h.9M218.4 133.6h.9M220.1 132.4h.9M234.6 129.4h.9M270.2 118.4h.9M228.0 131.7h.9M205.5 131.3h.9M231.9 136.5h.9M233.1 125.1h.9M240.7 122.8h.9M229.2 124.4h.9M235.6 122.4h.9M211.7 132.2h.9M202.1 123.0h.9M236.1 127.8h.9M216.2 127.2h.9M238.4 127.6h.9M217.8 126.0h.9M251.2 129.1h.9M257.9 133.7h.9M225.9 122.5h.9M235.8 127.2h.9M220.0 129.5h.9M236.8 128.1h.9M239.9 137.6h.9M247.4 123.1h.9M225.1 124.3h.9M222.0 124.9h.9M195.8 127.5h.9M241.9 124.9h.9M222.1 137.1h.9M230.5 118.7h.9M227.2 141.7h.9M230.1 128.6h.9M237.0 126.2h.9M243.0 129.9h.9M232.7 126.5h.9M234.3 129.3h.9M237.9 129.7h.9M226.4 129.9h.9M228.3 115.4h.9M228.7 124.0h.9M235.9 133.1h.9M258.1 126.9h.9M240.7 114.7h.9M213.7 130.6h.9M223.7 125.5h.9M213.5 131.0h.9M222.2 123.5h.9M208.4 128.0h.9M212.3 121.6h.9M228.2 125.0h.9M232.4 131.9h.9M226.3 122.0h.9M218.0 126.8h.9M233.4 127.9h.9M224.6 120.1h.9M218.8 127.5h.9M224.1 121.6h.9M224.1 130.1h.9M224.8 124.9h.9M240.7 130.0h.9M233.2 123.3h.9M232.8 123.2h.9M226.2 119.7h.9M234.5 121.1h.9M215.4 131.3h.9M234.8 124.5h.9M230.5 122.6h.9M224.0 124.1h.9M234.5 123.0h.9M222.3 127.7h.9M223.5 128.4h.9M230.8 119.2h.9M230.1 123.7h.9M242.4 118.9h.9M222.9 131.2h.9M229.1 127.0h.9M233.6 127.5h.9M223.1 120.0h.9M226.4 127.1h.9M244.6 121.5h.9M225.4 121.1h.9M229.6 119.1h.9M213.7 129.6h.9M239.1 109.7h.9M216.9 123.5h.9M219.9 122.3h.9M226.9 126.8h.9M216.9 123.1h.9M209.1 127.1h.9M219.2 126.7h.9M227.5 123.3h.9M234.0 133.7h.9M233.1 130.0h.9M233.3 117.6h.9M244.3 127.0h.9M232.9 125.7h.9M235.3 130.0h.9M245.4 117.6h.9M243.9 126.0h.9M225.0 130.5h.9M233.8 126.0h.9M213.7 124.5h.9M233.2 131.4h.9M218.7 121.0h.9M218.8 121.9h.9M214.3 132.7h.9M219.9 129.2h.9M239.7 116.7h.9M228.5 113.4h.9M231.8 133.1h.9M245.8 119.0h.9M218.7 136.9h.9M222.4 126.1h.9M248.0 125.0h.9M231.6 119.9h.9M252.6 124.9h.9M235.8 127.0h.9M225.9 122.1h.9M219.5 128.2h.9M233.8 132.3h.9M233.8 124.5h.9M217.0 131.5h.9M235.0 124.6h.9M233.1 129.2h.9M223.0 126.0h.9M232.4 117.9h.9M231.8 131.5h.9M235.5 135.5h.9M239.8 123.7h.9M222.1 126.8h.9M230.0 125.6h.9M227.7 130.9h.9M226.6 121.0h.9M215.5 119.7h.9M214.9 120.7h.9M238.2 121.5h.9M216.6 121.9h.9M211.3 131.2h.9M225.6 126.3h.9M222.3 127.4h.9M241.6 122.7h.9M253.9 127.7h.9M238.4 126.1h.9M213.6 130.6h.9M208.9 124.5h.9M227.1 113.7h.9M230.5 123.1h.9M242.5 131.5h.9M242.2 110.4h.9M252.8 118.8h.9M234.0 126.2h.9M210.0 126.6h.9M215.2 120.5h.9M227.9 128.4h.9M226.0 127.8h.9M227.2 128.5h.9M245.3 127.0h.9M230.5 123.2h.9M231.3 126.0h.9M220.5 127.5h.9M233.1 125.3h.9M212.6 123.9h.9M218.8 116.3h.9M217.3 123.8h.9M227.6 122.1h.9M241.0 118.0h.9M232.0 132.5h.9M231.6 125.7h.9M232.6 124.7h.9M243.7 122.4h.9M236.3 115.0h.9M218.0 130.4h.9M231.1 131.2h.9M222.1 128.0h.9M229.8 128.6h.9M240.1 138.5h.9M225.6 131.8h.9M249.1 123.0h.9M245.0 118.2h.9M232.1 132.2h.9M219.7 128.1h.9M233.2 119.3h.9M217.5 129.7h.9M234.3 123.7h.9M221.8 123.0h.9M212.9 126.1h.9M213.9 130.0h.9M223.6 124.4h.9M215.0 124.9h.9M239.5 125.2h.9M233.3 130.3h.9M230.1 122.7h.9M213.8 119.4h.9M240.1 125.0h.9M241.8 130.1h.9M204.3 129.1h.9M251.6 129.3h.9M232.2 130.6h.9M225.7 128.3h.9M221.9 126.2h.9M222.9 127.0h.9M217.7 125.9h.9M244.8 124.7h.9M207.6 128.2h.9M227.9 135.9h.9M233.7 124.2h.9M219.5 129.4h.9M217.5 122.6h.9M236.8 122.0h.9M242.3 120.7h.9M237.9 121.1h.9M248.7 108.5h.9M209.9 127.2h.9M232.6 127.9h.9M200.5 137.7h.9M231.2 124.3h.9M253.7 122.9h.9M202.2 128.7h.9M225.8 124.8h.9M238.1 122.3h.9M230.1 131.9h.9M236.4 131.3h.9M232.1 129.5h.9M239.1 121.1h.9M225.1 118.5h.9M238.8 122.5h.9M235.2 115.4h.9M242.7 129.0h.9M206.6 126.5h.9M202.3 130.2h.9M205.3 122.6h.9M202.0 131.1h.9M232.1 123.4h.9M230.6 122.4h.9M225.6 128.8h.9M215.0 125.4h.9M230.5 124.0h.9M220.9 127.4h.9M223.9 126.4h.9M219.4 129.3h.9M244.2 114.1h.9M231.6 126.1h.9M213.7 127.9h.9M231.1 131.1h.9M209.8 123.7h.9M232.4 129.6h.9M248.7 117.3h.9M232.2 117.5h.9M236.3 120.2h.9M238.7 122.8h.9M230.8 124.5h.9M211.9 123.7h.9M222.4 132.4h.9M240.4 124.8h.9M221.4 120.4h.9M220.6 129.1h.9M212.3 126.7h.9M207.6 119.2h.9M232.0 125.9h.9M254.3 122.1h.9M246.7 134.5h.9M225.9 129.8h.9M226.3 127.2h.9M226.3 116.9h.9M238.6 127.3h.9M234.8 127.1h.9M229.9 118.4h.9M219.6 134.0h.9M227.0 125.5h.9M231.9 115.9h.9M219.7 127.1h.9M235.7 123.7h.9M230.2 122.9h.9M233.2 128.4h.9M223.4 125.2h.9M225.6 128.0h.9M228.8 124.9h.9M228.8 126.6h.9M223.2 131.9h.9M235.8 124.0h.9M238.5 125.8h.9M224.5 129.3h.9M231.0 129.1h.9M227.5 129.5h.9M239.2 122.9h.9M230.0 126.9h.9M230.4 127.8h.9M217.6 127.3h.9M231.7 128.9h.9M240.7 126.7h.9M219.4 127.3h.9M230.0 128.3h.9M229.4 125.4h.9M229.2 127.7h.9M224.6 127.0h.9M232.7 124.9h.9M219.7 123.7h.9M227.0 123.7h.9M226.0 125.6h.9M229.5 117.5h.9M221.3 120.1h.9M231.0 128.3h.9M233.7 130.3h.9M217.2 126.5h.9M233.2 117.7h.9M235.3 129.1h.9M240.5 122.0h.9M227.9 128.2h.9M230.8 125.9h.9M222.0 125.6h.9M233.5 130.6h.9M225.2 125.7h.9M232.0 121.7h.9M227.2 127.1h.9M222.3 122.6h.9M225.2 135.8h.9M228.3 119.6h.9M219.0 120.9h.9M224.4 126.6h.9M220.5 125.2h.9M230.9 125.9h.9M232.3 127.7h.9M233.6 122.1h.9M224.3 126.8h.9M226.2 127.5h.9M231.1 124.0h.9M220.0 130.3h.9M234.0 125.9h.9M225.7 135.1h.9M226.8 131.2h.9M233.5 124.0h.9M234.4 130.6h.9M238.0 122.9h.9M235.3 126.9h.9M228.2 131.3h.9M234.0 126.8h.9M233.7 124.2h.9M240.3 124.0h.9M241.0 121.4h.9M234.2 130.9h.9M223.2 127.9h.9M225.6 122.6h.9M230.8 129.9h.9M232.6 124.9h.9M232.3 129.7h.9M225.4 123.7h.9M227.6 126.2h.9M224.6 125.9h.9M229.9 122.2h.9M222.8 135.1h.9M221.6 125.7h.9M227.4 125.7h.9M241.0 127.1h.9M227.7 135.2h.9M226.8 121.0h.9M223.3 132.2h.9M243.3 123.3h.9M224.0 128.3h.9M237.0 125.2h.9M229.1 131.2h.9M217.4 120.7h.9M239.4 129.5h.9M225.8 127.8h.9M220.1 126.6h.9M232.4 124.4h.9M225.0 121.8h.9M224.7 136.8h.9M228.6 125.5h.9M222.3 124.3h.9M231.1 123.1h.9M223.3 130.8h.9M228.1 126.4h.9M234.3 130.7h.9M231.9 128.1h.9M232.2 133.3h.9M231.1 120.5h.9M223.9 127.6h.9M239.4 123.0h.9M210.3 132.2h.9M220.0 133.9h.9M202.1 127.9h.9M207.8 137.8h.9M215.8 136.4h.9M216.3 127.5h.9M200.3 128.9h.9M211.1 134.5h.9M223.2 129.8h.9M226.7 131.7h.9M211.0 132.0h.9M206.1 131.1h.9M209.7 125.9h.9M213.6 133.6h.9M201.8 125.9h.9M234.8 132.9h.9M204.0 131.6h.9M216.7 128.0h.9M211.9 126.8h.9M207.1 133.4h.9M223.1 130.5h.9M210.4 127.9h.9M205.7 124.3h.9M210.2 131.8h.9M211.6 122.5h.9M217.5 132.1h.9M220.4 127.6h.9M221.7 139.1h.9M224.4 144.8h.9M208.1 144.4h.9M217.2 129.1h.9M206.0 134.6h.9M211.9 129.6h.9M223.1 137.6h.9M209.8 133.1h.9M219.8 130.4h.9M217.4 142.2h.9M226.7 126.4h.9M217.0 130.9h.9M202.8 136.6h.9M210.9 133.1h.9M196.4 130.2h.9M217.4 126.7h.9M222.5 134.3h.9M219.5 137.5h.9M209.3 138.8h.9M220.4 132.5h.9M213.6 134.8h.9M218.5 127.8h.9M256.5 128.4h.9M256.0 125.8h.9M255.8 132.9h.9M254.8 119.2h.9M250.3 121.0h.9M264.0 128.4h.9M270.3 116.3h.9M256.5 130.5h.9M259.7 123.0h.9M266.2 116.6h.9M258.3 122.3h.9M260.5 124.2h.9M261.2 135.6h.9M256.0 128.1h.9M255.9 119.3h.9M262.9 127.8h.9M247.8 112.6h.9M257.6 123.4h.9M248.1 120.2h.9M266.1 129.4h.9M253.8 131.1h.9M251.9 126.9h.9M240.7 120.1h.9M245.7 125.0h.9M249.8 135.2h.9M255.1 132.0h.9M249.1 122.4h.9M261.9 124.6h.9M249.3 116.5h.9M261.9 124.6h.9M257.9 130.5h.9M254.4 120.1h.9M261.9 122.8h.9M267.6 128.8h.9M268.5 122.9h.9M257.2 122.3h.9M256.0 124.9h.9M256.4 128.4h.9M259.8 117.8h.9M255.1 133.4h.9M260.4 130.3h.9M246.1 120.1h.9M249.4 127.5h.9M264.3 124.3h.9M252.7 122.1h.9M256.2 121.3h.9M245.4 128.4h.9M240.0 127.9h.9M251.4 126.4h.9M267.8 116.9h.9M270.9 130.4h.9M261.4 126.4h.9M256.5 123.3h.9M255.6 131.2h.9M250.2 128.2h.9M241.7 124.0h.9M250.9 126.9h.9M245.3 136.7h.9M260.5 118.6h.9M262.0 130.0h.9M252.7 126.6h.9M258.0 130.2h.9M264.3 124.1h.9M271.4 106.6h.9M239.8 100.9h.9M230.2 109.7h.9M261.1 109.5h.9M254.7 105.8h.9M229.3 104.6h.9M238.3 112.0h.9M231.8 97.5h.9M221.4 112.8h.9M250.1 111.7h.9M251.6 101.7h.9M232.3 104.8h.9M222.3 105.7h.9" stroke="#000" stroke-width=".9" stroke-opacity="0.4" fill="none"/>
<path d="M239.8 130.6h.9M219.2 115.2h.9M245.4 122.5h.9M218.1 117.6h.9M203.9 131.7h.9M235.4 126.4h.9M232.0 122.0h.9M225.1 133.8h.9M246.7 125.7h.9M217.1 123.0h.9M209.8 133.8h.9M225.9 123.4h.9M222.3 127.4h.9M230.1 128.8h.9M232.2 126.1h.9M212.7 126.2h.9M224.1 129.9h.9M237.3 125.5h.9M243.6 129.2h.9M215.3 124.1h.9M256.4 114.4h.9M228.3 130.0h.9M249.5 111.8h.9M218.2 121.4h.9M231.9 125.9h.9M238.9 123.4h.9M226.9 126.6h.9M217.7 134.6h.9M217.8 128.7h.9M235.9 124.7h.9M231.4 121.3h.9M236.6 117.9h.9M244.6 115.1h.9M228.0 132.4h.9M208.6 121.5h.9M224.7 121.4h.9M226.8 131.2h.9M258.5 123.6h.9M270.3 119.8h.9M216.8 116.8h.9M221.6 121.3h.9M217.2 119.6h.9M232.9 129.6h.9M225.8 119.2h.9M240.6 125.6h.9M209.2 119.1h.9M232.0 124.4h.9M246.6 117.8h.9M230.3 121.9h.9M244.1 125.5h.9M236.5 127.2h.9M221.5 139.0h.9M234.6 133.7h.9M226.3 122.8h.9M206.2 128.6h.9M248.1 122.6h.9M228.4 129.6h.9M239.3 125.3h.9M239.3 136.8h.9M243.3 118.2h.9M230.1 124.0h.9M232.9 123.0h.9M241.4 132.8h.9M230.5 123.5h.9M232.8 127.2h.9M230.0 134.4h.9M223.6 128.3h.9M225.8 125.5h.9M223.9 125.5h.9M237.0 127.7h.9M230.5 135.9h.9M225.8 133.8h.9M216.1 133.2h.9M222.7 122.2h.9M236.0 130.9h.9M196.3 130.3h.9M230.0 118.5h.9M235.7 126.6h.9M226.6 133.9h.9M235.0 127.2h.9M209.4 124.2h.9M228.3 126.6h.9M224.9 125.4h.9M234.0 118.0h.9M215.1 138.8h.9M221.6 125.0h.9M228.4 123.1h.9M217.1 125.2h.9M229.4 124.7h.9M226.8 122.5h.9M224.4 120.5h.9M241.3 123.6h.9M204.8 132.7h.9M249.6 126.8h.9M226.0 143.2h.9M233.1 131.5h.9M233.7 125.9h.9M234.9 115.0h.9M236.5 122.5h.9M234.1 122.1h.9M206.0 136.1h.9M209.8 129.3h.9M226.8 133.0h.9M213.9 127.9h.9M233.6 120.2h.9M228.2 117.4h.9M217.6 115.0h.9M229.5 128.6h.9M221.1 131.5h.9M235.0 124.1h.9M231.1 129.9h.9M225.3 124.8h.9M227.0 124.9h.9M219.3 125.7h.9M243.3 130.0h.9M254.7 124.8h.9M242.8 127.0h.9M212.6 125.9h.9M237.1 120.8h.9M227.0 122.4h.9M228.1 129.8h.9M234.8 127.2h.9M226.7 127.2h.9M238.3 118.8h.9M229.2 119.0h.9M225.3 123.2h.9M236.2 121.8h.9M220.3 109.7h.9M238.2 133.4h.9M232.2 130.8h.9M229.6 132.4h.9M225.3 120.8h.9M239.9 125.0h.9M222.0 122.3h.9M246.7 135.2h.9M244.1 124.5h.9M239.6 117.4h.9M237.0 131.7h.9M215.0 134.6h.9M240.8 130.2h.9M235.8 116.0h.9M223.2 127.3h.9M225.3 126.8h.9M223.4 117.4h.9M230.2 134.2h.9M247.2 119.3h.9M240.1 134.0h.9M212.7 120.9h.9M221.7 132.2h.9M233.2 118.3h.9M213.3 131.6h.9M231.3 121.4h.9M206.3 125.2h.9M242.3 120.3h.9M226.0 120.6h.9M222.9 124.7h.9M208.6 123.9h.9M246.4 113.6h.9M225.4 133.1h.9M225.8 125.5h.9M241.6 126.2h.9M253.7 113.0h.9M242.3 123.6h.9M229.0 118.4h.9M224.3 121.1h.9M204.9 130.9h.9M217.8 130.1h.9M218.1 125.2h.9M214.4 129.6h.9M211.3 126.8h.9M235.3 123.8h.9M237.2 128.0h.9M234.5 122.9h.9M224.8 128.0h.9M219.6 130.2h.9M227.5 126.0h.9M224.1 127.8h.9M211.1 119.1h.9M236.7 115.5h.9M217.7 125.9h.9M229.9 117.7h.9M229.5 129.1h.9M238.5 120.1h.9M250.0 128.3h.9M217.0 126.1h.9M235.0 126.8h.9M229.5 131.6h.9M240.5 124.4h.9M233.0 126.0h.9M245.8 131.3h.9M234.6 125.6h.9M248.1 137.0h.9M233.4 123.6h.9M225.1 129.3h.9M214.8 124.0h.9M211.8 122.9h.9M226.1 126.2h.9M209.7 127.6h.9M231.8 123.7h.9M222.0 126.5h.9M230.7 130.3h.9M219.1 126.8h.9M206.2 130.6h.9M250.6 126.8h.9M230.7 122.8h.9M243.5 124.8h.9M217.4 132.3h.9M225.5 117.3h.9M226.7 122.6h.9M237.3 125.0h.9M227.2 117.3h.9M228.2 119.3h.9M223.2 126.6h.9M227.8 119.4h.9M220.6 133.2h.9M226.5 120.3h.9M230.1 131.3h.9M224.1 124.3h.9M225.2 122.3h.9M233.9 126.2h.9M211.8 124.4h.9M245.9 122.7h.9M226.1 124.6h.9M234.7 127.3h.9M242.6 126.0h.9M235.9 125.7h.9M202.4 126.0h.9M250.9 130.9h.9M208.7 121.2h.9M216.5 127.7h.9M219.7 124.2h.9M217.1 136.1h.9M237.2 119.9h.9M242.0 117.8h.9M218.1 129.9h.9M235.3 133.1h.9M226.4 120.3h.9M228.7 138.0h.9M225.4 132.3h.9M218.1 127.8h.9M207.3 125.0h.9M223.4 119.7h.9M244.2 117.3h.9M248.2 128.9h.9M228.1 107.1h.9M209.2 129.8h.9M229.6 122.1h.9M220.0 123.1h.9M227.5 136.8h.9M214.3 125.7h.9M234.9 130.8h.9M223.9 133.9h.9M240.8 127.0h.9M214.3 135.1h.9M223.2 123.1h.9M213.9 138.3h.9M233.2 124.3h.9M234.2 117.0h.9M232.2 125.1h.9M236.5 129.0h.9M229.9 121.0h.9M251.1 121.4h.9M230.5 120.7h.9M241.8 124.6h.9M240.6 131.5h.9M248.4 123.7h.9M226.4 131.0h.9M232.8 119.7h.9M221.8 116.7h.9M225.4 128.6h.9M225.8 129.6h.9M227.0 125.9h.9M254.0 126.5h.9M236.1 127.5h.9M228.8 129.8h.9M225.3 119.6h.9M240.0 123.0h.9M222.5 130.2h.9M221.7 127.9h.9M215.3 123.5h.9M234.2 122.9h.9M231.0 124.2h.9M217.5 123.8h.9M240.1 133.3h.9M231.7 120.3h.9M201.9 137.5h.9M230.3 127.5h.9M219.6 129.3h.9M231.2 125.8h.9M234.4 130.0h.9M222.7 136.0h.9M225.2 128.4h.9M235.3 128.2h.9M218.7 129.2h.9M222.7 119.9h.9M245.6 126.4h.9M224.1 130.3h.9M222.0 124.0h.9M228.8 130.4h.9M222.1 127.4h.9M241.8 122.2h.9M218.1 117.6h.9M225.5 125.9h.9M212.1 127.2h.9M243.9 131.5h.9M239.9 122.7h.9M232.8 131.2h.9M219.5 120.0h.9M216.2 124.9h.9M235.1 123.6h.9M225.6 126.2h.9M231.2 117.4h.9M240.6 123.0h.9M237.8 111.2h.9M217.4 119.3h.9M221.4 122.0h.9M217.7 125.5h.9M207.3 129.6h.9M232.7 117.2h.9M226.5 128.1h.9M232.9 122.1h.9M230.0 130.6h.9M222.8 132.5h.9M214.9 125.4h.9M208.9 131.7h.9M217.3 114.7h.9M235.4 118.4h.9M225.5 124.8h.9M238.6 121.2h.9M213.7 122.3h.9M222.7 132.4h.9M239.8 128.2h.9M229.0 116.3h.9M244.2 127.3h.9M225.8 121.8h.9M217.5 128.6h.9M223.1 124.9h.9M216.9 124.5h.9M224.4 126.8h.9M231.5 132.6h.9M213.0 132.5h.9M220.8 125.0h.9M223.2 120.7h.9M225.3 133.0h.9M226.2 123.3h.9M242.8 131.4h.9M256.0 131.7h.9M227.1 125.5h.9M239.3 135.6h.9M231.0 131.0h.9M231.8 125.7h.9M217.6 125.5h.9M224.0 131.4h.9M230.0 128.4h.9M232.1 123.2h.9M206.8 125.3h.9M220.8 126.6h.9M217.6 128.5h.9M237.0 125.2h.9M226.3 125.6h.9M248.6 119.3h.9M244.7 133.5h.9M225.0 125.3h.9M237.8 127.4h.9M218.9 111.1h.9M237.1 125.8h.9M224.2 134.6h.9M234.7 119.0h.9M218.9 129.0h.9M210.5 127.7h.9M242.3 117.0h.9M203.0 127.7h.9M251.1 120.4h.9M228.6 118.4h.9M230.2 131.0h.9M238.4 116.0h.9M220.2 127.4h.9M233.8 123.0h.9M235.1 123.1h.9M232.3 121.5h.9M231.8 127.9h.9M228.8 121.9h.9M246.0 135.0h.9M239.7 123.1h.9M229.2 131.8h.9M241.0 122.1h.9M232.2 121.6h.9M235.7 129.0h.9M222.7 125.1h.9M221.8 128.3h.9M222.2 124.0h.9M230.3 123.9h.9M221.7 122.9h.9M226.8 129.4h.9M222.2 128.8h.9M238.4 124.8h.9M235.5 123.4h.9M231.9 128.5h.9M227.2 123.7h.9M228.6 130.7h.9M240.4 127.5h.9M234.5 127.4h.9M234.3 129.1h.9M233.4 128.2h.9M227.8 122.0h.9M224.3 128.3h.9M232.8 128.6h.9M225.6 130.5h.9M236.7 122.3h.9M215.5 124.1h.9M228.6 128.5h.9M229.3 127.5h.9M235.8 123.8h.9M231.9 126.7h.9M237.9 118.3h.9M231.6 130.6h.9M224.8 129.9h.9M229.0 126.1h.9M222.9 126.2h.9M235.1 128.0h.9M224.0 129.1h.9M229.0 130.3h.9M229.2 134.8h.9M233.4 128.2h.9M234.8 129.1h.9M232.3 121.3h.9M230.6 130.3h.9M223.0 132.0h.9M210.5 122.9h.9M222.9 132.4h.9M224.0 121.8h.9M230.7 131.1h.9M230.4 125.7h.9M228.0 127.3h.9M225.1 122.1h.9M231.9 128.7h.9M236.8 128.0h.9M227.0 120.7h.9M239.4 124.9h.9M224.0 121.7h.9M222.9 127.0h.9M228.6 134.2h.9M234.3 123.7h.9M226.6 123.5h.9M234.6 126.5h.9M231.6 133.0h.9M229.9 124.2h.9M221.4 127.9h.9M229.2 124.8h.9M238.5 127.2h.9M230.2 130.4h.9M227.9 125.2h.9M217.8 128.3h.9M227.7 123.7h.9M229.1 124.5h.9M236.7 124.1h.9M227.7 126.3h.9M231.3 130.3h.9M228.7 124.6h.9M225.3 118.0h.9M223.7 128.3h.9M224.8 124.9h.9M229.5 125.9h.9M223.2 117.3h.9M231.3 131.9h.9M232.1 130.8h.9M228.2 121.6h.9M232.3 125.3h.9M231.5 123.0h.9M231.2 124.9h.9M228.8 126.6h.9M239.3 124.8h.9M228.2 125.9h.9M229.4 120.3h.9M224.4 119.3h.9M241.0 135.7h.9M223.3 130.1h.9M226.2 126.5h.9M222.3 128.5h.9M221.2 130.3h.9M231.7 122.6h.9M227.5 125.9h.9M226.9 127.2h.9M236.7 122.0h.9M227.6 130.8h.9M239.3 125.0h.9M233.9 127.8h.9M239.1 124.6h.9M227.9 124.1h.9M235.0 129.9h.9M219.1 127.5h.9M228.2 122.0h.9M228.9 125.0h.9M230.6 132.7h.9M235.6 125.8h.9M236.5 126.1h.9M240.6 126.4h.9M231.9 120.5h.9M229.7 120.8h.9M234.3 120.2h.9M220.1 130.5h.9M226.3 128.2h.9M224.2 134.1h.9M209.8 129.9h.9M224.3 131.8h.9M228.0 131.8h.9M218.2 135.2h.9M215.6 131.0h.9M198.0 135.6h.9M207.1 130.3h.9M222.1 121.1h.9M208.1 129.4h.9M208.2 128.0h.9M203.6 145.9h.9M210.8 135.3h.9M206.7 123.6h.9M212.8 134.2h.9M208.9 132.4h.9M205.4 130.4h.9M208.8 124.7h.9M212.8 127.8h.9M226.9 136.6h.9M224.2 133.2h.9M215.4 135.6h.9M217.9 139.4h.9M220.5 134.0h.9M203.8 136.3h.9M222.6 130.7h.9M231.5 135.4h.9M222.9 137.2h.9M208.2 137.4h.9M241.9 139.3h.9M208.2 133.1h.9M201.9 129.3h.9M199.3 131.8h.9M202.4 128.3h.9M216.8 144.2h.9M193.7 135.2h.9M205.4 136.7h.9M208.8 133.1h.9M205.0 140.2h.9M214.4 127.9h.9M207.6 128.5h.9M193.7 136.2h.9M218.5 132.3h.9M207.1 122.2h.9M205.3 136.7h.9M217.9 133.2h.9M213.0 136.9h.9M259.3 120.6h.9M253.9 123.0h.9M247.0 133.4h.9M263.7 122.3h.9M270.8 126.0h.9M254.0 124.5h.9M262.1 121.1h.9M253.1 126.9h.9M256.4 128.6h.9M271.6 125.7h.9M256.7 124.0h.9M239.9 134.9h.9M264.2 117.1h.9M277.8 126.7h.9M251.7 126.8h.9M260.1 130.8h.9M259.3 115.2h.9M240.1 131.6h.9M252.2 123.5h.9M255.5 120.4h.9M248.6 126.8h.9M273.5 119.2h.9M263.0 121.6h.9M251.9 123.2h.9M264.5 125.8h.9M268.3 132.6h.9M257.6 132.9h.9M259.3 128.9h.9M261.2 131.9h.9M260.4 117.5h.9M236.2 132.9h.9M265.1 124.4h.9M254.0 127.0h.9M257.4 125.7h.9M258.0 121.8h.9M249.4 128.4h.9M260.0 126.2h.9M249.3 129.5h.9M243.5 128.6h.9M251.5 128.4h.9M260.6 126.9h.9M249.2 122.0h.9M266.1 125.0h.9M244.0 130.6h.9M244.2 116.0h.9M258.4 131.4h.9M257.6 126.0h.9M249.2 127.4h.9M243.2 119.6h.9M246.9 123.8h.9M246.7 134.1h.9M248.6 119.9h.9M266.1 136.6h.9M240.1 118.4h.9M255.0 130.8h.9M266.1 116.1h.9M266.8 126.2h.9M252.6 118.4h.9M243.5 118.7h.9M273.4 132.2h.9M270.4 117.3h.9M253.0 127.8h.9M239.4 115.9h.9M263.4 110.5h.9M220.1 108.8h.9M233.7 111.9h.9M274.7 103.0h.9M240.4 97.6h.9M234.6 105.1h.9M193.6 103.0h.9M242.1 99.3h.9M236.9 102.6h.9M205.6 111.7h.9M240.4 100.2h.9M250.2 105.6h.9M260.3 104.0h.9" stroke="#000" stroke-width=".9" stroke-opacity="0.4" fill="none"/>
<rect x="190.4" y="56.2" width="102.7" height="102.1" fill="none" stroke="#c4c4c4" stroke-width="1"/>
<path d="M242.5 56.2V158.3M190.4 117.6H293.1" stroke="#4a4a4a" stroke-width="1.2" fill="none"/>
<path d="M187.8 151.2H190.4M197.5 158.3V161.1M187.8 118.6H190.4M230.4 158.3V161.1M187.8 90.9H190.4M258.2 158.3V161.1M187.8 66.8H190.4M282.4 158.3V161.1" stroke="#111" stroke-width="1" fill="none"/>
<path d="M188.8 144.1H190.4M188.8 125.9H190.4M188.8 110.3H190.4M188.8 105.4H190.4M188.8 101.9H190.4M188.8 99.3H190.4M188.8 97.1H190.4M188.8 95.2H190.4M188.8 93.6H190.4M188.8 92.2H190.4M188.8 83.7H190.4M188.8 79.4H190.4M188.8 76.4H190.4M188.8 74.1H190.4M188.8 72.2H190.4M188.8 70.5H190.4M188.8 69.1H190.4M188.8 67.9H190.4M188.8 59.2H190.4" stroke="#777" stroke-width=".8" fill="none"/>
<path d="M204.6 158.3V160.4M223.0 158.3V160.4M238.7 158.3V160.4M243.6 158.3V160.4M247.1 158.3V160.4M249.8 158.3V160.4M252.0 158.3V160.4M253.9 158.3V160.4M255.5 158.3V160.4M256.9 158.3V160.4M265.5 158.3V160.4M269.7 158.3V160.4M272.8 158.3V160.4M275.1 158.3V160.4M277.0 158.3V160.4M278.7 158.3V160.4M280.1 158.3V160.4M281.3 158.3V160.4M290.1 158.3V160.4" stroke="#333" stroke-width=".8" fill="none"/>
<rect x="188.4" y="132.8" width="2" height="4.6" fill="#111"/>
<rect x="211.1" y="158.3" width="5.2" height="2.4" fill="#111"/>
<text x="184.80" y="70.11" font-size="7.6" text-anchor="end">10<tspan font-size="5.60" dy="-2.8">5</tspan></text>
<text x="184.80" y="94.23" font-size="7.6" text-anchor="end">10<tspan font-size="5.60" dy="-2.8">4</tspan></text>
<text x="184.80" y="121.88" font-size="7.6" text-anchor="end">10<tspan font-size="5.60" dy="-2.8">3</tspan></text>
<text x="184.80" y="154.53" font-size="7.6" text-anchor="end">-10<tspan font-size="5.60" dy="-2.8">3</tspan></text>
<text x="181.4" y="137.8" font-size="7.6" text-anchor="end">0</text>
<text x="199.11" y="174.80" font-size="7.6" text-anchor="middle">-10<tspan font-size="5.60" dy="-2.8">3</tspan></text>
<text x="216.22" y="174.80" font-size="7.6" text-anchor="middle">0</text>
<text x="231.95" y="174.80" font-size="7.6" text-anchor="middle">10<tspan font-size="5.60" dy="-2.8">3</tspan></text>
<text x="259.77" y="174.80" font-size="7.6" text-anchor="middle">10<tspan font-size="5.60" dy="-2.8">4</tspan></text>
<text x="284.03" y="174.80" font-size="7.6" text-anchor="middle">10<tspan font-size="5.60" dy="-2.8">5</tspan></text>
<text x="240.6" y="51.2" font-size="8.5" text-anchor="middle" textLength="12.6" lengthAdjust="spacingAndGlyphs">WT</text>
<text x="193.4" y="65.0" font-size="6.8">Q1</text><text x="193.4" y="72.8" font-size="6.8">3.99</text>
<text x="289.2" y="65.0" font-size="6.8" text-anchor="end">Q2</text><text x="289.2" y="72.8" font-size="6.8" text-anchor="end">1.94</text>
<text x="288.8" y="144.2" font-size="6.8" text-anchor="end">Q3</text><text x="288.8" y="152.5" font-size="6.8" text-anchor="end">9.59</text>
<text x="193.4" y="144.2" font-size="6.8">Q4</text><text x="193.4" y="152.5" font-size="6.8">84.5</text>
<path d="M226.5 281.8h.9M217.4 270.8h.9M215.2 271.7h.9M216.6 265.5h.9M234.1 277.9h.9M214.7 279.2h.9M217.0 268.8h.9M215.1 265.1h.9M216.3 288.8h.9M218.8 277.7h.9M219.5 283.9h.9M237.5 265.7h.9M220.3 270.0h.9M230.5 269.3h.9M239.8 274.8h.9M218.9 266.1h.9M226.9 271.3h.9M218.5 274.9h.9M227.0 269.9h.9M218.9 263.7h.9M240.3 270.7h.9M229.5 266.3h.9M203.9 279.7h.9M225.4 262.8h.9M219.7 270.0h.9M224.3 278.8h.9M238.1 272.5h.9M227.3 269.1h.9M235.4 281.4h.9M230.2 268.3h.9M223.0 272.2h.9M232.9 273.2h.9M222.3 269.7h.9M243.4 279.6h.9M211.9 275.3h.9M215.4 275.3h.9M222.0 278.8h.9M224.3 269.5h.9M230.4 273.1h.9M220.2 273.2h.9M219.4 269.4h.9M208.1 268.6h.9M218.2 270.7h.9M216.7 264.8h.9M211.0 268.2h.9M239.6 286.1h.9M242.5 273.1h.9M220.9 277.0h.9M234.2 276.7h.9M238.4 267.6h.9M223.2 270.1h.9M235.2 271.1h.9M234.8 271.6h.9M233.1 270.0h.9M222.6 264.2h.9M239.8 277.6h.9M212.4 267.2h.9M220.7 278.9h.9M229.7 277.6h.9M213.9 263.5h.9M236.0 273.4h.9M227.3 279.3h.9M195.4 278.8h.9M235.0 267.3h.9M232.5 273.4h.9M219.1 268.2h.9M220.6 273.7h.9M205.8 272.8h.9M237.2 274.7h.9M204.9 278.7h.9M225.8 271.2h.9M214.9 276.8h.9M226.4 275.8h.9M204.7 267.3h.9M218.6 281.8h.9M211.2 278.6h.9M239.1 273.4h.9M196.5 280.1h.9M219.5 268.8h.9M215.5 276.6h.9M222.0 271.1h.9M195.2 276.7h.9M215.8 272.8h.9M223.5 266.6h.9M219.5 284.7h.9M229.1 278.8h.9M235.2 270.4h.9M207.4 266.7h.9M222.9 270.7h.9M230.0 274.3h.9M227.3 268.6h.9M229.9 278.5h.9M210.4 279.7h.9M203.4 273.0h.9M223.2 271.9h.9M216.6 273.4h.9M226.0 272.0h.9M239.1 279.6h.9M216.8 278.4h.9M228.0 274.6h.9M226.2 270.8h.9M214.3 263.2h.9M224.2 268.9h.9M213.0 266.9h.9M203.3 273.3h.9M215.7 261.5h.9M221.3 269.3h.9M233.1 274.9h.9M233.0 276.4h.9M222.4 278.4h.9M216.3 264.5h.9M219.2 274.8h.9M213.0 272.7h.9M212.5 270.2h.9M219.6 259.1h.9M209.6 276.2h.9M221.3 271.0h.9M226.8 275.4h.9M214.8 275.2h.9M214.4 266.4h.9M202.9 281.8h.9M228.6 275.9h.9M217.4 269.5h.9M214.0 279.4h.9M224.1 259.4h.9M208.5 275.7h.9M222.6 268.5h.9M227.5 282.3h.9M206.3 268.3h.9M227.0 268.2h.9M216.5 268.8h.9M234.5 281.7h.9M211.2 284.6h.9M229.6 267.0h.9M224.4 267.6h.9M212.7 265.9h.9M221.0 263.2h.9M223.8 265.2h.9M232.4 275.6h.9M225.1 271.2h.9M227.8 268.4h.9M214.5 270.3h.9M225.8 279.6h.9M235.4 268.9h.9M214.5 278.1h.9M216.8 279.9h.9M212.7 273.1h.9M218.7 286.0h.9M222.4 264.4h.9M208.4 273.4h.9M225.5 279.8h.9M224.5 264.5h.9M197.7 270.9h.9M226.6 272.1h.9M224.4 278.4h.9M214.8 272.0h.9M231.6 259.9h.9M217.2 273.5h.9M214.6 269.3h.9M214.7 279.1h.9M222.2 264.7h.9M212.4 263.3h.9M225.6 274.2h.9M224.2 269.2h.9M233.3 268.3h.9M217.8 282.3h.9M231.0 277.0h.9M220.3 265.8h.9M200.3 264.9h.9M209.1 277.2h.9M205.7 274.1h.9M220.7 262.2h.9M232.0 271.1h.9M236.2 272.4h.9M231.6 275.6h.9M224.4 275.3h.9M231.0 279.2h.9M236.1 272.4h.9M238.2 269.4h.9M206.0 273.9h.9M214.5 256.3h.9M213.0 280.2h.9M230.2 278.7h.9M226.5 265.3h.9M221.7 267.0h.9M217.2 268.1h.9M219.3 262.5h.9M225.7 283.8h.9M209.4 263.9h.9M222.5 280.2h.9M234.0 278.8h.9M232.1 267.5h.9M215.6 281.1h.9M215.2 267.2h.9M213.0 267.1h.9M230.0 274.7h.9M229.9 268.0h.9M240.8 283.8h.9M216.2 269.3h.9M225.6 263.3h.9M228.3 269.8h.9M226.1 274.5h.9M210.9 270.1h.9M221.6 273.0h.9M216.9 271.4h.9M239.3 267.9h.9M211.7 264.2h.9M216.3 267.5h.9M235.9 277.0h.9M207.3 274.9h.9M233.4 274.7h.9M218.8 278.1h.9M216.9 279.8h.9M218.2 273.9h.9M220.9 273.0h.9M240.3 276.3h.9M228.5 281.1h.9M216.9 268.1h.9M216.1 269.7h.9M204.3 279.9h.9M208.6 273.6h.9M215.3 274.2h.9M233.4 269.8h.9M218.0 275.3h.9M233.6 263.1h.9M215.5 275.6h.9M238.1 271.7h.9M217.6 279.7h.9M226.2 275.6h.9M233.3 278.2h.9M216.2 276.2h.9M221.1 266.9h.9M212.1 269.8h.9M218.1 274.8h.9M229.3 268.2h.9M221.6 272.2h.9M229.9 273.5h.9M223.8 268.1h.9M224.6 268.7h.9M213.4 271.7h.9M215.2 275.6h.9M204.7 287.0h.9M217.8 277.0h.9M194.5 267.5h.9M227.3 277.5h.9M196.6 263.6h.9M224.4 289.2h.9M240.4 267.3h.9M213.0 282.7h.9M230.3 270.8h.9M223.2 277.7h.9M231.6 270.8h.9M209.5 271.9h.9M228.9 274.7h.9M230.4 279.3h.9M214.0 260.9h.9M218.4 267.7h.9M237.3 273.4h.9M230.9 276.5h.9M224.3 263.5h.9M230.3 261.4h.9M214.7 273.2h.9M231.9 274.5h.9M238.8 275.9h.9M229.3 277.2h.9M215.5 275.7h.9M196.3 272.5h.9M221.6 271.0h.9M212.5 278.0h.9M210.5 274.1h.9M235.5 276.8h.9M220.1 277.5h.9M218.3 270.0h.9M242.4 254.8h.9M244.2 268.2h.9M234.6 271.2h.9M224.5 274.1h.9M226.7 259.0h.9M221.1 271.6h.9M224.6 269.4h.9M206.0 277.5h.9M211.7 274.3h.9M225.3 278.4h.9M219.4 268.6h.9M219.0 270.9h.9M228.0 269.1h.9M218.0 265.5h.9M230.5 283.8h.9M224.1 276.1h.9M220.1 280.5h.9M214.1 278.6h.9M213.1 273.3h.9M227.4 275.0h.9M223.9 281.7h.9M207.4 264.1h.9M211.9 273.4h.9M231.3 269.8h.9M224.5 275.0h.9M214.1 278.2h.9M221.6 272.8h.9M230.3 274.0h.9M226.5 266.2h.9M221.7 268.2h.9M201.2 279.9h.9M230.6 272.8h.9M221.7 259.1h.9M233.2 266.3h.9M230.9 267.0h.9M219.6 270.1h.9M220.0 273.6h.9M216.9 274.5h.9M225.9 271.6h.9M216.6 272.7h.9M236.1 276.3h.9M218.3 266.9h.9M239.2 272.9h.9M229.9 279.9h.9M222.0 268.5h.9M206.8 274.1h.9M208.1 272.0h.9M203.8 269.4h.9M223.1 262.6h.9M229.9 265.3h.9M233.4 272.3h.9M239.4 274.3h.9M222.2 275.7h.9M214.0 272.1h.9M204.7 273.3h.9M218.8 267.5h.9M212.3 265.7h.9M235.2 272.9h.9M214.1 273.3h.9M225.0 270.8h.9M243.8 272.9h.9M207.5 272.9h.9M232.1 271.3h.9M207.3 269.2h.9M220.8 267.2h.9M232.8 263.6h.9M220.3 270.5h.9M229.5 277.7h.9M214.4 263.9h.9M223.7 265.2h.9M211.7 276.9h.9M215.6 274.5h.9M228.4 272.1h.9M210.9 268.1h.9M234.9 270.0h.9M206.4 276.4h.9M217.6 259.6h.9M217.1 265.5h.9M216.3 270.6h.9M229.1 271.1h.9M209.4 271.8h.9M233.2 280.8h.9M203.9 272.5h.9M219.4 274.1h.9M211.6 275.6h.9M214.4 257.7h.9M220.7 274.1h.9M227.4 262.8h.9M208.8 275.0h.9M219.0 267.7h.9M219.4 265.6h.9M208.1 266.7h.9M216.6 275.9h.9M211.2 267.6h.9M210.0 270.4h.9M222.2 261.1h.9M219.5 267.5h.9M222.6 273.1h.9M214.9 279.5h.9M238.3 278.1h.9M213.2 267.7h.9M236.7 276.2h.9M209.7 270.8h.9M227.2 265.0h.9M234.6 274.4h.9M209.3 277.3h.9M210.8 277.3h.9M225.6 276.9h.9M225.4 274.1h.9M225.2 271.7h.9M226.4 263.8h.9M199.9 277.4h.9M225.5 279.4h.9M227.5 270.1h.9M226.1 268.3h.9M215.2 272.2h.9M231.9 272.6h.9M224.9 273.9h.9M221.1 271.2h.9M204.0 271.5h.9M214.3 263.6h.9M215.6 281.9h.9M215.9 264.4h.9M201.7 266.0h.9M211.4 262.7h.9M224.5 267.7h.9M225.6 265.9h.9M218.8 266.6h.9M217.7 270.9h.9M217.6 274.6h.9M209.5 275.9h.9M213.0 271.5h.9M215.4 277.2h.9M220.2 274.4h.9M215.7 272.8h.9M224.9 264.0h.9M218.7 265.0h.9M217.6 275.4h.9M222.2 264.7h.9M213.5 270.6h.9M213.9 275.8h.9M220.2 275.5h.9M223.1 271.6h.9M215.4 269.2h.9M219.9 269.9h.9M227.9 274.2h.9M225.5 283.1h.9M222.7 270.8h.9M214.6 270.2h.9M211.8 269.1h.9M214.6 272.9h.9M216.0 270.4h.9M214.7 271.7h.9M221.1 267.8h.9M225.1 261.1h.9M220.8 274.2h.9M224.8 265.0h.9M218.2 270.9h.9M225.0 275.2h.9M226.8 270.4h.9M217.4 276.6h.9M217.3 271.2h.9M210.7 275.9h.9M217.8 270.8h.9M216.5 272.7h.9M220.6 273.2h.9M228.6 271.1h.9M212.6 270.1h.9M229.1 271.5h.9M230.8 272.0h.9M219.5 269.9h.9M229.4 273.2h.9M229.2 267.6h.9M213.4 270.0h.9M220.7 276.5h.9M216.7 271.7h.9M232.5 271.0h.9M219.5 271.7h.9M213.8 271.0h.9M222.8 273.0h.9M230.0 269.5h.9M212.1 271.7h.9M213.2 270.7h.9M225.2 272.3h.9M220.8 273.1h.9M225.0 275.9h.9M209.6 269.6h.9M221.5 272.5h.9M218.0 272.2h.9M213.3 266.4h.9M229.5 267.3h.9M210.9 271.9h.9M222.9 270.9h.9M216.3 273.0h.9M219.8 272.8h.9M217.0 275.0h.9M223.9 267.7h.9M221.5 265.8h.9M229.6 274.1h.9M230.0 265.9h.9M223.0 268.2h.9M220.4 272.7h.9M221.0 277.0h.9M223.7 270.8h.9M234.0 276.9h.9M223.8 279.8h.9M215.2 269.2h.9M225.9 271.1h.9M226.3 276.1h.9M219.2 271.8h.9M223.2 269.9h.9M219.4 273.1h.9M226.6 270.2h.9M214.8 271.3h.9M219.6 271.1h.9M222.1 273.5h.9M214.8 269.2h.9M228.7 272.4h.9M215.4 268.7h.9M221.5 267.4h.9M218.4 273.9h.9M217.1 274.3h.9M221.5 276.3h.9M222.5 278.5h.9M227.2 271.7h.9M228.7 273.8h.9M224.3 277.7h.9M248.3 262.1h.9M247.4 265.6h.9M247.0 261.2h.9M258.7 265.9h.9M247.5 279.0h.9M251.6 264.7h.9M249.0 261.6h.9M262.1 266.5h.9M255.1 270.8h.9M263.2 271.8h.9M242.9 274.8h.9M248.3 274.3h.9M255.7 266.3h.9M253.3 270.5h.9M246.0 265.3h.9M247.0 271.3h.9M250.4 266.3h.9M246.8 274.4h.9M235.7 261.0h.9M253.6 270.0h.9M255.9 262.7h.9M252.2 270.6h.9M247.3 275.5h.9M259.5 264.2h.9M242.3 272.6h.9M249.4 279.5h.9M257.0 264.8h.9M236.6 265.6h.9M254.7 272.8h.9M248.1 276.4h.9M250.3 276.2h.9M261.1 274.0h.9M258.3 268.6h.9M256.0 270.1h.9M254.3 271.4h.9M247.2 266.1h.9M243.3 268.0h.9M250.8 269.7h.9M238.2 277.2h.9M236.1 277.6h.9M259.1 273.9h.9M255.3 267.7h.9M254.9 278.4h.9M240.9 268.3h.9M249.8 264.0h.9M254.3 264.3h.9M266.8 245.1h.9M262.7 250.2h.9M236.5 254.4h.9M268.4 250.2h.9M243.2 252.6h.9M255.5 253.2h.9" stroke="#000" stroke-width=".9" stroke-opacity="0.4" fill="none"/>
<path d="M226.6 272.0h.9M213.3 276.8h.9M218.3 273.2h.9M227.3 273.3h.9M214.4 271.9h.9M226.3 282.4h.9M214.3 268.3h.9M228.4 269.2h.9M216.4 277.1h.9M221.1 276.7h.9M216.6 275.6h.9M229.9 269.6h.9M237.7 274.4h.9M203.4 272.8h.9M225.5 264.5h.9M213.0 268.4h.9M205.6 269.2h.9M219.2 276.5h.9M213.2 270.4h.9M211.3 276.5h.9M224.8 264.7h.9M224.6 267.7h.9M246.2 276.9h.9M216.5 277.2h.9M225.5 269.6h.9M217.6 277.8h.9M229.3 270.2h.9M229.8 274.3h.9M211.1 275.6h.9M205.2 274.2h.9M216.1 273.5h.9M232.4 273.1h.9M225.8 278.1h.9M233.4 269.7h.9M236.5 271.3h.9M218.6 286.4h.9M224.5 269.6h.9M221.1 269.2h.9M216.8 281.3h.9M229.7 272.6h.9M218.4 263.1h.9M221.8 271.5h.9M224.4 274.7h.9M224.7 269.1h.9M217.2 272.2h.9M202.4 277.0h.9M210.6 277.8h.9M213.8 273.0h.9M207.6 266.6h.9M221.7 271.5h.9M216.6 278.6h.9M228.0 279.8h.9M219.8 276.9h.9M194.4 276.5h.9M232.1 268.7h.9M215.6 275.6h.9M235.1 265.4h.9M217.8 275.8h.9M215.9 277.2h.9M214.6 268.7h.9M221.0 282.7h.9M222.1 275.8h.9M242.1 277.8h.9M223.5 269.4h.9M226.9 271.3h.9M218.1 269.4h.9M223.8 269.9h.9M205.5 267.1h.9M233.5 277.7h.9M239.7 268.1h.9M217.4 272.8h.9M216.0 269.5h.9M233.9 265.9h.9M201.7 268.2h.9M212.5 270.5h.9M228.9 273.1h.9M212.9 262.5h.9M224.0 277.6h.9M233.5 274.4h.9M227.2 267.8h.9M208.8 269.1h.9M231.1 271.3h.9M219.2 271.7h.9M219.0 271.0h.9M227.2 268.0h.9M220.4 265.1h.9M204.6 266.7h.9M208.5 268.4h.9M222.9 265.7h.9M203.8 275.5h.9M230.0 270.5h.9M235.6 273.6h.9M233.8 280.9h.9M212.0 277.2h.9M236.2 270.4h.9M209.3 266.3h.9M230.3 275.1h.9M218.4 270.2h.9M207.7 263.6h.9M235.5 270.0h.9M208.4 271.5h.9M217.6 269.2h.9M227.4 268.5h.9M215.6 264.7h.9M227.6 283.1h.9M223.2 262.3h.9M246.8 269.2h.9M207.5 260.1h.9M218.6 288.5h.9M229.8 266.4h.9M230.7 276.3h.9M209.1 278.7h.9M224.6 276.6h.9M219.6 277.9h.9M204.6 266.9h.9M224.1 264.5h.9M224.6 275.1h.9M213.4 277.7h.9M214.8 270.1h.9M228.4 270.7h.9M236.3 275.1h.9M215.6 264.7h.9M221.5 271.9h.9M224.5 266.4h.9M215.1 271.8h.9M228.8 270.6h.9M219.2 261.5h.9M238.8 270.0h.9M209.9 269.8h.9M218.2 274.7h.9M244.8 269.5h.9M229.3 269.6h.9M222.0 270.6h.9M214.5 276.8h.9M217.7 276.0h.9M208.6 264.0h.9M214.6 275.9h.9M221.2 270.3h.9M222.2 277.9h.9M230.0 277.2h.9M225.6 265.0h.9M213.6 281.6h.9M236.6 275.1h.9M226.1 279.3h.9M221.1 273.5h.9M237.7 271.0h.9M212.1 270.1h.9M231.0 267.9h.9M226.9 276.1h.9M215.1 276.9h.9M228.5 268.4h.9M201.5 287.0h.9M226.6 265.8h.9M209.9 269.8h.9M221.1 270.4h.9M221.7 266.4h.9M210.3 274.1h.9M212.5 271.1h.9M232.4 273.2h.9M239.6 269.0h.9M228.4 276.0h.9M213.5 265.0h.9M222.2 272.6h.9M215.5 271.1h.9M225.3 268.5h.9M220.0 269.3h.9M229.2 261.2h.9M220.0 272.2h.9M230.4 267.9h.9M241.7 274.8h.9M207.5 266.6h.9M216.9 274.4h.9M221.8 263.2h.9M197.8 287.1h.9M227.0 268.2h.9M232.3 267.9h.9M224.1 276.2h.9M220.4 281.8h.9M222.3 281.4h.9M219.2 273.1h.9M206.1 267.1h.9M227.4 275.2h.9M222.6 275.4h.9M220.4 275.7h.9M234.0 275.0h.9M222.8 277.5h.9M223.3 272.2h.9M230.6 271.2h.9M203.2 267.5h.9M220.8 278.1h.9M204.9 273.3h.9M235.6 271.6h.9M223.8 280.5h.9M236.8 277.0h.9M213.5 272.3h.9M236.7 277.3h.9M225.8 270.2h.9M209.4 272.7h.9M201.2 275.7h.9M219.3 272.3h.9M220.3 267.2h.9M213.4 276.8h.9M223.4 268.7h.9M218.3 271.3h.9M212.6 261.9h.9M198.6 276.4h.9M223.7 269.2h.9M213.0 280.6h.9M222.6 264.8h.9M225.3 276.2h.9M219.8 276.3h.9M245.3 273.3h.9M220.4 269.6h.9M227.3 270.5h.9M230.1 274.3h.9M216.6 272.7h.9M221.4 276.1h.9M216.8 279.6h.9M231.1 275.4h.9M207.9 271.2h.9M216.3 279.5h.9M229.9 273.5h.9M218.1 272.5h.9M223.3 270.9h.9M213.6 274.5h.9M232.0 270.7h.9M212.6 261.8h.9M235.6 267.6h.9M216.4 273.6h.9M225.9 268.3h.9M224.2 276.7h.9M236.6 271.2h.9M222.8 259.7h.9M206.8 278.8h.9M228.7 261.7h.9M221.4 268.7h.9M216.7 274.3h.9M216.4 278.5h.9M230.8 281.8h.9M228.7 268.6h.9M206.0 278.2h.9M215.9 278.8h.9M219.3 269.1h.9M234.0 270.4h.9M230.5 269.0h.9M218.5 274.0h.9M231.0 277.2h.9M217.7 283.1h.9M203.1 272.9h.9M237.8 273.9h.9M238.1 270.3h.9M222.4 270.3h.9M220.9 270.3h.9M216.4 279.0h.9M236.7 277.2h.9M226.9 269.5h.9M231.0 267.3h.9M220.5 264.7h.9M218.4 285.2h.9M208.2 262.1h.9M211.2 262.3h.9M227.1 267.1h.9M223.7 273.2h.9M225.9 272.1h.9M225.4 283.6h.9M216.3 275.5h.9M242.5 275.5h.9M222.7 272.7h.9M215.4 275.1h.9M237.1 270.5h.9M225.8 274.4h.9M224.7 270.4h.9M193.7 273.2h.9M218.0 275.9h.9M212.9 276.1h.9M212.7 267.4h.9M217.5 268.9h.9M212.4 271.4h.9M204.6 270.5h.9M224.8 279.7h.9M237.5 276.6h.9M215.0 271.1h.9M238.1 272.1h.9M236.2 274.4h.9M235.9 279.5h.9M225.4 270.4h.9M219.4 275.3h.9M239.0 272.2h.9M210.7 264.7h.9M219.0 268.9h.9M219.5 273.4h.9M213.4 273.2h.9M208.7 273.5h.9M220.2 274.7h.9M228.2 262.6h.9M204.1 282.5h.9M216.0 262.4h.9M205.8 281.0h.9M211.9 272.3h.9M211.9 281.0h.9M211.2 271.7h.9M219.2 285.2h.9M223.1 271.6h.9M222.2 275.1h.9M220.7 275.7h.9M226.9 267.0h.9M208.5 273.5h.9M214.3 270.4h.9M222.5 278.8h.9M225.6 266.1h.9M239.1 263.3h.9M230.7 269.4h.9M223.0 273.0h.9M228.1 262.0h.9M233.3 271.8h.9M217.7 256.6h.9M236.4 268.9h.9M224.3 271.4h.9M220.3 272.3h.9M234.7 279.0h.9M245.8 273.2h.9M200.7 270.7h.9M213.4 266.2h.9M231.0 272.4h.9M215.2 266.7h.9M236.4 261.0h.9M223.4 273.9h.9M209.8 276.3h.9M224.5 269.7h.9M230.7 276.9h.9M241.2 269.4h.9M217.3 285.7h.9M211.8 272.3h.9M239.6 274.5h.9M213.7 269.2h.9M215.9 292.2h.9M216.5 283.0h.9M233.4 273.2h.9M212.4 276.5h.9M214.8 277.8h.9M208.4 270.2h.9M224.2 264.0h.9M227.2 274.3h.9M203.2 276.8h.9M225.0 273.9h.9M220.7 272.7h.9M212.2 268.3h.9M220.1 270.8h.9M229.8 278.0h.9M208.4 268.7h.9M226.4 270.0h.9M207.6 274.0h.9M235.0 278.9h.9M230.3 274.2h.9M214.9 281.8h.9M209.2 272.3h.9M232.4 267.8h.9M206.5 277.2h.9M227.6 265.4h.9M209.0 276.4h.9M219.6 267.6h.9M230.0 268.6h.9M222.2 266.1h.9M202.2 273.4h.9M228.2 273.7h.9M228.6 270.7h.9M219.3 272.0h.9M227.2 274.5h.9M242.3 276.1h.9M210.2 277.8h.9M232.5 264.0h.9M215.5 280.4h.9M231.0 270.0h.9M212.6 271.5h.9M224.7 270.5h.9M216.1 270.9h.9M222.2 278.2h.9M205.4 270.9h.9M229.3 264.7h.9M231.1 277.8h.9M225.9 263.3h.9M220.5 271.1h.9M219.5 271.4h.9M238.2 272.7h.9M238.3 279.4h.9M228.6 270.0h.9M215.1 282.6h.9M230.9 272.9h.9M229.9 276.8h.9M208.4 273.6h.9M207.2 271.9h.9M230.6 263.0h.9M214.8 274.0h.9M243.3 266.9h.9M207.6 273.8h.9M228.5 279.5h.9M201.3 268.9h.9M216.6 272.9h.9M232.4 273.7h.9M222.6 271.8h.9M217.4 274.2h.9M220.5 270.2h.9M216.9 270.2h.9M210.1 270.9h.9M221.6 273.6h.9M229.5 268.3h.9M211.5 269.4h.9M225.2 275.1h.9M227.8 268.2h.9M221.0 267.4h.9M217.5 268.3h.9M214.6 276.0h.9M213.4 264.9h.9M227.1 268.3h.9M229.9 262.9h.9M224.5 266.1h.9M223.8 268.4h.9M212.4 275.6h.9M219.9 275.9h.9M219.7 275.8h.9M216.0 273.8h.9M222.2 272.6h.9M221.1 270.0h.9M227.1 280.3h.9M220.8 272.8h.9M231.9 274.4h.9M220.5 274.3h.9M213.0 264.6h.9M221.8 271.4h.9M226.6 275.3h.9M210.5 270.6h.9M217.4 277.4h.9M211.7 271.1h.9M217.1 265.5h.9M227.7 272.2h.9M217.9 271.8h.9M227.0 270.9h.9M224.5 267.5h.9M214.8 272.6h.9M222.2 269.4h.9M222.7 274.1h.9M218.5 271.8h.9M215.0 265.3h.9M213.6 269.5h.9M223.3 266.3h.9M211.9 270.2h.9M220.6 272.0h.9M215.9 270.2h.9M229.9 271.9h.9M226.0 281.7h.9M229.0 268.4h.9M212.4 272.4h.9M225.7 268.2h.9M220.6 273.1h.9M228.0 271.7h.9M205.4 276.2h.9M230.5 272.6h.9M227.8 264.9h.9M218.6 267.1h.9M212.6 274.9h.9M217.7 274.5h.9M223.1 269.8h.9M214.0 271.9h.9M228.2 269.8h.9M223.2 275.2h.9M227.8 274.0h.9M222.4 277.1h.9M214.0 269.9h.9M219.0 266.3h.9M226.2 274.7h.9M219.4 275.0h.9M226.0 269.2h.9M225.0 274.9h.9M222.6 271.7h.9M222.8 267.5h.9M217.0 263.8h.9M212.4 271.8h.9M216.9 273.3h.9M223.5 278.5h.9M226.1 273.8h.9M219.7 267.6h.9M215.7 279.8h.9M226.9 276.3h.9M217.2 261.7h.9M226.6 272.7h.9M223.5 267.6h.9M221.3 264.8h.9M227.4 268.8h.9M207.6 268.3h.9M221.6 275.3h.9M219.7 270.6h.9M225.6 271.1h.9M228.1 264.2h.9M221.6 270.8h.9M222.1 270.2h.9M218.4 272.3h.9M223.9 274.2h.9M233.4 271.1h.9M213.0 273.0h.9M219.4 268.7h.9M250.7 268.2h.9M248.9 268.8h.9M241.3 265.4h.9M247.1 269.6h.9M240.0 257.5h.9M250.6 272.2h.9M247.9 271.4h.9M261.2 276.6h.9M247.8 268.6h.9M248.5 270.9h.9M252.6 266.8h.9M259.1 276.6h.9M237.5 261.5h.9M249.1 266.7h.9M246.5 262.0h.9M245.0 268.3h.9M239.4 272.4h.9M246.4 269.5h.9M243.6 271.1h.9M255.9 270.1h.9M249.6 271.3h.9M241.9 268.2h.9M253.9 264.9h.9M252.1 269.0h.9M262.6 273.9h.9M257.1 264.4h.9M252.1 271.4h.9M254.9 263.1h.9M250.2 263.0h.9M247.8 271.4h.9M265.2 270.7h.9M253.8 267.3h.9M265.4 269.9h.9M255.6 271.4h.9M254.6 269.4h.9M242.7 273.9h.9M247.3 270.7h.9M255.4 266.5h.9M250.7 263.4h.9M249.9 266.5h.9M245.7 274.8h.9M245.3 266.2h.9M248.8 264.6h.9M245.1 275.3h.9M240.7 261.6h.9M246.9 275.3h.9M246.9 255.5h.9M228.0 265.6h.9M255.5 251.4h.9M247.4 242.5h.9M255.5 254.0h.9M255.5 243.9h.9" stroke="#000" stroke-width=".9" stroke-opacity="0.4" fill="none"/>
<path d="M209.4 271.5h.9M225.2 284.1h.9M209.5 262.7h.9M223.6 277.0h.9M220.1 273.0h.9M218.0 276.1h.9M215.1 271.4h.9M226.1 275.0h.9M230.0 267.3h.9M219.5 265.2h.9M221.0 270.4h.9M233.9 273.3h.9M211.6 272.2h.9M237.6 269.0h.9M234.2 268.9h.9M214.2 273.1h.9M210.8 265.7h.9M225.2 277.3h.9M211.7 270.4h.9M224.0 266.4h.9M214.6 265.7h.9M233.7 272.3h.9M200.2 279.8h.9M221.9 274.6h.9M229.3 276.4h.9M217.4 268.2h.9M231.6 268.8h.9M236.7 271.3h.9M224.6 267.0h.9M243.6 265.3h.9M220.6 274.7h.9M233.5 281.2h.9M236.0 267.0h.9M240.2 270.3h.9M231.7 283.7h.9M192.3 274.0h.9M211.5 273.9h.9M222.7 268.5h.9M209.6 270.4h.9M229.9 270.2h.9M220.4 266.3h.9M234.6 258.4h.9M235.6 272.6h.9M214.8 274.1h.9M211.4 263.0h.9M239.5 279.3h.9M220.9 265.6h.9M211.6 270.6h.9M220.6 279.4h.9M213.5 262.2h.9M222.6 263.0h.9M216.9 272.0h.9M228.6 269.1h.9M222.0 281.9h.9M233.9 268.2h.9M234.9 279.4h.9M217.8 273.9h.9M205.7 273.1h.9M223.2 265.3h.9M208.4 271.4h.9M221.1 274.0h.9M219.7 270.6h.9M233.4 264.9h.9M230.8 279.0h.9M226.2 275.4h.9M208.9 275.8h.9M208.4 272.3h.9M235.0 271.2h.9M199.8 278.6h.9M214.2 279.5h.9M223.8 272.8h.9M217.1 262.0h.9M222.3 275.5h.9M223.4 273.6h.9M215.7 270.4h.9M225.1 267.5h.9M233.9 269.2h.9M222.8 280.6h.9M220.2 273.0h.9M213.3 274.8h.9M239.5 272.6h.9M210.7 264.9h.9M237.5 282.7h.9M229.9 267.8h.9M229.2 270.3h.9M216.5 269.3h.9M232.9 274.1h.9M213.5 273.9h.9M224.7 273.8h.9M225.5 269.6h.9M218.7 278.9h.9M226.1 282.4h.9M227.7 269.6h.9M228.8 282.7h.9M221.6 275.8h.9M234.0 270.6h.9M239.5 271.0h.9M204.5 267.8h.9M201.1 273.8h.9M203.1 276.4h.9M214.4 275.2h.9M199.2 267.9h.9M225.0 267.8h.9M221.4 273.0h.9M231.2 281.0h.9M225.5 277.0h.9M210.2 279.5h.9M234.4 273.3h.9M228.9 277.6h.9M216.8 276.9h.9M228.5 279.8h.9M247.3 280.4h.9M201.5 273.3h.9M219.0 274.7h.9M216.3 277.2h.9M199.3 270.4h.9M210.3 270.9h.9M225.2 276.1h.9M217.9 269.1h.9M235.2 270.0h.9M221.3 267.4h.9M214.9 271.8h.9M231.3 279.0h.9M226.2 278.6h.9M243.7 275.0h.9M219.8 277.8h.9M207.4 271.9h.9M225.0 272.3h.9M221.2 273.9h.9M218.8 272.7h.9M230.0 270.3h.9M249.0 270.6h.9M226.9 271.6h.9M214.4 260.6h.9M222.7 275.9h.9M238.2 271.6h.9M202.2 273.1h.9M208.0 270.0h.9M228.6 279.7h.9M210.2 275.8h.9M234.2 274.1h.9M222.0 278.6h.9M219.1 262.5h.9M226.0 272.6h.9M228.4 267.2h.9M245.2 271.7h.9M220.3 276.0h.9M218.6 267.9h.9M219.3 274.4h.9M218.5 274.2h.9M237.2 275.6h.9M225.9 279.1h.9M223.4 271.6h.9M206.3 280.5h.9M230.5 277.3h.9M209.1 270.3h.9M232.4 277.1h.9M208.3 273.7h.9M194.6 279.4h.9M217.0 268.7h.9M209.6 263.0h.9M228.1 261.8h.9M209.6 277.7h.9M210.2 277.2h.9M214.6 269.1h.9M209.4 271.4h.9M236.5 270.0h.9M212.4 266.2h.9M205.0 275.0h.9M216.7 279.5h.9M214.0 276.6h.9M204.9 261.0h.9M199.1 261.3h.9M220.1 273.2h.9M215.7 268.5h.9M214.1 272.6h.9M218.3 275.4h.9M225.0 271.9h.9M225.5 281.1h.9M233.2 278.4h.9M215.9 272.1h.9M229.5 273.0h.9M209.7 278.0h.9M223.8 271.2h.9M232.7 280.6h.9M217.5 266.7h.9M227.8 267.3h.9M215.3 272.0h.9M213.4 269.9h.9M219.5 270.5h.9M227.0 288.6h.9M235.2 274.4h.9M220.1 277.6h.9M233.3 276.0h.9M218.1 269.2h.9M230.9 266.4h.9M217.3 282.7h.9M217.9 268.3h.9M233.4 270.2h.9M222.9 266.2h.9M218.5 263.1h.9M219.6 283.1h.9M240.1 269.6h.9M225.5 271.5h.9M208.9 272.6h.9M214.0 268.4h.9M225.7 270.1h.9M226.6 277.3h.9M226.7 279.1h.9M234.5 280.1h.9M231.1 273.0h.9M227.6 266.7h.9M218.9 266.9h.9M214.0 275.7h.9M230.1 274.5h.9M229.1 273.9h.9M217.2 271.7h.9M226.8 264.7h.9M214.4 265.8h.9M210.2 272.0h.9M220.5 279.6h.9M205.4 273.8h.9M211.0 276.9h.9M215.6 274.4h.9M221.5 276.8h.9M205.4 272.2h.9M221.2 266.1h.9M224.4 283.2h.9M250.4 272.7h.9M218.1 273.0h.9M215.6 279.0h.9M203.9 272.0h.9M219.0 276.8h.9M219.0 272.0h.9M203.9 271.5h.9M215.9 273.9h.9M227.6 271.1h.9M217.1 271.0h.9M215.8 261.8h.9M200.2 260.1h.9M220.8 279.7h.9M222.9 275.8h.9M212.8 259.4h.9M200.9 280.6h.9M224.6 275.0h.9M227.2 267.6h.9M225.0 270.3h.9M232.4 269.8h.9M222.1 266.5h.9M226.1 288.7h.9M224.4 282.7h.9M239.2 273.3h.9M224.9 277.5h.9M225.0 282.9h.9M236.6 278.4h.9M239.5 271.8h.9M220.2 274.6h.9M218.5 272.2h.9M230.1 272.3h.9M230.6 276.5h.9M210.5 281.1h.9M213.4 268.6h.9M204.1 274.8h.9M220.7 268.8h.9M213.8 273.9h.9M218.4 268.0h.9M225.6 282.1h.9M206.4 279.1h.9M218.3 277.0h.9M207.1 263.5h.9M232.8 278.3h.9M225.7 268.1h.9M218.6 280.3h.9M205.0 280.8h.9M224.6 280.2h.9M226.2 283.0h.9M234.3 275.9h.9M240.0 265.4h.9M210.6 267.7h.9M224.5 277.3h.9M236.7 271.4h.9M214.1 266.9h.9M223.3 269.7h.9M224.7 273.4h.9M227.4 275.9h.9M228.4 268.1h.9M217.7 274.2h.9M222.1 268.2h.9M217.5 276.4h.9M227.1 275.2h.9M210.1 272.2h.9M221.8 275.6h.9M212.2 266.9h.9M232.8 267.9h.9M219.3 268.5h.9M212.5 271.8h.9M216.1 281.4h.9M223.0 259.4h.9M214.6 268.3h.9M214.6 275.8h.9M216.6 265.1h.9M219.3 267.7h.9M207.6 259.1h.9M226.9 256.3h.9M206.0 262.4h.9M220.0 269.6h.9M219.7 273.3h.9M209.8 273.5h.9M220.3 280.7h.9M227.4 265.3h.9M238.2 281.8h.9M227.9 269.7h.9M232.1 268.7h.9M229.8 269.7h.9M221.0 275.6h.9M238.5 276.3h.9M209.0 279.4h.9M216.1 274.9h.9M227.0 275.5h.9M218.3 274.5h.9M207.6 274.0h.9M215.0 268.4h.9M214.7 271.8h.9M221.4 278.4h.9M237.6 270.4h.9M214.3 274.4h.9M200.8 278.3h.9M217.1 273.6h.9M212.0 268.9h.9M241.2 274.5h.9M234.0 269.8h.9M232.8 271.7h.9M225.4 271.3h.9M209.7 270.5h.9M235.6 272.4h.9M216.1 275.6h.9M222.9 274.3h.9M219.8 275.0h.9M210.2 278.6h.9M200.0 273.5h.9M226.6 278.4h.9M211.0 274.7h.9M225.3 265.8h.9M221.8 269.9h.9M230.2 265.4h.9M231.8 266.8h.9M228.1 272.9h.9M204.4 269.4h.9M222.8 269.1h.9M218.8 276.4h.9M232.9 274.6h.9M222.0 270.4h.9M201.7 283.2h.9M230.7 268.2h.9M201.5 264.5h.9M219.7 262.4h.9M219.6 276.8h.9M211.0 276.7h.9M224.6 271.4h.9M198.4 270.8h.9M225.3 275.6h.9M230.2 271.9h.9M246.7 272.7h.9M228.1 273.9h.9M210.5 277.6h.9M211.7 270.2h.9M216.4 281.3h.9M221.5 285.9h.9M216.4 271.8h.9M210.1 268.8h.9M238.6 265.4h.9M225.6 273.1h.9M212.9 271.5h.9M229.0 274.7h.9M228.7 277.1h.9M242.7 267.6h.9M230.8 269.5h.9M201.8 273.7h.9M217.9 276.9h.9M206.1 282.6h.9M226.8 270.6h.9M235.1 277.4h.9M229.3 278.6h.9M218.6 273.8h.9M226.9 271.7h.9M234.2 272.4h.9M229.7 264.6h.9M217.4 272.6h.9M222.3 280.9h.9M213.9 276.3h.9M212.9 278.1h.9M225.1 276.6h.9M236.5 269.5h.9M234.2 270.9h.9M222.9 277.1h.9M226.3 275.2h.9M214.6 269.7h.9M208.5 271.8h.9M228.7 273.9h.9M219.2 269.1h.9M226.1 272.4h.9M216.1 271.2h.9M223.8 274.6h.9M222.5 265.6h.9M222.0 263.7h.9M214.8 275.3h.9M225.7 265.6h.9M222.0 275.4h.9M231.5 272.5h.9M222.4 267.9h.9M222.9 269.5h.9M227.6 274.2h.9M219.7 272.3h.9M225.1 271.1h.9M222.2 275.1h.9M228.1 273.1h.9M227.3 272.2h.9M217.3 274.7h.9M230.9 273.2h.9M221.1 267.1h.9M219.8 277.7h.9M226.1 274.9h.9M229.7 278.3h.9M225.1 273.3h.9M215.1 273.5h.9M235.9 272.2h.9M219.0 270.6h.9M230.3 268.4h.9M217.7 276.6h.9M223.8 278.1h.9M217.0 275.4h.9M225.4 269.8h.9M228.3 278.0h.9M223.3 267.3h.9M226.7 267.9h.9M221.9 269.9h.9M215.6 271.0h.9M224.6 275.1h.9M226.7 273.2h.9M220.3 270.0h.9M222.3 271.9h.9M226.9 270.0h.9M217.4 273.6h.9M219.5 264.5h.9M216.9 268.7h.9M218.2 275.8h.9M207.8 265.6h.9M219.0 273.6h.9M223.0 269.3h.9M220.5 264.1h.9M222.2 277.4h.9M229.4 265.9h.9M219.0 276.6h.9M226.4 276.3h.9M217.5 271.4h.9M233.8 278.4h.9M223.8 276.4h.9M215.4 271.2h.9M210.5 272.6h.9M215.5 273.3h.9M220.8 269.8h.9M215.8 271.5h.9M216.7 275.9h.9M226.3 267.3h.9M227.5 274.5h.9M218.4 274.3h.9M225.4 271.7h.9M211.4 271.5h.9M225.0 275.7h.9M219.9 268.1h.9M225.7 270.2h.9M216.8 269.7h.9M234.0 278.3h.9M225.7 275.3h.9M216.1 270.8h.9M215.3 266.3h.9M215.2 275.4h.9M223.8 270.1h.9M217.1 270.5h.9M229.5 272.9h.9M219.8 271.7h.9M221.2 271.5h.9M213.7 271.1h.9M218.1 273.8h.9M225.5 265.3h.9M221.2 271.1h.9M222.0 274.1h.9M228.3 282.0h.9M216.0 269.8h.9M220.6 269.7h.9M227.5 277.0h.9M213.1 272.5h.9M233.4 272.9h.9M221.4 267.3h.9M214.9 273.9h.9M218.7 267.8h.9M218.5 272.9h.9M223.4 273.4h.9M223.1 272.3h.9M258.3 286.0h.9M256.2 269.8h.9M248.8 263.7h.9M246.4 262.2h.9M253.0 270.4h.9M256.4 262.8h.9M250.9 267.6h.9M253.1 277.9h.9M250.7 278.5h.9M255.6 272.1h.9M236.7 276.6h.9M258.7 266.9h.9M245.3 273.5h.9M257.6 268.4h.9M247.5 269.9h.9M242.4 276.3h.9M249.5 274.3h.9M246.6 264.6h.9M245.9 270.9h.9M255.2 271.4h.9M247.1 269.0h.9M252.7 274.1h.9M259.9 268.1h.9M251.2 267.5h.9M240.9 271.7h.9M249.6 266.4h.9M260.9 266.7h.9M254.8 263.1h.9M255.1 272.4h.9M247.2 275.5h.9M254.4 271.9h.9M249.0 270.5h.9M244.0 261.7h.9M254.5 267.2h.9M244.6 274.2h.9M253.5 268.3h.9M234.0 270.2h.9M247.8 269.7h.9M244.3 266.5h.9M248.5 275.6h.9M258.8 268.1h.9M240.7 269.2h.9M243.5 269.5h.9M246.9 277.4h.9M251.9 263.4h.9M243.6 272.1h.9M245.5 273.7h.9M213.5 253.3h.9M257.3 254.9h.9M248.1 262.4h.9M256.0 252.9h.9M235.9 254.1h.9M261.3 252.9h.9" stroke="#000" stroke-width=".9" stroke-opacity="0.4" fill="none"/>
<path d="M234.0 271.2h.9M228.2 281.5h.9M213.8 281.7h.9M228.7 275.5h.9M223.2 277.6h.9M198.9 267.8h.9M221.0 270.2h.9M228.2 269.7h.9M235.8 278.3h.9M210.0 265.9h.9M209.2 269.4h.9M210.7 267.9h.9M211.7 257.6h.9M221.3 273.1h.9M211.2 276.0h.9M209.5 273.7h.9M215.0 266.2h.9M230.5 268.3h.9M227.6 263.7h.9M216.6 278.1h.9M223.7 272.9h.9M215.6 274.5h.9M209.7 267.2h.9M223.5 277.4h.9M218.7 276.2h.9M206.1 278.8h.9M223.9 269.1h.9M211.4 260.9h.9M224.2 266.4h.9M228.1 274.3h.9M225.1 272.9h.9M234.8 278.2h.9M241.3 278.3h.9M230.9 261.5h.9M224.9 275.4h.9M224.0 263.4h.9M226.1 264.4h.9M212.3 281.2h.9M220.8 269.9h.9M226.6 267.5h.9M216.3 269.4h.9M213.8 275.2h.9M220.4 272.4h.9M234.0 272.7h.9M216.7 263.3h.9M220.5 272.2h.9M237.7 260.8h.9M212.2 271.0h.9M216.9 270.2h.9M220.7 269.5h.9M236.9 271.4h.9M220.8 267.1h.9M221.1 270.9h.9M229.8 271.9h.9M214.4 260.8h.9M218.7 257.2h.9M212.3 272.0h.9M233.8 270.4h.9M222.6 274.6h.9M222.9 279.8h.9M205.4 263.0h.9M222.2 265.3h.9M219.9 259.5h.9M217.9 276.1h.9M215.3 275.3h.9M213.7 282.6h.9M217.1 265.5h.9M225.3 269.2h.9M222.7 266.7h.9M224.4 269.6h.9M219.2 271.4h.9M206.9 272.5h.9M209.4 268.3h.9M236.6 267.0h.9M224.1 268.5h.9M217.4 273.3h.9M232.0 272.9h.9M221.6 273.5h.9M210.6 273.6h.9M211.1 266.3h.9M228.5 275.5h.9M226.7 260.2h.9M231.8 265.7h.9M214.2 281.9h.9M234.5 271.3h.9M216.5 269.9h.9M209.7 276.2h.9M239.2 275.6h.9M214.0 269.5h.9M223.0 280.1h.9M235.3 272.2h.9M234.3 264.3h.9M214.4 272.6h.9M230.1 272.9h.9M197.1 275.4h.9M224.3 267.6h.9M210.3 277.5h.9M221.2 270.4h.9M242.0 275.7h.9M216.8 273.7h.9M220.2 277.6h.9M243.9 273.7h.9M214.3 270.3h.9M224.0 269.2h.9M204.1 266.9h.9M227.6 271.4h.9M218.5 261.7h.9M208.9 265.0h.9M213.5 270.2h.9M218.0 262.4h.9M213.8 272.2h.9M227.3 266.7h.9M226.6 273.6h.9M238.1 274.8h.9M207.2 269.7h.9M205.0 265.7h.9M203.7 282.0h.9M207.6 271.8h.9M226.0 271.2h.9M239.7 276.0h.9M225.1 278.8h.9M230.4 275.5h.9M230.2 263.0h.9M215.8 267.6h.9M234.0 277.2h.9M224.7 280.0h.9M213.0 276.0h.9M222.8 269.5h.9M206.0 272.5h.9M221.6 262.2h.9M229.0 273.2h.9M207.3 271.0h.9M221.3 275.8h.9M233.9 275.5h.9M220.7 267.3h.9M214.2 266.5h.9M211.4 267.7h.9M219.5 285.6h.9M226.1 267.2h.9M209.9 264.4h.9M227.5 268.3h.9M221.2 265.1h.9M224.9 270.3h.9M212.9 273.2h.9M229.2 269.4h.9M214.8 281.9h.9M208.9 273.6h.9M208.4 269.1h.9M219.1 276.3h.9M236.6 269.5h.9M211.1 267.0h.9M204.7 267.6h.9M214.9 263.6h.9M209.1 273.7h.9M221.5 275.8h.9M238.7 268.9h.9M222.2 267.2h.9M224.0 274.7h.9M225.7 267.3h.9M225.8 275.4h.9M216.4 272.9h.9M221.2 282.2h.9M223.5 279.6h.9M233.7 276.0h.9M212.5 266.1h.9M230.3 273.0h.9M222.7 261.7h.9M225.5 273.8h.9M228.4 273.1h.9M209.6 264.4h.9M200.0 264.3h.9M226.2 275.6h.9M211.5 274.8h.9M219.4 282.1h.9M224.7 281.7h.9M235.0 279.1h.9M214.4 273.9h.9M239.0 279.7h.9M229.3 269.2h.9M231.8 265.5h.9M218.6 285.4h.9M203.1 278.2h.9M214.0 270.6h.9M229.5 274.3h.9M213.1 268.0h.9M215.5 272.1h.9M212.7 267.8h.9M213.8 266.4h.9M234.6 275.1h.9M206.6 262.6h.9M208.9 270.8h.9M218.4 276.6h.9M230.2 272.4h.9M209.2 271.7h.9M229.1 280.5h.9M213.7 279.8h.9M211.6 272.1h.9M214.7 273.6h.9M222.8 275.4h.9M225.5 276.3h.9M228.1 278.2h.9M234.3 271.9h.9M229.4 279.3h.9M199.2 268.4h.9M224.3 272.5h.9M213.4 275.0h.9M238.3 266.2h.9M230.0 268.6h.9M210.2 270.1h.9M218.7 268.6h.9M220.9 277.5h.9M219.0 273.4h.9M229.2 273.4h.9M210.1 274.0h.9M229.4 261.3h.9M226.6 279.6h.9M211.5 268.5h.9M217.9 271.8h.9M227.9 271.7h.9M208.1 269.7h.9M204.2 263.9h.9M215.8 269.2h.9M223.7 278.7h.9M227.3 271.3h.9M227.4 275.3h.9M207.5 280.5h.9M216.4 278.3h.9M216.0 272.1h.9M223.6 262.7h.9M214.6 263.8h.9M238.3 268.6h.9M223.9 272.5h.9M250.2 278.7h.9M226.8 267.1h.9M237.1 278.4h.9M225.8 271.1h.9M220.0 271.4h.9M227.9 276.6h.9M211.6 279.9h.9M214.6 263.9h.9M219.0 273.6h.9M222.5 274.2h.9M215.4 278.2h.9M217.3 274.0h.9M208.6 266.4h.9M222.8 279.2h.9M238.6 277.6h.9M207.6 269.9h.9M218.2 271.4h.9M205.8 271.2h.9M218.0 279.0h.9M228.8 270.6h.9M232.0 278.4h.9M219.6 264.5h.9M213.1 263.8h.9M222.8 274.5h.9M223.2 275.7h.9M217.3 276.5h.9M212.8 270.8h.9M218.5 272.3h.9M228.0 278.8h.9M203.8 277.2h.9M225.9 271.7h.9M222.5 272.2h.9M228.4 272.1h.9M211.1 272.7h.9M224.7 260.3h.9M220.5 268.9h.9M230.4 273.4h.9M215.9 271.6h.9M218.5 273.3h.9M227.5 280.2h.9M213.1 281.7h.9M225.9 274.2h.9M223.1 279.5h.9M232.0 279.8h.9M220.2 275.4h.9M237.9 263.9h.9M222.5 281.5h.9M209.2 272.7h.9M223.2 276.1h.9M240.7 271.8h.9M217.6 269.6h.9M219.7 267.5h.9M223.2 272.1h.9M212.6 271.4h.9M227.1 273.8h.9M234.0 276.3h.9M225.8 266.8h.9M213.0 267.1h.9M211.8 261.9h.9M254.2 278.1h.9M217.9 261.4h.9M230.1 275.1h.9M241.0 270.6h.9M224.9 280.1h.9M218.3 273.7h.9M224.2 279.5h.9M228.2 261.8h.9M207.2 268.5h.9M237.7 264.7h.9M217.7 264.9h.9M225.8 269.0h.9M216.8 263.1h.9M225.9 259.9h.9M211.2 265.1h.9M212.1 269.9h.9M205.6 277.9h.9M224.7 269.3h.9M217.3 274.5h.9M205.3 281.1h.9M221.0 274.9h.9M214.6 275.6h.9M217.4 269.9h.9M221.0 271.6h.9M213.4 277.4h.9M217.9 270.7h.9M210.8 270.6h.9M192.6 274.8h.9M227.5 277.1h.9M218.5 272.0h.9M207.7 272.1h.9M225.8 264.3h.9M209.9 262.6h.9M217.7 271.6h.9M229.9 276.8h.9M218.7 273.3h.9M240.7 269.8h.9M224.1 276.6h.9M229.6 279.4h.9M226.7 266.9h.9M224.1 272.8h.9M224.0 276.3h.9M207.7 270.7h.9M224.0 279.0h.9M211.6 272.3h.9M223.2 270.8h.9M221.7 264.4h.9M231.5 282.5h.9M235.2 273.1h.9M220.9 273.3h.9M227.9 261.0h.9M229.9 272.8h.9M231.3 279.2h.9M217.9 275.7h.9M216.0 277.5h.9M253.9 278.7h.9M211.3 277.8h.9M233.9 268.8h.9M219.5 268.0h.9M232.1 267.8h.9M221.0 273.5h.9M214.5 280.5h.9M226.5 262.8h.9M222.6 267.4h.9M194.7 283.8h.9M209.4 279.8h.9M233.5 267.9h.9M218.9 268.7h.9M222.0 270.1h.9M239.4 277.3h.9M210.3 266.9h.9M214.5 275.5h.9M231.0 264.1h.9M221.3 277.7h.9M246.3 284.7h.9M212.6 271.3h.9M229.4 268.8h.9M235.5 262.2h.9M214.7 264.1h.9M210.8 266.6h.9M223.8 271.8h.9M203.5 270.3h.9M218.4 283.5h.9M222.3 275.2h.9M237.7 273.7h.9M216.3 267.4h.9M216.7 273.2h.9M222.9 271.1h.9M236.3 278.5h.9M206.1 270.0h.9M219.7 270.1h.9M226.2 262.0h.9M223.0 272.2h.9M219.2 272.3h.9M223.4 268.9h.9M242.9 277.5h.9M221.4 268.0h.9M237.7 263.6h.9M226.6 274.6h.9M239.7 266.7h.9M225.9 278.8h.9M232.7 267.7h.9M234.4 269.2h.9M210.3 263.7h.9M223.0 273.0h.9M223.1 278.8h.9M221.2 278.0h.9M209.7 271.6h.9M206.2 271.4h.9M213.4 272.1h.9M217.6 272.4h.9M218.7 272.2h.9M231.4 274.7h.9M224.1 274.7h.9M225.4 279.9h.9M216.9 273.0h.9M224.8 273.4h.9M221.9 273.8h.9M213.3 269.8h.9M215.4 269.9h.9M225.1 274.1h.9M227.0 271.9h.9M217.8 269.4h.9M220.6 270.1h.9M216.8 271.7h.9M231.6 269.9h.9M223.3 269.3h.9M224.7 273.3h.9M227.6 272.9h.9M223.9 277.5h.9M223.0 268.2h.9M219.5 278.0h.9M212.6 269.3h.9M222.9 271.2h.9M222.3 271.2h.9M225.6 274.7h.9M219.5 268.6h.9M224.0 271.2h.9M216.7 270.7h.9M221.2 269.6h.9M221.0 267.2h.9M234.0 272.0h.9M226.8 275.5h.9M216.2 269.9h.9M213.0 273.0h.9M223.5 268.6h.9M227.6 271.1h.9M228.9 273.1h.9M211.6 276.6h.9M221.0 271.3h.9M217.7 279.0h.9M229.5 265.7h.9M223.1 274.4h.9M219.0 272.6h.9M216.4 269.8h.9M217.6 269.9h.9M222.4 271.5h.9M217.3 281.5h.9M218.3 270.7h.9M220.6 274.2h.9M219.5 272.4h.9M220.4 274.5h.9M221.9 268.7h.9M222.4 270.7h.9M226.3 273.5h.9M211.0 268.6h.9M217.4 269.0h.9M226.3 271.3h.9M214.6 268.3h.9M213.1 270.5h.9M212.7 268.4h.9M220.2 269.8h.9M220.5 271.0h.9M222.8 270.8h.9M210.1 276.4h.9M204.5 275.9h.9M241.2 273.5h.9M215.3 268.8h.9M229.5 269.7h.9M203.6 274.4h.9M223.4 272.5h.9M218.0 275.8h.9M229.1 271.4h.9M227.2 272.9h.9M214.3 277.5h.9M229.3 270.6h.9M217.3 267.1h.9M220.9 270.3h.9M223.0 273.3h.9M214.8 272.5h.9M212.8 276.1h.9M230.9 273.8h.9M227.3 271.3h.9M213.6 272.4h.9M226.7 278.4h.9M227.4 280.2h.9M222.7 273.9h.9M214.6 271.7h.9M223.7 268.2h.9M215.9 276.8h.9M222.7 271.6h.9M217.1 276.3h.9M226.0 270.6h.9M220.1 276.9h.9M210.9 270.5h.9M220.3 275.7h.9M218.2 270.3h.9M216.7 274.5h.9M248.2 279.2h.9M245.5 263.4h.9M247.3 274.5h.9M251.5 274.7h.9M248.4 265.2h.9M240.3 273.2h.9M251.6 276.1h.9M254.1 278.2h.9M243.0 271.9h.9M242.9 269.2h.9M258.4 274.3h.9M249.0 274.0h.9M250.5 275.9h.9M242.7 255.3h.9M254.7 265.9h.9M242.5 273.4h.9M245.1 268.6h.9M244.4 267.5h.9M241.9 261.0h.9M257.8 266.7h.9M251.9 279.1h.9M248.7 265.9h.9M264.6 256.9h.9M248.9 281.2h.9M249.0 277.0h.9M249.9 270.3h.9M246.0 270.1h.9M248.2 266.1h.9M244.3 265.4h.9M252.8 275.0h.9M241.8 274.9h.9M256.8 268.6h.9M247.9 274.5h.9M244.9 276.1h.9M257.7 271.1h.9M246.7 275.7h.9M250.3 269.0h.9M256.2 279.2h.9M253.3 271.8h.9M251.4 275.1h.9M251.3 272.9h.9M243.0 271.9h.9M255.7 264.6h.9M249.2 274.5h.9M252.5 266.6h.9M256.5 271.5h.9M236.6 271.0h.9M234.5 247.2h.9M245.2 255.2h.9M259.4 246.1h.9M250.9 252.0h.9M237.0 260.3h.9M254.4 241.9h.9" stroke="#000" stroke-width=".9" stroke-opacity="0.4" fill="none"/>
<path d="M215.6 277.0h.9M233.7 281.0h.9M240.8 265.0h.9M212.5 267.5h.9M202.9 258.1h.9M228.9 278.0h.9M230.5 261.5h.9M224.4 273.5h.9M240.6 272.9h.9M242.6 274.5h.9M217.8 268.4h.9M234.7 271.2h.9M213.8 273.6h.9M225.4 267.7h.9M228.1 274.8h.9M214.5 272.1h.9M204.8 267.5h.9M229.1 268.4h.9M226.7 279.4h.9M212.2 273.9h.9M220.6 271.7h.9M221.0 277.2h.9M217.6 275.4h.9M221.9 273.3h.9M216.7 264.9h.9M240.6 275.6h.9M226.3 277.3h.9M226.3 268.9h.9M223.9 269.9h.9M220.5 278.7h.9M213.4 271.7h.9M228.8 277.5h.9M218.1 264.9h.9M224.1 272.1h.9M210.4 274.2h.9M237.6 273.9h.9M213.4 275.5h.9M229.2 280.5h.9M210.9 267.4h.9M218.8 277.4h.9M216.4 269.5h.9M211.6 270.5h.9M227.4 272.5h.9M217.6 266.4h.9M203.5 263.9h.9M230.8 281.1h.9M208.5 265.4h.9M206.6 273.9h.9M233.0 267.5h.9M215.6 272.4h.9M211.6 269.3h.9M233.1 286.0h.9M253.8 277.7h.9M205.5 271.2h.9M225.2 256.5h.9M218.1 271.3h.9M212.8 275.4h.9M232.5 276.3h.9M215.5 274.0h.9M213.9 268.7h.9M216.0 270.5h.9M225.7 272.5h.9M236.3 270.3h.9M223.1 262.8h.9M239.5 286.3h.9M205.5 275.1h.9M214.8 276.1h.9M205.0 273.5h.9M212.4 270.2h.9M229.9 278.1h.9M197.6 275.3h.9M208.7 256.4h.9M235.2 279.6h.9M217.4 284.5h.9M213.9 267.9h.9M218.3 267.9h.9M217.9 270.0h.9M230.2 273.8h.9M227.4 275.7h.9M218.7 278.1h.9M222.9 264.0h.9M208.9 269.5h.9M207.0 275.3h.9M201.7 271.3h.9M223.9 268.0h.9M231.2 264.7h.9M217.8 273.0h.9M232.7 271.8h.9M236.6 263.2h.9M235.7 275.0h.9M243.5 272.7h.9M227.7 271.8h.9M221.7 277.1h.9M209.2 265.8h.9M232.3 277.2h.9M225.7 273.9h.9M220.7 277.7h.9M213.8 265.1h.9M220.1 275.6h.9M224.4 276.4h.9M226.0 262.0h.9M217.1 270.4h.9M204.0 272.5h.9M235.0 267.2h.9M227.8 269.8h.9M233.5 264.5h.9M217.7 269.5h.9M248.9 269.7h.9M222.8 262.7h.9M207.6 264.9h.9M226.1 274.8h.9M228.8 284.0h.9M225.6 267.0h.9M218.9 271.6h.9M222.8 275.7h.9M231.9 275.0h.9M237.5 273.4h.9M207.0 272.2h.9M215.8 274.6h.9M200.5 269.0h.9M211.5 270.1h.9M232.3 276.6h.9M233.3 277.0h.9M226.1 274.0h.9M224.2 269.1h.9M204.9 270.7h.9M229.7 278.2h.9M215.2 269.8h.9M231.7 267.1h.9M200.8 266.3h.9M210.5 275.1h.9M210.1 273.0h.9M222.5 271.8h.9M217.8 275.9h.9M228.0 273.9h.9M205.1 260.8h.9M210.3 263.5h.9M228.3 261.3h.9M215.4 276.5h.9M219.4 267.8h.9M209.5 275.2h.9M232.2 280.1h.9M215.9 258.9h.9M239.3 276.8h.9M236.8 271.4h.9M220.3 289.7h.9M231.1 268.2h.9M221.7 265.4h.9M226.7 264.3h.9M247.1 279.2h.9M216.2 271.2h.9M229.4 269.4h.9M231.3 269.1h.9M210.7 275.4h.9M221.7 281.8h.9M222.6 280.8h.9M241.0 276.8h.9M210.3 268.2h.9M221.8 272.7h.9M218.6 268.6h.9M206.6 275.8h.9M225.5 261.7h.9M217.7 274.7h.9M240.5 276.3h.9M218.3 276.0h.9M209.5 271.9h.9M214.5 275.6h.9M196.5 269.4h.9M247.2 275.5h.9M234.4 274.0h.9M229.9 277.5h.9M213.9 263.1h.9M235.6 270.0h.9M204.2 273.8h.9M233.8 271.6h.9M220.4 279.6h.9M223.1 272.3h.9M224.7 256.6h.9M220.1 272.1h.9M238.5 282.1h.9M213.5 272.4h.9M216.9 270.5h.9M222.3 282.3h.9M202.9 272.7h.9M221.6 283.6h.9M209.1 266.5h.9M213.7 261.7h.9M209.2 270.0h.9M221.6 271.1h.9M238.7 272.3h.9M207.8 276.2h.9M229.5 255.4h.9M202.1 275.4h.9M220.8 282.8h.9M230.8 263.7h.9M212.5 261.8h.9M234.6 269.4h.9M240.6 266.2h.9M209.6 278.8h.9M217.5 273.9h.9M200.8 270.9h.9M227.2 276.4h.9M219.4 273.1h.9M232.0 269.9h.9M223.0 274.9h.9M231.4 269.1h.9M224.2 280.5h.9M219.1 266.8h.9M215.2 277.0h.9M209.1 282.8h.9M208.7 263.3h.9M224.5 273.8h.9M237.8 269.5h.9M222.3 279.4h.9M219.9 266.7h.9M217.9 270.6h.9M208.4 281.2h.9M228.3 276.3h.9M226.8 276.8h.9M230.5 276.1h.9M227.8 280.3h.9M219.8 275.9h.9M223.1 274.6h.9M214.6 270.6h.9M218.2 273.1h.9M222.2 265.0h.9M199.3 274.9h.9M214.3 269.1h.9M209.7 260.8h.9M213.3 264.1h.9M225.4 271.7h.9M249.1 278.1h.9M214.5 275.1h.9M217.0 271.1h.9M230.4 256.1h.9M231.0 272.2h.9M230.4 267.6h.9M216.4 279.3h.9M213.8 258.2h.9M219.8 273.7h.9M229.2 272.3h.9M223.3 278.4h.9M232.3 268.4h.9M231.6 274.8h.9M225.4 274.4h.9M221.7 274.4h.9M217.8 273.8h.9M224.9 268.4h.9M223.6 273.8h.9M228.6 273.2h.9M226.5 277.0h.9M225.6 269.5h.9M226.3 269.4h.9M208.9 274.8h.9M237.4 267.5h.9M234.1 277.7h.9M222.9 274.5h.9M222.6 266.2h.9M211.4 265.4h.9M231.2 274.4h.9M216.2 264.8h.9M236.6 276.8h.9M233.0 282.1h.9M209.7 270.3h.9M216.1 268.4h.9M212.5 267.6h.9M212.6 274.6h.9M202.1 268.5h.9M234.3 271.4h.9M219.4 274.2h.9M230.7 272.0h.9M219.4 269.8h.9M230.1 265.7h.9M226.6 271.2h.9M214.4 276.4h.9M228.3 272.5h.9M241.9 275.6h.9M211.9 284.7h.9M226.9 262.6h.9M222.9 264.4h.9M243.3 268.9h.9M222.0 267.7h.9M224.4 275.0h.9M226.7 266.7h.9M222.1 271.2h.9M214.8 267.1h.9M211.7 268.9h.9M235.8 271.7h.9M208.4 265.2h.9M204.0 275.4h.9M210.9 273.9h.9M215.1 267.3h.9M221.9 274.2h.9M215.8 271.6h.9M214.4 272.6h.9M231.8 268.4h.9M238.3 276.8h.9M238.1 274.5h.9M213.1 282.0h.9M206.4 270.5h.9M213.8 278.5h.9M222.4 267.0h.9M211.6 272.2h.9M206.2 266.9h.9M219.0 276.5h.9M220.0 265.6h.9M223.8 285.4h.9M210.1 275.7h.9M212.5 278.8h.9M233.8 257.0h.9M198.0 265.6h.9M231.0 281.8h.9M214.7 269.3h.9M220.9 271.5h.9M226.9 271.3h.9M212.4 271.9h.9M218.6 268.0h.9M222.6 269.8h.9M224.6 274.0h.9M219.7 271.2h.9M235.9 280.8h.9M202.9 275.4h.9M230.4 268.4h.9M227.2 273.1h.9M226.8 276.5h.9M218.6 267.2h.9M231.8 271.3h.9M217.0 270.3h.9M226.3 265.9h.9M228.5 275.5h.9M230.0 270.9h.9M199.1 271.2h.9M202.8 274.1h.9M222.1 271.8h.9M232.2 267.5h.9M201.5 271.2h.9M225.5 272.4h.9M195.9 270.4h.9M208.6 265.1h.9M202.4 275.0h.9M218.5 273.5h.9M223.8 279.7h.9M225.2 271.0h.9M211.6 271.7h.9M209.0 263.5h.9M230.4 271.8h.9M226.6 265.4h.9M235.4 276.5h.9M210.2 275.7h.9M230.3 277.2h.9M224.2 275.5h.9M238.5 267.5h.9M218.8 272.2h.9M228.4 274.2h.9M225.7 276.6h.9M232.0 268.9h.9M227.9 272.2h.9M218.1 267.3h.9M230.0 268.1h.9M209.3 267.4h.9M223.2 272.0h.9M228.2 282.2h.9M217.8 278.9h.9M239.4 271.4h.9M217.1 267.4h.9M229.5 258.8h.9M236.0 271.2h.9M214.4 271.0h.9M220.2 270.8h.9M227.7 276.8h.9M231.9 271.8h.9M215.8 282.3h.9M209.8 268.3h.9M217.4 262.0h.9M237.7 275.3h.9M209.9 266.3h.9M204.1 276.1h.9M201.9 260.2h.9M228.4 273.1h.9M215.1 268.9h.9M212.3 268.3h.9M231.4 279.0h.9M228.0 265.8h.9M219.0 272.1h.9M224.4 280.2h.9M229.4 272.4h.9M218.3 266.4h.9M242.1 266.3h.9M204.8 274.3h.9M222.1 272.2h.9M215.0 267.1h.9M233.8 268.5h.9M219.3 275.0h.9M204.9 272.9h.9M226.6 268.7h.9M217.9 271.5h.9M240.0 267.3h.9M220.7 282.3h.9M230.4 266.7h.9M224.3 268.5h.9M221.0 268.4h.9M224.6 270.5h.9M216.0 270.1h.9M218.1 275.5h.9M216.7 274.5h.9M228.5 264.1h.9M214.8 272.5h.9M225.8 267.6h.9M219.4 271.8h.9M218.6 269.8h.9M223.6 269.8h.9M228.6 272.2h.9M225.0 267.2h.9M206.5 277.7h.9M230.0 263.9h.9M223.3 273.5h.9M225.4 268.3h.9M217.6 265.3h.9M230.4 269.6h.9M232.0 273.4h.9M213.9 270.6h.9M219.4 271.2h.9M220.7 277.0h.9M213.9 274.0h.9M216.5 271.8h.9M224.9 266.8h.9M214.0 275.5h.9M222.1 272.9h.9M225.0 274.9h.9M226.4 274.6h.9M228.5 270.0h.9M215.2 275.7h.9M221.3 267.6h.9M216.7 272.3h.9M219.3 277.0h.9M222.3 268.7h.9M219.6 276.7h.9M230.3 272.6h.9M219.3 270.3h.9M216.9 266.9h.9M225.6 273.9h.9M222.6 276.0h.9M225.7 269.7h.9M228.0 273.4h.9M229.9 275.0h.9M222.6 272.8h.9M223.5 272.0h.9M223.8 269.2h.9M228.8 271.8h.9M216.2 272.5h.9M223.6 271.0h.9M230.5 269.8h.9M221.6 268.7h.9M224.9 269.2h.9M219.2 278.0h.9M219.8 272.9h.9M218.1 266.2h.9M206.4 267.9h.9M212.7 274.1h.9M227.6 264.9h.9M223.4 265.5h.9M227.2 268.7h.9M201.7 270.1h.9M222.3 269.8h.9M220.8 271.6h.9M224.0 266.5h.9M235.8 271.6h.9M219.0 274.4h.9M220.5 272.0h.9M218.1 276.7h.9M210.2 271.6h.9M210.2 267.9h.9M228.0 269.5h.9M221.4 271.6h.9M225.4 272.1h.9M216.3 273.4h.9M231.3 271.7h.9M234.7 271.7h.9M207.3 268.4h.9M215.1 268.4h.9M222.9 272.1h.9M222.8 262.8h.9M224.0 274.1h.9M221.4 271.1h.9M233.4 270.9h.9M237.3 268.8h.9M214.0 273.5h.9M228.0 263.6h.9M224.2 278.0h.9M218.0 271.4h.9M219.9 266.3h.9M208.3 272.2h.9M221.3 272.6h.9M224.2 274.6h.9M204.7 270.8h.9M217.2 276.6h.9M223.3 269.8h.9M222.4 268.0h.9M218.5 268.9h.9M253.4 271.4h.9M243.8 273.1h.9M238.3 266.0h.9M261.2 272.8h.9M254.9 276.0h.9M246.1 270.9h.9M247.8 274.9h.9M252.3 275.6h.9M257.5 272.3h.9M251.2 263.1h.9M256.4 275.8h.9M252.7 271.1h.9M254.0 274.2h.9M248.9 267.4h.9M263.5 268.8h.9M247.2 269.8h.9M267.6 267.1h.9M244.6 270.8h.9M252.5 272.5h.9M242.9 265.0h.9M247.3 269.8h.9M244.5 279.4h.9M235.5 273.8h.9M255.8 265.5h.9M250.1 258.1h.9M239.8 278.3h.9M245.5 265.3h.9M250.0 271.1h.9M246.7 271.7h.9M250.9 267.2h.9M245.0 272.4h.9M255.1 275.5h.9M259.7 272.0h.9M250.8 276.2h.9M246.6 268.0h.9M249.3 272.0h.9M244.4 267.0h.9M244.5 272.3h.9M250.2 263.3h.9M245.7 275.3h.9M250.5 270.4h.9M245.7 274.5h.9M256.9 264.4h.9M244.5 274.7h.9M255.5 271.7h.9M249.1 273.3h.9M258.4 280.0h.9M215.4 255.9h.9M259.5 251.3h.9M272.0 248.0h.9M240.5 254.5h.9M259.1 263.6h.9M259.8 245.5h.9" stroke="#000" stroke-width=".9" stroke-opacity="0.4" fill="none"/>
<path d="M212.3 273.9h.9M220.2 269.4h.9M213.5 274.4h.9M210.6 268.6h.9M219.2 273.8h.9M195.9 282.1h.9M212.5 259.2h.9M218.7 279.9h.9M210.8 274.0h.9M236.0 276.7h.9M228.7 265.5h.9M222.9 271.2h.9M237.1 273.4h.9M213.5 275.9h.9M222.0 273.2h.9M220.9 267.8h.9M218.2 264.0h.9M223.9 273.8h.9M243.0 265.1h.9M234.7 274.6h.9M207.2 265.3h.9M220.0 270.2h.9M205.5 277.8h.9M222.2 278.6h.9M217.2 278.7h.9M208.9 277.0h.9M224.3 268.2h.9M237.7 270.8h.9M198.7 272.9h.9M227.9 258.1h.9M228.8 274.0h.9M234.9 269.2h.9M206.9 283.4h.9M215.2 278.6h.9M216.4 270.6h.9M216.2 282.5h.9M217.2 267.4h.9M210.6 270.5h.9M216.3 280.6h.9M206.1 267.7h.9M230.0 264.3h.9M219.4 264.9h.9M215.8 275.6h.9M220.1 270.7h.9M221.6 271.5h.9M211.3 273.9h.9M197.6 279.2h.9M236.1 267.9h.9M213.0 270.4h.9M245.0 274.9h.9M204.2 271.7h.9M193.3 271.6h.9M215.1 265.5h.9M200.4 277.5h.9M206.8 269.5h.9M238.5 279.9h.9M233.3 272.4h.9M224.9 268.6h.9M224.0 277.0h.9M216.2 276.9h.9M231.8 273.9h.9M218.1 271.4h.9M207.8 273.3h.9M227.6 274.3h.9M223.7 273.5h.9M223.6 275.2h.9M231.9 275.1h.9M235.7 271.1h.9M218.7 266.2h.9M227.9 269.5h.9M232.0 279.1h.9M202.5 275.5h.9M218.1 268.0h.9M214.8 270.1h.9M231.2 274.9h.9M218.0 257.5h.9M238.4 271.3h.9M217.2 281.8h.9M220.6 272.9h.9M219.4 277.6h.9M223.8 266.8h.9M231.8 262.9h.9M214.1 265.5h.9M211.8 267.8h.9M219.3 275.3h.9M237.0 265.3h.9M227.6 273.8h.9M212.0 274.7h.9M217.4 276.4h.9M194.2 276.6h.9M230.7 280.3h.9M214.3 268.9h.9M236.8 275.3h.9M211.0 271.2h.9M221.2 274.6h.9M225.1 271.6h.9M216.7 266.9h.9M213.7 273.7h.9M211.6 275.3h.9M212.6 273.5h.9M221.9 265.3h.9M218.3 279.1h.9M219.6 269.4h.9M219.9 270.6h.9M223.4 261.7h.9M221.3 268.4h.9M229.5 273.5h.9M214.4 263.4h.9M221.7 276.7h.9M220.0 272.8h.9M235.2 281.0h.9M247.8 279.1h.9M213.2 269.8h.9M219.8 278.9h.9M198.4 280.1h.9M207.4 277.4h.9M215.5 273.3h.9M210.4 274.7h.9M231.2 270.2h.9M239.5 270.6h.9M231.2 268.3h.9M229.5 269.7h.9M222.9 273.9h.9M212.6 270.0h.9M207.6 265.8h.9M205.6 271.0h.9M216.9 272.1h.9M234.2 271.2h.9M214.9 274.9h.9M210.0 277.1h.9M230.8 271.1h.9M218.7 280.1h.9M225.7 277.1h.9M212.7 285.4h.9M231.0 268.1h.9M201.5 273.4h.9M231.8 267.7h.9M223.0 269.2h.9M235.4 257.2h.9M212.9 260.4h.9M231.3 271.9h.9M251.0 277.2h.9M216.9 264.6h.9M219.5 267.3h.9M210.2 275.3h.9M205.2 281.7h.9M220.8 279.7h.9M244.1 277.3h.9M193.7 272.3h.9M228.0 280.0h.9M223.0 276.4h.9M230.2 272.1h.9M242.3 282.7h.9M233.1 269.4h.9M212.5 277.5h.9M215.6 269.7h.9M215.6 264.8h.9M224.7 276.8h.9M221.3 281.1h.9M217.5 272.6h.9M225.5 268.7h.9M219.8 265.1h.9M218.8 271.8h.9M217.7 262.8h.9M216.8 278.1h.9M210.1 267.3h.9M233.3 264.8h.9M226.8 283.4h.9M218.4 270.6h.9M191.5 270.2h.9M232.0 275.6h.9M227.7 272.1h.9M224.2 278.5h.9M214.5 272.6h.9M210.0 265.6h.9M233.0 282.9h.9M223.5 285.2h.9M226.1 273.5h.9M209.7 277.4h.9M230.9 275.4h.9M231.0 264.5h.9M234.5 272.5h.9M234.6 265.3h.9M210.9 271.8h.9M213.5 281.6h.9M204.7 269.6h.9M234.5 273.6h.9M231.7 268.5h.9M223.7 274.6h.9M219.7 273.3h.9M224.1 267.8h.9M215.0 279.0h.9M233.2 280.4h.9M228.4 269.1h.9M216.9 265.3h.9M224.3 278.6h.9M219.8 274.0h.9M234.3 269.2h.9M205.7 281.0h.9M218.6 272.5h.9M234.4 273.1h.9M202.9 263.0h.9M227.5 273.1h.9M227.1 270.3h.9M223.3 266.4h.9M218.9 265.8h.9M216.9 272.6h.9M220.1 271.5h.9M199.3 271.2h.9M222.5 265.6h.9M212.1 272.1h.9M223.7 267.2h.9M235.3 272.0h.9M227.9 267.3h.9M207.4 274.1h.9M240.5 269.0h.9M227.5 271.3h.9M214.9 270.9h.9M221.6 266.7h.9M212.5 269.8h.9M229.0 270.2h.9M222.2 278.3h.9M226.1 274.3h.9M215.1 259.6h.9M230.8 271.2h.9M236.3 269.7h.9M229.0 272.0h.9M219.5 278.5h.9M222.3 272.6h.9M209.2 271.9h.9M216.9 276.7h.9M231.8 275.1h.9M218.7 274.4h.9M226.6 268.1h.9M229.8 279.7h.9M215.6 280.1h.9M241.4 272.2h.9M231.6 278.2h.9M225.6 267.5h.9M202.6 262.4h.9M212.8 269.9h.9M234.1 262.1h.9M225.3 274.8h.9M222.9 263.7h.9M214.3 275.2h.9M239.5 273.1h.9M233.8 280.1h.9M229.2 270.9h.9M224.7 277.7h.9M225.7 265.9h.9M205.2 269.2h.9M223.7 273.0h.9M229.0 284.4h.9M206.2 277.0h.9M238.0 276.0h.9M215.5 273.6h.9M211.3 272.9h.9M212.3 274.5h.9M212.4 266.1h.9M217.9 263.5h.9M232.8 273.3h.9M219.7 277.4h.9M235.2 274.1h.9M229.4 268.3h.9M234.7 264.7h.9M218.8 280.3h.9M223.7 274.1h.9M219.6 282.1h.9M222.0 271.8h.9M214.0 271.7h.9M220.0 275.8h.9M206.0 274.3h.9M193.4 264.0h.9M226.0 277.3h.9M224.5 270.0h.9M204.9 271.9h.9M208.7 272.6h.9M229.4 270.1h.9M217.6 275.1h.9M227.1 277.0h.9M213.2 273.7h.9M220.9 265.9h.9M234.6 271.1h.9M242.1 280.2h.9M230.1 281.7h.9M211.2 272.9h.9M219.0 279.5h.9M211.0 273.0h.9M227.1 270.5h.9M221.8 274.2h.9M208.3 276.4h.9M205.1 271.6h.9M222.2 276.4h.9M219.2 268.6h.9M237.0 272.9h.9M212.4 268.2h.9M223.2 282.0h.9M212.4 269.1h.9M234.4 258.3h.9M233.1 269.3h.9M223.5 265.4h.9M205.2 276.1h.9M194.2 271.8h.9M219.5 270.5h.9M219.3 266.5h.9M222.5 277.8h.9M215.5 264.4h.9M207.7 269.8h.9M227.3 275.5h.9M229.3 269.6h.9M214.7 271.4h.9M228.4 272.9h.9M212.6 266.5h.9M233.6 264.0h.9M230.0 267.8h.9M198.3 266.2h.9M205.3 270.7h.9M227.4 272.3h.9M238.9 276.7h.9M209.6 264.1h.9M224.4 265.2h.9M225.1 287.4h.9M210.5 279.1h.9M228.4 272.2h.9M220.2 268.3h.9M221.0 270.7h.9M230.0 271.5h.9M221.3 268.0h.9M232.1 273.0h.9M196.2 266.1h.9M252.5 273.6h.9M223.8 271.0h.9M226.8 267.7h.9M224.4 275.7h.9M221.1 275.8h.9M217.3 264.0h.9M217.3 272.4h.9M209.9 257.4h.9M231.7 272.1h.9M208.5 269.6h.9M210.2 266.0h.9M226.9 270.7h.9M224.7 278.8h.9M204.7 272.5h.9M220.6 274.8h.9M238.4 277.3h.9M221.0 269.2h.9M203.7 272.0h.9M213.6 283.4h.9M220.4 273.5h.9M217.3 273.9h.9M223.6 279.9h.9M222.5 273.2h.9M209.8 272.3h.9M214.1 278.4h.9M231.7 275.6h.9M227.1 273.3h.9M250.7 270.2h.9M212.3 276.8h.9M207.6 273.3h.9M226.0 266.3h.9M224.6 280.4h.9M222.4 272.0h.9M215.4 270.6h.9M223.3 269.2h.9M214.7 268.6h.9M231.5 273.4h.9M243.7 272.5h.9M238.9 273.6h.9M225.3 271.7h.9M245.7 272.2h.9M220.7 272.6h.9M223.3 274.3h.9M223.7 272.8h.9M208.6 269.7h.9M216.6 267.2h.9M228.0 270.2h.9M226.0 280.3h.9M219.4 279.1h.9M216.0 265.3h.9M225.1 279.6h.9M232.9 283.5h.9M212.4 266.6h.9M230.8 277.4h.9M233.4 274.8h.9M237.0 275.0h.9M226.4 274.0h.9M228.9 268.7h.9M222.7 269.8h.9M218.5 280.5h.9M226.2 280.1h.9M225.1 265.4h.9M205.2 274.6h.9M207.6 274.6h.9M219.4 277.8h.9M221.2 266.0h.9M225.8 269.0h.9M221.3 275.0h.9M211.1 273.7h.9M233.0 278.2h.9M222.2 270.3h.9M215.9 273.6h.9M222.7 273.7h.9M222.8 268.1h.9M231.8 274.8h.9M233.2 270.7h.9M217.6 269.4h.9M218.7 270.8h.9M215.6 271.9h.9M219.8 279.5h.9M214.8 270.0h.9M216.2 273.5h.9M224.8 264.0h.9M216.4 266.6h.9M229.8 272.0h.9M218.5 266.9h.9M227.5 276.6h.9M231.9 272.5h.9M220.0 269.3h.9M221.7 265.5h.9M218.5 270.7h.9M215.3 269.8h.9M218.5 266.0h.9M228.7 270.9h.9M217.6 268.2h.9M224.3 275.8h.9M216.3 270.7h.9M228.7 278.9h.9M216.0 273.2h.9M228.9 273.7h.9M227.9 274.9h.9M210.8 266.5h.9M216.2 271.8h.9M219.1 268.3h.9M222.0 273.0h.9M221.3 273.2h.9M227.4 266.6h.9M212.3 273.6h.9M222.4 270.9h.9M226.8 277.9h.9M216.7 277.9h.9M219.1 275.9h.9M220.8 275.3h.9M226.4 270.2h.9M221.7 271.8h.9M216.5 273.4h.9M214.4 274.1h.9M223.6 269.2h.9M218.8 274.2h.9M216.5 276.1h.9M219.3 271.0h.9M232.3 273.6h.9M221.1 268.2h.9M232.0 273.7h.9M218.4 275.3h.9M210.2 270.2h.9M222.8 270.1h.9M227.9 272.3h.9M213.5 271.9h.9M225.3 269.4h.9M215.4 270.2h.9M210.7 272.8h.9M218.0 268.9h.9M217.7 267.8h.9M226.2 268.1h.9M226.4 277.1h.9M225.7 268.0h.9M225.2 273.9h.9M219.8 270.2h.9M218.6 263.8h.9M207.7 270.0h.9M219.1 266.7h.9M221.7 269.9h.9M223.4 260.4h.9M223.1 274.3h.9M226.7 269.2h.9M226.3 267.1h.9M223.8 274.8h.9M218.6 273.4h.9M214.7 275.9h.9M222.6 275.2h.9M221.5 278.5h.9M225.0 269.7h.9M223.4 276.2h.9M227.9 275.3h.9M221.0 276.4h.9M218.8 268.2h.9M222.1 274.8h.9M221.9 270.1h.9M217.0 274.8h.9M219.3 267.8h.9M225.4 273.5h.9M213.4 270.5h.9M227.1 273.1h.9M220.5 270.2h.9M217.5 273.2h.9M215.7 275.7h.9M228.1 268.8h.9M222.7 270.6h.9M251.5 265.3h.9M255.6 274.3h.9M249.4 264.9h.9M246.5 264.4h.9M250.9 272.8h.9M261.5 268.7h.9M252.2 274.1h.9M256.2 275.1h.9M250.8 269.3h.9M241.5 267.2h.9M259.0 269.8h.9M248.8 266.4h.9M250.5 274.2h.9M248.1 264.9h.9M246.4 276.7h.9M254.8 268.1h.9M260.1 272.4h.9M236.3 266.8h.9M244.7 270.3h.9M249.0 263.5h.9M238.5 270.6h.9M246.9 267.4h.9M255.9 260.0h.9M250.7 268.9h.9M246.4 269.6h.9M253.7 271.6h.9M257.5 272.8h.9M250.1 272.6h.9M252.1 275.8h.9M243.8 268.0h.9M247.7 282.7h.9M258.3 264.6h.9M263.8 271.3h.9M252.0 269.8h.9M251.9 269.0h.9M256.1 274.2h.9M250.2 267.2h.9M242.5 271.2h.9M253.3 277.5h.9M249.3 273.2h.9M252.3 263.7h.9M250.6 260.6h.9M245.1 271.2h.9M239.1 276.1h.9M244.9 273.7h.9M262.0 269.9h.9M256.3 271.3h.9M245.7 256.4h.9M253.1 243.9h.9M246.2 248.5h.9M250.2 267.2h.9M255.1 261.1h.9" stroke="#000" stroke-width=".9" stroke-opacity="0.4" fill="none"/>
<rect x="190.8" y="201.5" width="100.1" height="100.0" fill="none" stroke="#c4c4c4" stroke-width="1"/>
<path d="M241.2 201.5V301.5M190.8 261.5H290.9" stroke="#4a4a4a" stroke-width="1.2" fill="none"/>
<path d="M188.2 294.6H190.8M197.7 301.5V304.3M188.2 262.6H190.8M229.7 301.5V304.3M188.2 235.5H190.8M256.9 301.5V304.3M188.2 211.9H190.8M280.5 301.5V304.3" stroke="#111" stroke-width="1" fill="none"/>
<path d="M189.2 287.6H190.8M189.2 269.7H190.8M189.2 254.4H190.8M189.2 249.7H190.8M189.2 246.3H190.8M189.2 243.7H190.8M189.2 241.5H190.8M189.2 239.7H190.8M189.2 238.1H190.8M189.2 236.8H190.8M189.2 228.4H190.8M189.2 224.2H190.8M189.2 221.3H190.8M189.2 219.0H190.8M189.2 217.1H190.8M189.2 215.5H190.8M189.2 214.2H190.8M189.2 213.0H190.8M189.2 204.4H190.8" stroke="#777" stroke-width=".8" fill="none"/>
<path d="M204.7 301.5V303.6M222.6 301.5V303.6M237.9 301.5V303.6M242.7 301.5V303.6M246.1 301.5V303.6M248.7 301.5V303.6M250.8 301.5V303.6M252.7 301.5V303.6M254.2 301.5V303.6M255.6 301.5V303.6M264.0 301.5V303.6M268.1 301.5V303.6M271.1 301.5V303.6M273.4 301.5V303.6M275.3 301.5V303.6M276.8 301.5V303.6M278.2 301.5V303.6M279.4 301.5V303.6M288.0 301.5V303.6" stroke="#333" stroke-width=".8" fill="none"/>
<rect x="188.8" y="276.5" width="2" height="4.6" fill="#111"/>
<rect x="210.9" y="301.5" width="5.2" height="2.4" fill="#111"/>
<text x="185.20" y="215.19" font-size="7.6" text-anchor="end">10<tspan font-size="5.60" dy="-2.8">5</tspan></text>
<text x="185.20" y="238.81" font-size="7.6" text-anchor="end">10<tspan font-size="5.60" dy="-2.8">4</tspan></text>
<text x="185.20" y="265.90" font-size="7.6" text-anchor="end">10<tspan font-size="5.60" dy="-2.8">3</tspan></text>
<text x="185.20" y="297.88" font-size="7.6" text-anchor="end">-10<tspan font-size="5.60" dy="-2.8">3</tspan></text>
<text x="181.8" y="281.5" font-size="7.6" text-anchor="end">0</text>
<text x="199.33" y="318.00" font-size="7.6" text-anchor="middle">-10<tspan font-size="5.60" dy="-2.8">3</tspan></text>
<text x="216.03" y="318.00" font-size="7.6" text-anchor="middle">0</text>
<text x="231.34" y="318.00" font-size="7.6" text-anchor="middle">10<tspan font-size="5.60" dy="-2.8">3</tspan></text>
<text x="258.45" y="318.00" font-size="7.6" text-anchor="middle">10<tspan font-size="5.60" dy="-2.8">4</tspan></text>
<text x="282.10" y="318.00" font-size="7.6" text-anchor="middle">10<tspan font-size="5.60" dy="-2.8">5</tspan></text>
<text x="239.8" y="196.6" font-size="8.5" text-anchor="middle" textLength="22" lengthAdjust="spacingAndGlyphs">AhR<tspan font-size="5.5" dy="-3">-/-</tspan></text>
<text x="193.8" y="210.3" font-size="6.8">Q1</text><text x="193.8" y="218.5" font-size="6.8">2.02</text>
<text x="280.8" y="210.3" font-size="6.8" text-anchor="end">Q2</text><text x="280.8" y="218.5" font-size="6.8" text-anchor="end">1.32</text>
<text x="280.6" y="289.1" font-size="6.8" text-anchor="end">Q3</text><text x="280.6" y="297.1" font-size="6.8" text-anchor="end">8.81</text>
<text x="193.8" y="289.1" font-size="6.8">Q4</text><text x="193.8" y="297.1" font-size="6.8">87.9</text>
<path d="M26 394.4V22" stroke="#111" stroke-width="1.8"/>
<path d="M26 13L31 24.2L26 22.2L21 24.2Z" fill="#111"/>
<path d="M48.9 417.7H296" stroke="#111" stroke-width="1.5"/>
<path d="M305.3 417.7L293.2 412.8L295.8 417.7L293.2 422.6Z" fill="#111"/>
<text x="0" y="0" font-size="10" text-anchor="middle" textLength="20.2" lengthAdjust="spacingAndGlyphs" transform="translate(15.9 191) rotate(-90)">IL-17</text>
<text x="179.5" y="434.6" font-size="10" text-anchor="middle" textLength="21.4" lengthAdjust="spacingAndGlyphs">IFN-γ</text>
<text x="8.2" y="14.5" font-size="11.8" font-weight="bold">A</text>
<text x="332.3" y="14.9" font-size="11.8" font-weight="bold">B</text>
<path d="M372.8 57.8V103.4" stroke="#111" stroke-width="1.4"/>
<path d="M369.6 60.1H372.8M369.6 70.9H372.8M369.6 81.9H372.8M369.6 92.8H372.8" stroke="#111" stroke-width="1.1"/>
<text x="366.40" y="64.70" font-size="8.6" text-anchor="end">8×10<tspan font-size="6.00" dy="-2.8">3</tspan></text>
<text x="366.40" y="75.50" font-size="8.6" text-anchor="end">6×10<tspan font-size="6.00" dy="-2.8">3</tspan></text>
<text x="366.40" y="86.50" font-size="8.6" text-anchor="end">4×10<tspan font-size="6.00" dy="-2.8">3</tspan></text>
<text x="366.40" y="97.40" font-size="8.6" text-anchor="end">2×10<tspan font-size="6.00" dy="-2.8">3</tspan></text>
<path d="M370.8 103.3H374.8" stroke="#111" stroke-width="1.1"/>
<path d="M372.8 110.4V153.5" stroke="#111" stroke-width="1.4"/>
<path d="M369.6 110.9H372.8M369.6 121.6H372.8M369.6 132.3H372.8M369.6 142.9H372.8M369.6 153.5H372.8" stroke="#111" stroke-width="1.1"/>
<text x="366.40" y="115.50" font-size="8.6" text-anchor="end">2.0×10<tspan font-size="6.00" dy="-2.8">2</tspan></text>
<text x="366.40" y="126.20" font-size="8.6" text-anchor="end">1.5×10<tspan font-size="6.00" dy="-2.8">2</tspan></text>
<text x="366.40" y="136.90" font-size="8.6" text-anchor="end">1.0×10<tspan font-size="6.00" dy="-2.8">2</tspan></text>
<text x="366.40" y="147.50" font-size="8.6" text-anchor="end">5.0×10<tspan font-size="6.00" dy="-2.8">1</tspan></text>
<text x="366.40" y="156.20" font-size="8.6" text-anchor="end">0.0</text>
<path d="M374.8 110.9H372.8" stroke="#111" stroke-width="1.1"/>
<rect x="386.5" y="111.2" width="16.9" height="42.3" fill="#d88b82" stroke="#8e1a30" stroke-width="1.2"/>
<rect x="386.5" y="97.9" width="16.9" height="5.7" fill="#d88b82"/>
<path d="M386.5 103.6V97.9H403.4V103.6" stroke="#8e1a30" stroke-width="1.2" fill="none"/>
<path d="M390.0 93.3H400.0M395.0 93.3V102.3M390.0 102.3H400.0" stroke="#4a0a1a" stroke-width="1.2" fill="none"/>
<rect x="412.6" y="143.4" width="17.7" height="10.1" fill="#8e9dcc" stroke="#2c3f7a" stroke-width="1.2"/>
<path d="M417.2 139.8H425.6M421.4 139.8V146.5M417.2 146.5H425.6" stroke="#1f2d55" stroke-width="1.2" fill="none"/>
<rect x="456.6" y="111.4" width="17.3" height="42.1" fill="#d88b82" stroke="#8e1a30" stroke-width="1.2"/>
<rect x="456.6" y="98.7" width="17.3" height="4.9" fill="#d88b82"/>
<path d="M456.6 103.6V98.7H473.9V103.6" stroke="#8e1a30" stroke-width="1.2" fill="none"/>
<path d="M460.4 95.6H469.6M465.0 95.6V102.3M460.4 102.3H469.6" stroke="#4a0a1a" stroke-width="1.2" fill="none"/>
<rect x="482.5" y="142.6" width="18.2" height="10.9" fill="#8e9dcc" stroke="#2c3f7a" stroke-width="1.2"/>
<path d="M487.3 138.5H495.9M491.6 138.5V146.5M487.3 146.5H495.9" stroke="#1f2d55" stroke-width="1.2" fill="none"/>
<circle cx="394.9" cy="67.1" r="1.9" fill="#8e0a26"/>
<circle cx="394.8" cy="102.3" r="1.9" fill="#8e0a26"/>
<circle cx="392.3" cy="113.4" r="1.9" fill="#8e0a26"/>
<circle cx="397.7" cy="116.0" r="1.9" fill="#8e0a26"/>
<circle cx="389.3" cy="138.4" r="1.9" fill="#8e0a26"/>
<circle cx="394.6" cy="144.2" r="1.9" fill="#8e0a26"/>
<circle cx="400.4" cy="144.0" r="1.9" fill="#8e0a26"/>
<circle cx="464.8" cy="81.0" r="1.9" fill="#8e0a26"/>
<circle cx="464.8" cy="91.0" r="1.9" fill="#8e0a26"/>
<circle cx="462.1" cy="102.5" r="1.9" fill="#8e0a26"/>
<circle cx="467.9" cy="102.5" r="1.9" fill="#8e0a26"/>
<circle cx="462.0" cy="134.0" r="1.9" fill="#8e0a26"/>
<circle cx="468.0" cy="134.7" r="1.9" fill="#8e0a26"/>
<circle cx="462.0" cy="144.8" r="1.9" fill="#8e0a26"/>
<circle cx="468.0" cy="143.6" r="1.9" fill="#8e0a26"/>
<circle cx="420.9" cy="121.6" r="1.9" fill="#2e4069"/>
<circle cx="415.5" cy="146.5" r="1.9" fill="#2e4069"/>
<circle cx="420.5" cy="148.5" r="1.9" fill="#2e4069"/>
<circle cx="426.0" cy="147.5" r="1.9" fill="#2e4069"/>
<circle cx="418.0" cy="150.5" r="1.9" fill="#2e4069"/>
<circle cx="423.0" cy="150.8" r="1.9" fill="#2e4069"/>
<circle cx="421.0" cy="144.5" r="1.9" fill="#2e4069"/>
<circle cx="491.1" cy="113.5" r="1.9" fill="#2e4069"/>
<circle cx="486.0" cy="147.0" r="1.9" fill="#2e4069"/>
<circle cx="492.0" cy="146.0" r="1.9" fill="#2e4069"/>
<circle cx="497.0" cy="147.5" r="1.9" fill="#2e4069"/>
<circle cx="489.0" cy="150.5" r="1.9" fill="#2e4069"/>
<circle cx="494.0" cy="151.0" r="1.9" fill="#2e4069"/>
<circle cx="486.5" cy="151.5" r="1.9" fill="#2e4069"/>
<path d="M370 153.5H509.5" stroke="#111" stroke-width="1.5"/>
<path d="M407.5 153.5V156.8M477.8 153.5V156.8" stroke="#111" stroke-width="1.1"/>
<path d="M372.8 219.7V263.8" stroke="#111" stroke-width="1.4"/>
<path d="M369.6 223.0H372.8M369.6 241.2H372.8M369.6 260.1H372.8" stroke="#111" stroke-width="1.1"/>
<text x="366.40" y="225.70" font-size="8.6" text-anchor="end">15</text>
<text x="366.40" y="243.90" font-size="8.6" text-anchor="end">10</text>
<text x="366.40" y="262.80" font-size="8.6" text-anchor="end">5</text>
<path d="M370.8 263.7H374.8" stroke="#111" stroke-width="1.1"/>
<path d="M372.8 270.8V312.3" stroke="#111" stroke-width="1.4"/>
<path d="M369.6 271.1H372.8M369.6 281.5H372.8M369.6 291.8H372.8M369.6 302.0H372.8M369.6 312.3H372.8" stroke="#111" stroke-width="1.1"/>
<text x="366.40" y="273.80" font-size="8.6" text-anchor="end">4</text>
<text x="366.40" y="284.20" font-size="8.6" text-anchor="end">3</text>
<text x="366.40" y="294.50" font-size="8.6" text-anchor="end">2</text>
<text x="366.40" y="304.70" font-size="8.6" text-anchor="end">1</text>
<text x="366.40" y="315.00" font-size="8.6" text-anchor="end">0</text>
<path d="M374.8 271.1H372.8" stroke="#111" stroke-width="1.1"/>
<rect x="385.4" y="291.8" width="17.3" height="20.5" fill="#d88b82" stroke="#8e1a30" stroke-width="1.2"/>
<rect x="410.7" y="299.7" width="17.0" height="12.6" fill="#8e9dcc" stroke="#2c3f7a" stroke-width="1.2"/>
<rect x="452.8" y="283.6" width="17.1" height="28.7" fill="#d88b82" stroke="#8e1a30" stroke-width="1.2"/>
<rect x="477.3" y="300.3" width="18.4" height="12.0" fill="#8e9dcc" stroke="#2c3f7a" stroke-width="1.2"/>
<path d="M391.0 286.5H398.2M394.6 286.5V297.2M391.0 297.2H398.2" stroke="#4a0a1a" stroke-width="1.2" fill="none"/>
<path d="M414.5 295.3H423.9M419.2 295.3V304.1M414.5 304.1H423.9" stroke="#1f2d55" stroke-width="1.2" fill="none"/>
<path d="M456.3 271.9H466.1M461.2 271.9V294.5M456.3 294.5H466.1" stroke="#4a0a1a" stroke-width="1.2" fill="none"/>
<path d="M481.9 295.4H490.9M486.4 295.4V304.3M481.9 304.3H490.9" stroke="#1f2d55" stroke-width="1.2" fill="none"/>
<circle cx="391.2" cy="271.5" r="1.9" fill="#8e0a26"/>
<circle cx="399.2" cy="276.2" r="1.9" fill="#8e0a26"/>
<circle cx="396.5" cy="281.5" r="1.9" fill="#8e0a26"/>
<circle cx="391.2" cy="284.9" r="1.9" fill="#8e0a26"/>
<circle cx="391.2" cy="301.5" r="1.9" fill="#8e0a26"/>
<circle cx="396.9" cy="301.5" r="1.9" fill="#8e0a26"/>
<circle cx="391.2" cy="309.2" r="1.9" fill="#8e0a26"/>
<circle cx="396.9" cy="308.9" r="1.9" fill="#8e0a26"/>
<circle cx="461.2" cy="242.5" r="1.9" fill="#8e0a26"/>
<circle cx="461.2" cy="262.9" r="1.9" fill="#8e0a26"/>
<circle cx="461.2" cy="277.9" r="1.9" fill="#8e0a26"/>
<circle cx="461.2" cy="285.0" r="1.9" fill="#8e0a26"/>
<circle cx="455.7" cy="306.2" r="1.9" fill="#8e0a26"/>
<circle cx="461.2" cy="310.2" r="1.9" fill="#8e0a26"/>
<circle cx="466.2" cy="310.2" r="1.9" fill="#8e0a26"/>
<circle cx="416.4" cy="279.9" r="1.9" fill="#2e4069"/>
<circle cx="421.5" cy="283.3" r="1.9" fill="#2e4069"/>
<circle cx="419.2" cy="291.9" r="1.9" fill="#2e4069"/>
<circle cx="413.0" cy="309.8" r="1.9" fill="#2e4069"/>
<circle cx="419.0" cy="310.0" r="1.9" fill="#2e4069"/>
<circle cx="425.0" cy="309.8" r="1.9" fill="#2e4069"/>
<circle cx="425.5" cy="305.5" r="1.9" fill="#2e4069"/>
<circle cx="486.2" cy="272.9" r="1.9" fill="#2e4069"/>
<circle cx="486.2" cy="292.6" r="1.9" fill="#2e4069"/>
<circle cx="483.3" cy="298.7" r="1.9" fill="#2e4069"/>
<circle cx="489.3" cy="298.7" r="1.9" fill="#2e4069"/>
<circle cx="480.5" cy="309.8" r="1.9" fill="#2e4069"/>
<circle cx="486.5" cy="310.0" r="1.9" fill="#2e4069"/>
<circle cx="492.5" cy="309.8" r="1.9" fill="#2e4069"/>
<path d="M370 312.3H506.5" stroke="#111" stroke-width="1.5"/>
<path d="M406.5 312.3V315.8M473.3 312.3V315.8" stroke="#111" stroke-width="1.1"/>
<text font-size="9" text-anchor="middle" transform="translate(319.5 106.5) rotate(-90)" textLength="86" lengthAdjust="spacingAndGlyphs">Number of Th17 cells</text>
<text font-size="9" text-anchor="middle" transform="translate(329.8 105.2) rotate(-90)" textLength="46.5" lengthAdjust="spacingAndGlyphs">in the colon</text>
<text font-size="9" text-anchor="middle" transform="translate(339.6 266.9) rotate(-90)" textLength="95" lengthAdjust="spacingAndGlyphs">Frequency of Th17 cells</text>
<text font-size="9" text-anchor="middle" transform="translate(351.3 265.1) rotate(-90)" textLength="45.7" lengthAdjust="spacingAndGlyphs">in the colon</text>
<text font-size="7.9" text-anchor="end" transform="translate(407.8 165.3) rotate(-45)">IL-17<tspan font-size="6" dy="-3">+</tspan><tspan dy="3"></tspan></text>
<text font-size="7.9" text-anchor="end" transform="translate(477.6 166.0) rotate(-45)">IL-17<tspan font-size="6" dy="-3">+</tspan><tspan dy="3"></tspan>IFN-γ<tspan font-size="6" dy="-3">+</tspan><tspan dy="3"></tspan></text>
<text font-size="7.9" text-anchor="end" transform="translate(408.8 323.6) rotate(-45)">IL-17<tspan font-size="6" dy="-3">+</tspan><tspan dy="3"></tspan></text>
<text font-size="7.9" text-anchor="end" transform="translate(474.2 325.0) rotate(-45)">IL-17<tspan font-size="6" dy="-3">+</tspan><tspan dy="3"></tspan>IFN-γ<tspan font-size="6" dy="-3">+</tspan><tspan dy="3"></tspan></text>
<rect x="472.6" y="51.4" width="9.4" height="5" fill="#d88b82" stroke="#8e1a30" stroke-width="1.1"/>
<rect x="472.6" y="61.5" width="9.4" height="5" fill="#8e9dcc" stroke="#2c3f7a" stroke-width="1.1"/>
<text x="486" y="56.8" font-size="8">WT</text>
<text x="486" y="66.6" font-size="8">AhR<tspan font-size="5.5" dy="-3.2">-/-</tspan></text>
</g></svg></body></html>
